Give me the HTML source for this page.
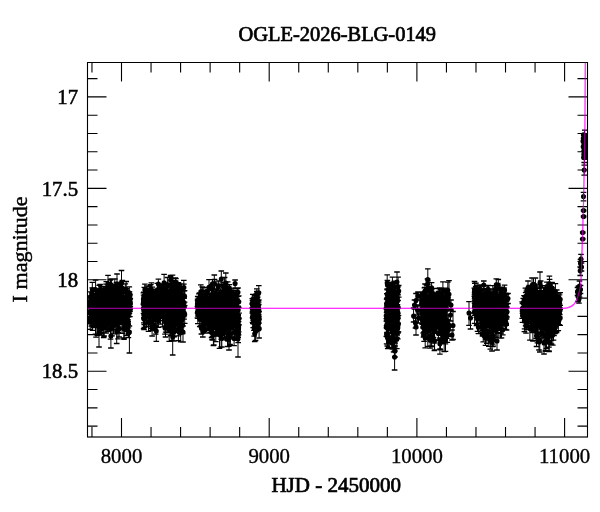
<!DOCTYPE html><html><head><meta charset="utf-8"><style>html,body{margin:0;padding:0;background:#fff;overflow:hidden}svg{display:block}</style></head><body><svg width="600" height="512" viewBox="0 0 600 512"><rect width="600" height="512" fill="#fff"/><defs><clipPath id="c"><rect x="87.5" y="62.5" width="500" height="374.5"/></clipPath></defs><g clip-path="url(#c)"><path id="m0" d="M87.5 308.4H562.6C567 308.4 571 307 574 304.2C577 301 579 294 580.6 285.6C581.2 280 581.6 265 581.8 258L582.4 240L583.6 200L584.4 160L584.9 130L585.3 62" stroke="#ff70ff" stroke-width="1.2" fill="none"/><path d="M90 301L91.4 299.1L92.7 297.8L94.1 297.2L95.4 296.5L96.8 295.9L98.2 295.3L99.5 294.6L100.9 294.2L102.3 293.8L103.6 293.4L105 293L106.3 292.9L107.7 292.8L109.1 292.7L110.4 292.6L111.8 292.5L113.2 292.4L114.5 292.3L115.9 292.1L117.2 291.9L118.6 291.7L120 291.5L121.3 292.6L122.7 293.7L124.1 294.8L125.4 296L126.8 297.3L128.1 298.6L129.5 300.7L129.5 320.1L128.1 320.5L126.8 320.5L125.4 320.4L124.1 320.2L122.7 319.9L121.3 319.6L120 319.2L118.6 319.2L117.2 319.2L115.9 319.2L114.5 319.2L113.2 319.2L111.8 319.2L110.4 319.1L109.1 319.1L107.7 319.1L106.3 319L105 319L103.6 318.9L102.3 318.8L100.9 318.7L99.5 318.6L98.2 318.5L96.8 318.5L95.4 318.4L94.1 318.4L92.7 318.4L91.4 318.5L90 318.8ZM144 297.7L145.4 296.9L146.8 296.9L148.1 296.8L149.5 296.7L150.9 296.7L152.3 296.8L153.7 296.9L155 297L156.4 294.4L157.8 291.8L159.2 291.4L160.6 291.3L161.9 291.3L163.3 291.2L164.7 291.2L166.1 291.1L167.4 291.1L168.8 291L170.2 291L171.6 290.9L173 290.8L174.3 290.8L175.7 291.1L177.1 291.8L178.5 292.4L179.9 293.1L181.2 294L182.6 295L184 296L184 322L182.6 321.3L181.2 320.5L179.9 319.8L178.5 319.7L177.1 319.5L175.7 319.3L174.3 319.3L173 319.3L171.6 319.3L170.2 319.3L168.8 319.3L167.4 319.2L166.1 319.1L164.7 319.1L163.3 319L161.9 319L160.6 318.9L159.2 318.9L157.8 318.9L156.4 319.4L155 320L153.7 319.1L152.3 318.3L150.9 317.4L149.5 316.8L148.1 316.7L146.8 316.6L145.4 316.4L144 316.5ZM198 299.2L199.4 298.4L200.8 298.3L202.2 298.4L203.6 298.4L205 298.4L206.4 297.4L207.8 296.3L209.1 295.3L210.5 294.7L211.9 294.7L213.3 294.7L214.7 294.8L216.1 294.8L217.5 294.9L218.9 294.9L220.3 295L221.7 295L223.1 294.9L224.5 294.9L225.9 294.9L227.3 294.8L228.6 294.8L230 294.8L231.4 294.8L232.8 294.7L234.2 294.7L235.6 295.3L237 296.7L238.4 298.7L238.4 325.8L237 326.3L235.6 326.3L234.2 326.3L232.8 326.2L231.4 326.1L230 326.1L228.6 326L227.3 326L225.9 325.9L224.5 325.8L223.1 325.8L221.7 325.7L220.3 325.6L218.9 325.3L217.5 324.8L216.1 324.4L214.7 324L213.3 323.6L211.9 323.3L210.5 323L209.1 322.8L207.8 322.7L206.4 322.7L205 322.6L203.6 321.7L202.2 320.9L200.8 320L199.4 319.4L198 319.3ZM253 300.4L253.2 300.4L253.4 300.4L253.5 300.4L253.7 300.4L253.9 300.4L254.1 300.4L254.3 300.4L254.5 300.4L254.6 300.4L254.8 300.4L255 300.4L255.2 300.4L255.4 300.4L255.6 300.4L255.7 300.4L255.9 300.4L256.1 300.4L256.3 300.4L256.5 300.4L256.7 300.4L256.8 300.4L257 300.4L257.2 300.4L257.4 300.4L257.6 300.4L257.8 300.4L257.9 300.4L258.1 300.5L258.3 300.6L258.3 324.2L258.1 324.5L257.9 324.6L257.8 324.6L257.6 324.6L257.4 324.6L257.2 324.6L257 324.6L256.8 324.6L256.7 324.6L256.5 324.6L256.3 324.6L256.1 324.6L255.9 324.6L255.7 324.6L255.6 324.6L255.4 324.6L255.2 324.6L255 324.6L254.8 324.6L254.6 324.6L254.5 324.6L254.3 324.6L254.1 324.6L253.9 324.6L253.7 324.6L253.5 324.6L253.4 324.6L253.2 324.6L253 324.6ZM386.8 294.1L387.2 293.8L387.6 293.7L387.9 293.6L388.3 293.5L388.7 293.4L389.1 293.3L389.5 293.2L389.9 293.1L390.2 293L390.6 292.9L391 292.8L391.4 292.7L391.8 292.6L392.2 292.5L392.5 292.4L392.9 292.3L393.3 292.1L393.7 292L394.1 291.8L394.5 291.7L394.8 291.5L395.2 291.4L395.6 291.2L396 291L396.4 290.8L396.8 290.6L397.1 290.4L397.5 290.1L397.9 289.8L397.9 323.2L397.5 323.8L397.1 324.3L396.8 324.7L396.4 324.9L396 325.1L395.6 325.4L395.2 325.6L394.8 325.8L394.5 326L394.1 326.2L393.7 326.4L393.3 326.6L392.9 326.8L392.5 327.1L392.2 327.3L391.8 327.4L391.4 327.4L391 327.4L390.6 327.4L390.2 327.5L389.9 327.5L389.5 327.5L389.1 327.5L388.7 327.5L388.3 327.6L387.9 327.6L387.6 327.6L387.2 327.6L386.8 327.5ZM422.5 299.1L423.4 298.8L424.2 298.4L425.1 298.1L426 298.1L426.9 298.2L427.7 298.2L428.6 298.2L429.5 298.3L430.4 298.3L431.2 298.3L432.1 298.2L433 298.2L433.8 298.2L434.7 298.2L435.6 298.1L436.5 298.1L437.3 298.1L438.2 298.1L439.1 298L439.9 298L440.8 298L441.7 298L442.6 297.9L443.4 297.9L444.3 297.9L445.2 298L446.1 298.3L446.9 298.7L447.8 299.1L447.8 329.5L446.9 329.7L446.1 329.9L445.2 330.1L444.3 330.1L443.4 330.1L442.6 330L441.7 330L440.8 329.9L439.9 329.9L439.1 329.9L438.2 329.8L437.3 329.8L436.5 329.7L435.6 329.7L434.7 329.7L433.8 329.6L433 329.6L432.1 329.5L431.2 329.5L430.4 329.5L429.5 329.3L428.6 329L427.7 328.7L426.9 328.4L426 328.1L425.1 327.8L424.2 327.6L423.4 327.4L422.5 326.7ZM475 294.9L476.1 294.9L477.1 295.1L478.2 295.2L479.3 295.3L480.3 295.4L481.4 295.5L482.5 295.6L483.6 295.6L484.6 295.7L485.7 295.6L486.8 295.5L487.8 295.4L488.9 295.4L490 295.5L491 295.6L492.1 295.7L493.2 295.7L494.2 295.8L495.3 295.8L496.4 295.7L497.4 295.5L498.5 295.6L499.6 295.8L500.7 296L501.7 296.1L502.8 296.5L503.9 297.1L504.9 297.6L506 298.5L506 317.5L504.9 319.4L503.9 320.6L502.8 321.8L501.7 323L500.7 324.3L499.6 325.3L498.5 325.9L497.4 326.5L496.4 327.2L495.3 327.9L494.2 327.9L493.2 327.5L492.1 327.2L491 326.8L490 326.5L488.9 326.1L487.8 325.8L486.8 325.5L485.7 325.2L484.6 324.6L483.6 323.4L482.5 322.3L481.4 321.1L480.3 320L479.3 318.7L478.2 317.5L477.1 316.2L476.1 315L475 314.1ZM523 299L524.3 297.3L525.5 296.6L526.8 295.8L528 295L529.3 294.9L530.6 294.7L531.8 294.5L533.1 294.4L534.3 294.4L535.6 294.4L536.8 294.5L538.1 294.5L539.4 294.9L540.6 295.1L541.9 295.2L543.1 295.3L544.4 295.4L545.7 295.5L546.9 295.6L548.2 295.7L549.4 295.7L550.7 295.7L551.9 295.7L553.2 295.8L554.5 295.6L555.7 296L557 296.7L558.2 297.5L559.5 298.7L559.5 318.5L558.2 320.4L557 321.7L555.7 322.9L554.5 324.2L553.2 325.6L551.9 326.3L550.7 326.8L549.4 327.4L548.2 328L546.9 328L545.7 327.8L544.4 327.7L543.1 327.5L541.9 327.4L540.6 327.2L539.4 326.6L538.1 325.6L536.8 324.6L535.6 323.6L534.3 322.7L533.1 321.7L531.8 320.8L530.6 319.8L529.3 318.9L528 318L526.8 317.2L525.5 316.4L524.3 315.7L523 315.3ZM583.3 133H588V160H583.3Z" fill="#000"/><path d="M114.9 303.5V312.1M129.8 295.9V303.9M110.4 280V288.6M124 304.5V312.1M122.8 297.6V315M105.7 308.8V319.2M116.4 298.4V310.4M99 304.8V319.5M90.2 295.8V308M106.8 302.9V311.4M110.5 299.1V310.5M121.8 301.7V308.7M103.2 299.2V315.3M127.1 290.8V306.9M122.3 299V308.4M91.3 313.2V326.2M108.9 288.2V298.1M91.7 301.7V309.2M90.1 305.1V320.7M122.1 311.6V333.4M93.8 304V310.8M118.9 293.4V301.2M99.6 291.2V299.2M101.5 309.3V321.4M118.4 308.5V332.5M111.2 308.6V323.2M118.8 309.1V328.6M115.6 298.5V308.4M106.5 294.6V306.9M104.9 306.8V320.3M95.3 298V306.1M126.8 316.2V330.7M102.1 292.9V301.7M126.9 316.5V330.2M109.9 309.2V327M111.2 297.6V312.6M129.5 291.8V305.3M125.4 301.1V312.3M120.3 298V305.3M110.3 309.2V320.6M118.1 302.9V312M119.1 299.5V308M119.2 286.1V300.5M107.9 302.2V309.9M123.2 300.1V312.1M130.3 298.5V306.5M125.5 315.6V329.7M109.5 287.4V300.9M120.8 311.7V324.5M91.5 295.5V308.6M115.1 307V326.8M92 300.1V307.1M120.8 294.4V304.4M96.3 300.5V309.1M105.9 301.3V314.4M120.9 309.3V322.3M123.4 305.8V314.6M128.3 312.2V334M117.7 304.2V314.5M127.3 303.2V310.2M121.5 286.8V295.6M118.1 298.8V310.6M124.6 301.4V312.2M108.3 300.9V314.3M92.3 307.8V320.7M120.1 294.1V303.5M96 314.3V337.2M93.6 311.4V327.4M109.2 295.7V311.8M120.1 285.1V292.6M103.9 309V326.1M99.7 299.4V308.4M107.2 306.2V317.1M126.4 313.5V324.9M126.9 313.7V325.1M119.5 292.9V302M125.9 312.5V328.9M94.9 302.5V320M120.5 285.9V301.1M118.2 307.4V318.8M101 286.7V293.3M102.9 310.5V325M115.2 310V324.4M111.7 314.3V328.9M94.5 308.3V318.9M93.2 297.7V311.3M107.1 297.2V307.1M112.9 291.9V301.1M116.2 307V324.9M118.8 311.5V329.2M114.8 279V293M122.4 304.8V314.4M126.4 311.2V331.7M93.1 300.1V311.3M95.8 293.7V300.4M93.7 297.1V304.4M106.8 313.6V329.1M130 294.5V303.5M115.5 288.6V298.8M117.8 291.7V306.4M92.2 287.8V299.8M101.7 289.5V303.5M104.5 310.8V324.8M113.5 319.4V333.8M113.1 302.8V311.9M97.2 303.1V316.3M106 284.2V294.4M109.1 311.9V328.9M124 310.2V324.4M94.3 293.5V302M127.3 291.9V299.3M126.2 301V311.3M120.6 292.4V304.1M130.1 298.3V309.5M126.7 291.4V299.3M91.1 309.5V323.5M111.7 303.8V320.6M129.2 304.8V313.9M101.3 292.5V301.5M128.6 306.4V316M102.6 310V323.9M91.7 305.6V314.8M107.6 289.4V296.9M104.8 313.2V325.7M93.5 313.1V327.7M100.5 295.4V302.4M107 305.2V313.9M130 304.3V311.3M104.4 289.6V297.1M117.8 298.8V306.1M97 306.1V315.6M122.1 306.4V314.4M119.1 321.3V337M95.6 280.2V298.6M117.2 309.9V330.3M128.3 292.5V303.3M107.3 310.4V323.5M129.8 299.3V308.6M103.5 302.9V316.5M97 290.8V299.2M109.5 285.1V302.6M101.3 301.8V318.9M115.7 285.5V292.4M90.6 300.6V312.5M107.8 302.8V316.7M98.3 312.8V334.2M101.5 302.6V317.6M103 302.8V312.5M128.5 299.9V306.8M112.2 308.2V320.2M104.8 315.1V328M114.6 287.5V300.7M118.5 298.9V311.3M116.2 286.2V295.8M90.7 297.7V306.5M117.4 310.1V321.5M100.1 312.5V327.7M97.5 304.9V312.9M106.4 315.8V332.8M110.4 309.7V324.9M100.2 298V311.6M118.1 302.7V312.6M109.6 287.8V294.5M100.1 284.5V295.7M102 291.3V299.6M106.3 281.7V296.9M113.4 303.7V315.2M93.4 304.5V312.9M104.4 303.2V319.8M103.7 296.1V304.3M91 297.1V304.7M89.5 297.4V314.3M101.2 294.9V305.5M100.7 303.8V321.6M122.4 280.5V296.5M110.6 279.3V293.1M89.9 291.8V310.7M123.5 309.5V322.6M93.8 309.4V320.9M122.9 307.1V317.5M121.5 290.8V297.4M100.9 306.1V324.9M117.4 296.1V306.5M92.9 301.8V310M112.7 290.1V302.6M120.8 291.8V300.8M101.2 286.5V303.6M109.6 301.2V319.8M126.7 312.3V325.9M109.6 315V328.7M117.8 296.7V307.6M129.5 293.7V303.5M101.5 288.1V299.5M98.7 311.1V323.9M93 308.7V321.2M108.9 297.8V316.4M110.2 290.9V298.5M104 290.3V298.1M92.1 306.4V325.4M106.7 313V329.3M109.8 301.5V316.2M93.6 301V317.8M101.1 310.7V324.2M109.9 286.6V295.6M124.2 316.1V329.5M90.2 313.5V329.4M107.5 316.3V331.4M109.1 312.4V327M108.9 294.2V301.5M123.4 305.2V314.3M120.5 295.2V308.3M104.1 317.8V336M104.2 310.1V322M124.6 308.3V318.6M99.2 285.4V299.9M126.5 288.6V305.8M96.2 294.9V304.8M103.7 286.3V299.5M89.5 311.6V323.9M116.7 286.7V303.6M128 303.9V311.7M93.7 297.8V311.4M92.6 306.4V330.4M90.2 297.9V312.2M121 284.4V293.3M120 291.1V298.9M112.2 297.8V305.9M127.9 310.1V319.7M106.2 302.1V312M127.3 292.2V300.7M118.6 307.2V326.8M124 301.6V310M99.6 297.6V306.2M99.8 309.5V322.5M121.7 293.7V302.7M90 306V318.1M103.8 295.5V312.1M108.3 288.4V300.6M97.5 298V307.2M99.1 295.1V302.1M95.8 291.4V299.2M124.2 304.8V315.5M96.3 303.3V312.7M126.9 318.2V335.5M125.4 292.6V302.3M116.5 282.3V293.6M96.6 298.4V316.8M116.8 293.1V303.1M129.9 304.3V316.7M125.3 283.8V298.8M128.5 315.9V333.4M124.4 307.5V315.3M112.4 296V305.3M127.6 304.9V314.4M128.2 309.8V321.6M95.5 314.9V334.1M128.7 308.9V316.9M92.7 299.2V313.2M100.2 303.1V311.7M110.8 288.2V298.3M113.3 288V297.5M101.6 307.8V317.8M118.4 312.6V328.9M97.9 310.3V326M129.5 299.7V313.1M121.6 297.5V309.7M95.8 297.2V304.3M97.3 311.4V335.4M125.1 305.9V313.5M116.6 302.6V319.5M114.3 287.8V299.8M107.4 296.3V310.4M118.5 299.4V307M115.1 315.6V329.5M128.4 327.9V337.7M110.5 324.6V339.1M118 324.9V338.8M116.7 325.8V343.5M124 323.2V338M101.6 325.5V335.1M105.8 322.2V333M124 324.6V339.3M112.1 323V335.9M97.9 321.1V334.4M100.6 323.3V333.5M100.8 321.2V332.2M103.7 321.7V337.5M92.3 282.3V293.5M126.2 281.5V292.7M108 275.4V289.4M111.6 279V289.3M129.3 286.8V296.9M99 327V347M110.9 330V348M129.4 326V353M121.5 270.5V288.5M117 274V290M175.1 306V317.5M146.8 295.2V307.4M167.4 277.5V291.3M150 309.5V326.9M173.9 316.7V341M172.9 286.9V300.8M173.3 314.9V335.9M169.3 308.4V328.4M159.4 300.9V309.8M179.7 315.1V333.3M161.3 290V297.3M178 285.9V297.2M171.2 280.9V290.3M182.6 316.4V333.5M183.6 301.8V314.3M156.3 292.3V299.2M183.8 280.3V294.9M177.7 314.6V328.3M144 305.7V317.9M159.1 290V299.5M154.3 295.2V312.7M145.6 288.3V307.3M150.3 308.1V323.2M179.7 315.9V332.3M171.2 297.4V309.2M184.7 305.6V323.4M152.5 308.7V325.5M182.1 295.5V307.9M155.8 309.2V325.8M152.7 302.9V313.3M145 304.5V318.7M153.1 299.5V309.2M170.5 299.2V311.6M174.6 292.3V301.5M162.9 299.8V308.3M175.4 309.4V332.4M163.1 306.6V320.5M151.5 299.4V309.9M177.4 310.7V322.5M160.4 306V320.6M177.6 284.3V295.3M152.3 293.4V301.9M174 290.6V302.6M150.5 309.3V323.8M169.2 312.5V325.6M167.1 291.5V299M171.4 296.4V311.4M172.9 292V303.7M180.8 294.2V307M144.8 306.6V319.4M172.6 301.6V313.3M151.6 315.9V328.6M170 303.6V313.7M181 310.8V332.6M144 300.6V313.7M157.7 305.3V317.9M166.4 283.8V299.5M148.9 299.3V307.9M165.7 314.4V332.2M160 297.7V305M181.3 305.8V315M170.6 275.4V292.3M152 289.1V297.2M143.8 307.6V322.9M178.1 283.6V294.9M145.9 307.1V318.1M168.3 296.8V307.9M162.4 307.5V326.9M154.9 306.6V314M184 298.3V307.6M172.2 291.2V300.8M164.5 294.9V306.7M159.7 287.2V295.7M155.1 308.9V320.4M182.8 293.1V300.9M146.9 292.6V304.6M144.9 284.1V295.5M174.6 287.9V304.8M151.1 302.5V324.5M153.1 309.6V326.8M181 305.3V314.7M146.6 304V326.2M162.9 286.7V294.9M149.7 285.9V297.2M152.4 289.4V301.3M149.2 289.2V307.5M170.6 276.5V283.8M165.8 293V305.8M149.4 289.4V306.3M167.9 312.6V327M146.2 289.3V303.9M143.8 292.2V301.6M157.1 293.9V301.1M147.6 298.2V308.8M151.7 302.4V310.5M167.9 309.5V322.7M181.4 314.7V327.9M165.3 290.7V307.6M155 291.1V301.9M172 309.5V329.9M153.2 294.9V302.8M154.2 293.9V312M167.6 310.1V329.2M161.8 299.9V307M173.8 311.2V322.8M164 286.5V296.5M148.9 292.9V299.2M176.4 309.7V326.2M173.2 304V311.4M171.9 318.2V340.3M146.1 296.4V314.1M165.8 303.1V317.9M158.3 314.2V327.3M151.8 305.8V313.2M177.6 297.7V312.7M163.9 289.4V297.9M143.4 292.8V304.5M152 291.3V298.7M145.8 289.4V307.3M173.8 299.7V315.7M158.7 302.1V320.5M150.3 300.2V308.7M178.9 285V292.4M180 283.8V292.1M176.3 297V305.3M148.3 289V302M179.4 292.6V299.5M175.7 299.6V310.2M145.7 303.2V315M161.1 283.9V293.7M170.1 290.1V301.5M153.8 291.8V300.3M165.3 288.5V298M160.2 298.6V306.8M146.5 300.2V311.1M166.5 286.9V294.5M151.4 297.8V305.4M166.9 309.9V323.2M178.9 291.2V301.9M166.7 299.2V313M146 306.7V323M169.3 305.8V313.3M156.3 290.9V302.1M146.5 291.1V303M179.7 308.9V329.8M171.3 310.7V331M158.9 289.1V303M161.8 286.4V304M180 289.7V302.4M160 284.6V297.1M181.2 303.2V314.3M179.5 304.4V313.6M158.4 279.2V289.4M179.8 290V297.6M181.6 311.1V332.1M172.7 278V291.4M144.3 287.4V304.8M171 307.4V320.4M167.4 297.8V306.9M178.5 282.7V294.7M160.1 306.8V317.3M182.5 298V304.7M161.3 285.9V294.2M157 297.4V304.7M168.4 308.2V323.4M153.2 301.7V309.6M151.8 299.1V309.2M151.5 293.7V302.6M156.1 292.9V301.5M168.8 299.7V317.7M182.3 304.5V317.7M173.5 314.3V328.3M183.7 306.8V316.9M169.7 288.1V296.5M181 293.4V300.4M177.5 299.7V307.1M175.7 281.2V288.7M182.1 308.6V319.7M143.6 295.2V303.2M157.4 283.3V296.3M171.2 302.1V308.4M152.3 302V314.3M170.7 311.2V335.2M157.5 295.3V306.8M175.4 277.8V287.6M145.7 309.2V323.3M183.9 284.1V291.1M169.8 296.4V305M165.8 304.6V315.5M175.1 287.7V297.8M147.3 295V312.8M152.6 305.1V323.5M161.3 293.6V306.4M173.9 295.6V311.3M181.6 283.8V296.3M166.1 297.2V308.6M170.3 297.3V305.2M148.5 300.2V315.1M179 304.1V314.8M163.4 295.4V305.2M168 300.3V309.6M164.6 312.4V326.4M169.2 290.9V298.1M155.7 303.7V320.7M169.9 304.4V313.3M164.5 286.1V296M162 303.4V313.8M145 292.3V300.2M150.1 291.2V301.6M176.1 301.1V311.7M173.9 289.7V303.2M153.1 311.5V325.2M157.2 311.5V323.9M152.4 287.1V295.9M144.2 308.5V324.7M143.9 302.6V318M174.6 302.8V313.1M151.5 313.2V330.7M156.5 307.6V316.7M158.1 301.7V310M170.7 311.3V335.8M174.7 309.2V324.6M147.4 294V312.2M148.1 306.9V324.2M160.6 303.8V324.1M158.2 301.6V314.2M172.1 295.6V310.2M159.9 297.6V311.4M174.4 294.8V311.3M176.6 297.9V308.8M158.5 302.1V314.2M165 284.8V292.5M143.5 304V313.4M146.1 303.3V313.6M148.8 300.9V307.7M172.4 301.2V308.5M176.7 311V322.5M176.2 309.7V330.3M175.9 278.6V285.2M184.1 307.2V319.2M144.3 299.7V310.8M156.3 291.7V298.2M167 316.2V332.4M179.7 311.5V326.5M173.4 298.2V317M144.3 307.5V327.5M150.9 295.4V302.7M166 310.7V321.5M149.1 286.6V299.1M167.8 302.7V313.6M160.3 286.1V293.6M158.5 305.4V317.2M157.7 311.9V324.1M146.7 299.7V309.1M177.3 314.1V326M143.6 308.4V328.7M155.2 301.8V311.1M144 309V329.7M184.6 290.6V302.2M178.6 291.9V307M175.5 304.4V319.5M171 284V301.1M152.4 308.4V321.8M183.7 296.6V312.4M171.8 295.9V308.7M154.9 299.9V309.7M170.4 324V332.5M148.5 317.8V331.3M178.4 325.8V340.6M180.7 329.6V341.9M169.2 326.3V341.3M165.5 322.9V337M152.1 324.3V336M155.7 321.1V334.1M174.1 328.1V336.9M165 322.3V334.1M172.9 323.3V333.5M178.1 325.3V335.9M156.3 326.2V341.3M164.1 274.4V286.7M150.8 284.7V294.4M172.5 275.2V286.3M147 285.8V294.5M151.4 282.9V294.6M172.7 331V355M183 326V342M204.5 304.8V316.6M229.4 284.6V292.5M221.2 323.6V339.4M210.5 316.4V332.4M216.5 318.1V336.1M230.3 297.8V310.7M201 312.2V325.7M223.7 309.6V318.6M232.9 320.8V332.2M227 319.9V340.1M227.4 325.2V340.4M217.5 313.4V327.8M227.5 324.3V337.1M208.7 301.5V309.9M224.7 324.3V338.8M229.6 316.4V328.9M214.6 297.7V306.1M232.6 302.3V312.2M237.1 314.6V330.9M204.1 290.4V303.4M215.8 326.9V341.6M228.6 314V327.1M229.1 301.3V310.1M232.4 307.7V322M217.6 316.3V328.8M197.9 302.5V318.3M229.6 290.6V308.5M211.9 284.7V293.5M209.9 302.4V311.1M220.8 296.2V306.7M209.2 306.8V315.4M227.3 302.6V317.1M228 289.9V302M214.1 314.1V326M224 316.4V331.8M235.7 325.9V340.2M201.2 310.8V327.2M201.1 299.3V316.2M202.2 286.8V297M197.6 300.7V308.2M233.2 292V311M217.6 293.4V300.5M224.2 313V331.7M237.2 288.5V299.2M210 311.1V321.5M206.1 301.4V316.8M215.6 304.3V316.3M207.5 302.2V313.1M232.4 298.6V308.1M228.9 293.2V300.2M231.5 288.8V300.9M202.9 299.2V316.6M218.9 296.2V304.7M221.1 309.4V323.3M207.2 287.4V295.2M235.6 294.7V311.7M227.6 321V332.9M221.1 290.5V297.8M224.5 324.6V338.7M222.3 284.6V303.4M206.4 306.1V323.6M207 291.6V306.1M227.7 281.9V294.6M238.6 321.7V334.8M235.5 290.4V304.9M228.1 325.5V341.1M238.7 318.3V331.9M226.2 311.6V322.1M238.2 315.9V329.1M215.8 315.6V332.5M208.4 299V308.3M206.4 293.8V303.8M220.6 302.4V309.4M227.9 297.6V315.1M232.2 306.5V321.9M213 298.8V311.3M220.6 288.8V298.5M220.6 292.7V302.5M224 304V314.1M209.2 313.7V324.9M209.6 310.3V320.8M231.3 306.2V319.4M227.2 312.6V328.1M206 300.1V307.7M232.5 305.5V312.5M214.3 302.8V316.3M235.8 308.2V322.1M219.3 307V319.4M235.2 309.7V321.4M202.7 290.2V299.6M200 297.3V313.6M227.2 293.3V302.4M214.9 304.1V314.1M223.8 287.4V304M216.6 306.6V314.3M225.7 282.1V293M236.4 299.2V310.1M221.3 306V317.4M228.6 293.6V302.1M204.2 316V328.9M238 288V296.4M226.3 317.7V337.5M228.9 308.4V316.1M228.8 330.5V346.3M224.6 277.5V293.3M224 308.6V316.1M218.7 312.5V332.1M220.8 318.1V328.3M210.6 314.4V326M214.5 291.6V301.3M211.8 288.7V304.1M218.4 314.5V331M230.1 296.7V315.3M218.3 299.6V312M200.7 302.3V315.4M217 288.9V303.9M210.3 311V319.4M222.2 295.6V312M221 317.9V334.3M211.3 302V311.9M219.5 302.6V310.6M228.6 311.4V324.4M198.1 301.6V312.7M219.5 323.1V348.4M216.9 296.6V308.3M220 294.6V303.8M215.2 290V298.3M210.7 308.8V317.5M208.3 316.6V329.8M223.4 314.3V327.1M228.8 316.9V332.7M210.4 293.4V309.8M231.1 307.1V317M205.1 293.2V304.6M226.4 303.6V311.3M200.2 307.7V319.3M223.6 285.9V297.3M238.2 324.3V337.3M236 297.1V305.9M232.4 316.9V329.9M229.6 297.4V306.2M224.9 286.7V296.8M224.8 314.5V334M224.2 300.7V313.1M210.2 300.4V313.2M226.8 317.8V329.5M231.2 308.6V327.3M229.6 310.8V329.2M236 318.2V331.2M206.2 304.2V312.2M209.2 319.2V333.1M199.5 292.8V306.9M216.6 315.1V328.4M207.1 293.3V305.6M215.3 299.5V306.1M220.3 298.3V308.4M226.9 310V320.9M197.4 306.3V317.8M238.8 295.8V307.4M231.8 291V301M217.8 309.3V321.5M235.1 280V287.8M215.6 315V332.1M228.5 306.3V316.1M219.7 307.4V317.9M226.6 290.6V299.7M227 291.1V304.9M223.6 319V332.1M226.5 296.6V303.4M230.6 321.5V335M224.1 287.2V300.4M224.7 304V313.5M219.4 314.4V329.9M227.1 301.5V311.6M226.8 304.6V315.2M219.6 313.8V335.6M199.7 307.2V326.5M202.1 306.1V318.9M225.1 317.3V329.2M218.7 311.1V322.2M233 303.4V310.6M222.2 311.8V328.4M208.2 302.1V310.1M197.9 305.3V316.1M234.9 295.3V314M224.5 294.9V304.4M204.1 306.6V314M197.8 305.8V323.7M209 313.8V330.3M202.8 301V308.4M213 285.1V301.8M216.9 313.6V335.9M217.6 312.7V322.8M204.7 299.6V312.8M221.6 307.1V315.8M215 297.5V316.7M202 300.5V311.9M213.1 314V327.5M204.9 311.3V329.9M228.4 299.6V308.4M202.3 313.1V326.7M205.8 309.3V318.8M234.4 323.5V339.3M233.2 311.7V323.1M213.2 304.5V312.4M232.4 299.1V312M207.1 306.5V317.9M206.4 306.2V327.9M224.1 294.2V303.1M230.3 303.8V318M205.8 295.5V311.2M222.6 314.9V328.7M238.2 318.9V334.1M222.9 282.8V301M205.2 313.3V330.7M209 279.7V294.1M238.2 306.1V314.7M204.4 317.2V331.4M211.8 284.8V293.2M222 291.5V297.8M215.5 310.3V327.1M203.1 287.9V301.1M205.3 296.6V311.3M233.5 312.6V332.2M230.5 316.5V327.2M231.4 290.3V303M206.7 311.3V322.8M237.1 317.1V331.5M218.4 313.3V323.2M204 307.9V316.1M223.1 321.2V333.9M207.4 313.4V328.9M219.1 317V330.9M236.1 309.5V319.7M200.6 307.6V321.1M223.4 317V331.9M217.1 317.5V332.7M224.8 282.1V294.6M223.2 304.5V322.3M235.8 306.3V315.4M224.9 304.4V313.2M224.3 312.8V325.3M226.8 299.8V313.3M215.9 301.5V309.5M197.6 299.2V313.2M236 300V309.6M228.1 304.7V315M201.8 294.8V304.2M210.2 314.6V327M217.5 300.5V307.2M226.5 314.8V324.8M239.1 313.2V324.8M230.1 313.5V322.3M233.5 309.9V324.3M205.4 294.2V303.2M203 309.4V318.6M200.5 306V320M215.9 300.6V309.7M205.4 310.1V333M211.6 293.4V300.3M198.9 299.8V308.9M215 289.8V299M203.2 290.2V304.4M237.3 309.2V318.1M206.4 303.8V316.9M201.6 293.3V304.4M223.8 308.2V317.5M215.7 309.6V317.8M212.5 314.1V336.4M230.4 301.4V315.4M237.4 322.1V334.5M213.8 321.3V345M197.7 296.5V303.9M224.1 305.6V312M237.9 317.3V334.6M198.9 293.9V301.7M212.3 315.5V333.4M216.9 295.6V307.1M234.9 293.4V302M227.1 307.2V316M218.3 304.9V320.1M218.1 281.2V292.5M203.5 304V314.7M234.1 332.8V345.6M212.3 329.2V340.1M230 332V344.5M238.2 330.2V342.6M230.3 333.8V345.5M211.6 328.6V337.5M227.5 332.6V346.5M213.4 329.6V345.5M212.1 328.7V339.3M221.1 332.1V346.9M201.4 324.1V334M221.8 335.3V347.1M202.8 326.9V337M218.8 280.8V290.8M214.3 275V289.1M214.6 279.3V289M212.5 279.7V288.6M200.8 284.8V295.1M221.3 271V285M225.8 273V289M238 333V357M229 333V350M255.9 295.1V308.5M256.4 309.8V322.2M254.1 321V336.1M258.7 314.7V329.1M258.5 300.7V309.7M256.6 310.9V322.9M258.8 304.5V320M252.5 300.7V317.9M256.1 306.6V327.2M258.6 302.1V312.5M256.2 293.9V306.3M257.1 308.7V326.3M257.8 309.4V324.4M252.8 312V323.5M255.3 294.8V309.9M258.2 312.9V323.2M253.9 300.8V313M253 309.5V318.1M257 306.7V314.2M259.1 319V338M252.3 298.6V307.8M257.5 309.2V315.5M252.3 303.5V313.1M259.1 311.3V323.2M258.3 312.9V327.9M256.7 314.5V326.7M256.3 316.2V331.7M256.8 309.5V316.7M253.9 316V330.3M257.5 317V327.9M258.5 316.5V329.9M256.5 294.4V303.7M253.2 311.1V320.1M253.2 308.5V323.7M257.1 297.4V305.8M257.6 314V329.6M256.3 305.6V312.8M253.4 307.2V314.4M252.8 294.3V305.6M258.2 312.4V324.9M253.5 297.9V307.4M258.8 285.7V299.8M257.5 297.7V305.4M252.3 304.4V313.1M253.2 308.1V318.3M255.8 311.9V319.4M257.5 295.8V304.9M254.7 302.4V310.8M256.4 308.9V316.6M257.6 297.4V312M256.8 291.3V300.5M254.3 297.5V305.8M258.3 305.5V314.8M253.2 305.5V315.8M255.9 312.2V322.3M254.1 302.7V310.3M254.4 295.8V305.4M253.2 312.9V327.7M257.5 302V312.9M254.3 310.1V317.7M256.4 308.3V322M258 312.4V330.7M252.5 311.5V322.3M254.7 329.7V341.5M255.6 326.6V340.5M256.8 288.9V298.3M398.7 285.5V297.2M398 318.3V333.2M388.4 320.4V337.7M395.1 317.9V331.5M396.1 308.5V320.4M393.6 314.6V329.5M394.8 285.7V299M389 288.8V296.7M396.1 293.4V308.5M388.3 305V315M391.2 313.3V326.4M395.2 318.5V331.2M392.3 330.1V348.9M387.8 318.5V337.1M395.9 293.6V301M388.3 283.8V295M394.5 312.5V322.1M387.1 318.3V336.8M397 312V322.6M396.7 294.3V306M389.2 309.7V319.3M398.1 300.5V313.2M392.4 286.7V293.7M395.1 301.3V308.8M388.1 320.1V338.4M393.4 300V308.5M389 304.2V320.4M387.8 299.6V309.3M389 321.1V335.9M392.6 330.4V344.7M389.6 307.3V318.7M391.8 300.9V318M393.4 313.7V325.1M394.5 305.2V320.7M396.9 319.5V337.4M392.5 320.2V336M395.9 320.7V338.5M388.6 284.2V298M393.1 324V339.2M395.1 323.8V343.2M397.7 307.5V316.2M393.1 322.7V338M397.8 317.4V338.8M397.5 304.6V319.7M388.8 313.3V323.7M391.3 320V336.1M386.8 293.6V303.4M388.6 294.2V312.6M389.1 311.3V319.6M392.8 315.8V331.3M386.3 318.6V336.3M397.5 294V308.6M386.6 325.6V343.9M394.3 302.7V312.1M394.8 297.8V304.2M395 291.9V299.5M398.5 315.4V331.8M397.1 316.6V329.4M391 282.4V289.6M388.1 308.4V319.4M397 290.9V299M387.4 327.4V344.1M398.1 277.1V294.8M393 307.8V323.2M391.4 294.6V307.3M397.4 292.5V304.6M391.9 333.3V348M393.7 300V307.5M391.5 310.3V320.5M396.9 317.9V333.8M392.5 325.4V339.9M395.4 300V311.1M392.4 277.2V289.8M397.8 315.4V331.7M396.2 303.5V315.9M396.9 318.3V331.1M387.4 280.5V289.8M394.4 294.8V301.4M387.2 298.4V306.2M386.9 317.5V332.5M386.3 308.9V321.1M394 303.7V317.7M397.3 314.1V327.8M387.6 293.7V302.3M394.5 281.1V293.3M390.4 298.3V309.9M393.2 285V301.9M386.6 299.2V309.5M394.7 313.6V330.5M391.6 315.2V333.4M396.9 323.8V338.4M397.2 314.9V335.2M395.5 291.6V303.8M395.4 290V296.9M386.6 307.5V316M393.5 286.3V303M387.4 302.5V319.7M386.6 312.5V328M387.1 289.7V298.5M387.3 324.4V346M391.1 317.7V332.9M396.8 308.9V319.7M396.8 333.5V348.7M393.6 337.3V351.9M387.7 333.8V348.5M388.8 336.8V347.5M387.2 274.9V289M394.6 351V370M397 272V287M394 342V352M395 346V357M392.5 338V349M442.1 299.4V310.8M430.5 303.6V310.5M424 318.5V332M439.5 288.3V300.2M438.5 291.3V301.8M421.8 297.5V306.1M430.9 313.5V323.6M443.2 324.4V340.5M444.2 327.7V341.7M439.5 293.2V306.5M433.7 288.4V299.2M422.3 294.4V312M429.3 288.9V306.4M444.4 296.8V314.2M424.8 307.3V319.4M424.1 296.2V303.1M425.6 315.7V324.3M433.9 309.3V320.4M430.5 319.8V335.4M448.6 320.4V336M425.3 305.7V314.2M444.2 323.4V336.1M427.6 291.5V303M422.9 310.9V321.4M424.9 299V307.4M422.4 291.9V301.3M424.9 307.8V320.8M436 314.4V331.1M423.3 307.7V326.6M425.9 299.8V313.2M439.5 308.9V316.7M441.4 321V338.3M423.9 321.9V334.6M429.7 290.6V307.6M434 322.3V343M438.4 325.7V340.5M443.4 319.8V335.6M433.7 303.8V315.3M425.6 319.5V331M434 303.2V312.9M431.3 314.1V323.6M439.5 287.8V300M444.4 318.6V331.7M434.8 295V307M428 319V338.3M427.3 318.1V332.1M434.6 330.7V349.9M426.3 299.2V309.1M427 298.8V314.6M432 315.7V336.4M444.8 310.4V322.6M443.1 312.2V321.7M427.1 306V318.6M429.6 304V318.5M441 304V314.5M430.6 323.2V336M423.2 319.1V333M428.2 310.2V319.4M432.9 311.7V325M433.4 311.3V322.7M445.1 318.5V335.2M421.9 294.5V303.4M439 300.2V317.2M430.4 314.5V326.6M441.2 322.9V340M429.5 296.1V306.4M424.5 317V327.3M424 294.9V313.3M442.7 328.4V343.4M428.6 292.4V301.6M445.7 288.1V295.7M448.1 297.2V304.2M441.4 321.5V335M437.9 315V324.5M428 309.1V328.4M427.6 310V329.5M446 295.1V307.7M437.2 293.5V309.5M432.1 316V327.3M431 310.2V318.5M428.3 312.7V320.4M424.1 312V325.3M436.1 298.5V308.4M446.9 321.5V338.4M442.8 320.9V335.2M428.3 322.5V336.7M441.3 308.2V319.3M437.7 314.4V325M424.4 287.8V296.9M439.1 306V315.8M441.7 312.4V322.7M446.1 320.3V337.3M422.5 308V319.4M443.2 298.9V315.8M433.5 319.2V337.4M428.6 311.7V325.6M428 304.1V320.7M446.3 292.7V301.2M424.1 324.6V341.3M437.8 310V318M444.8 319V337.9M441.9 319.4V332.7M448.2 294.8V302.4M443.4 291.4V300.6M423.2 308.1V324.1M432.6 304.1V314.3M445.3 324.1V337.5M422.2 313.3V324.3M428.5 319.4V332.6M424.8 297.7V311.6M422.2 301.2V314.4M425 284V298.9M437 313.7V325M426.2 324V338.4M423.5 317.6V337.2M433.6 301.8V310.1M435.9 295V304.1M426.8 319.5V332.5M423.1 315V328M443 296.7V308M438.6 302.8V316.3M447.1 319.4V335.9M434.4 329.4V350.7M429.5 298.5V308.5M443 321V332.6M447.3 324V342.3M447.4 322.7V336M434.7 308.7V316.8M428.5 300.7V310.4M422.3 292.6V302M444.5 305V313.4M443.7 312.5V319.5M424.3 292.6V299.7M442.1 309V317.6M442.7 305.3V317.1M427.8 328.7V346.3M429.3 320.3V336.3M422.9 304.1V313.3M436.7 294.4V302.8M433.1 315.9V333.4M433.4 296.7V305.8M423 294.6V303.7M429.8 301.5V318.2M422.3 305.2V320.2M431.6 303.9V314.5M423.9 322.4V335.9M439.1 303.3V321.6M441.4 294.8V305.7M422.1 303.7V317.4M424.8 287.3V295M438.2 288.7V297.3M426.5 285V296.1M436.8 312.4V321.3M432 288.9V300.9M426.6 298.5V313.5M426 296V306M444.3 321.2V334.3M444.1 320.6V333.1M444.5 311.1V320.4M442.7 321.5V334.3M428.8 309.1V323.3M448.3 324V336.3M438.3 301.2V309.2M434.8 297.6V304.9M424.2 294V304.9M440.8 289.4V296M443.3 295.7V304.4M448.3 315.4V335.7M422.5 293V301.7M432.6 303.7V320.2M440.1 310.5V327.5M431 327.7V345.8M441.8 304.9V324.3M436.5 304.9V319.6M437.5 314.4V322.9M433.8 297.4V305.4M442.9 281.8V299M447 298.5V311M442.9 320.5V335.4M431.5 305.3V315M431.1 288.8V295.3M445.5 335.7V351.4M439.9 339.5V354.1M440.5 338.4V349.8M431.7 335.7V346.6M444.2 336.1V351.5M425.2 333.9V347.9M445.4 334.3V343.9M430.1 336.4V348.1M431.6 282.7V292.1M428 280.8V291.5M447.8 282.2V294.1M416 293.5V306.5M413.6 308V322M415.5 318V328M417.5 305V315M414.5 300V309M416 321V335M418.5 313V323M418 292V300M427.8 268.8V284.5M427.5 279V289M449 280.6V300.2M453 311.5V339.5M451 300V310M450.5 309V321M452 330V340M440 338V349M482.8 306.3V313.1M478.1 293.5V301M481.6 294.6V301.6M491.8 311.4V320.2M474.6 300.2V315.3M483.8 281V289.1M500.3 295.6V304.5M482.6 314.2V335M486.4 310V318.3M483.7 313.7V326M505.5 309.9V329.3M501 316V330.2M503.8 296.3V310.9M487.6 295.8V303.1M492.1 302.4V312.6M475.1 294.6V303M488 316.2V333.7M483.5 315.2V326.5M485.5 302.5V310.5M499.5 303.1V319.7M480.9 311.8V326M476.7 304.1V314.2M490 304.2V311.5M498.7 303.1V310.3M497.2 318.1V332.7M500.5 319.8V338.1M496.9 297.3V305.2M476.9 305.8V324.6M494.6 313.9V326.9M478.6 288V301M496.4 287.3V297M483.3 301.5V317.4M505.1 305.7V314.6M500.5 289V304.2M487.5 305.7V318.3M505.1 310.9V329.5M495.6 314.3V330.2M475.1 291.1V306M488.3 308.9V326.1M498.7 309.9V318.1M483.2 316V329M477.5 306.8V331.4M485.3 289.3V306.9M475.9 299.3V306.8M503.5 296.3V308M498.9 309.3V320.9M490.7 310.3V327.2M505.2 311.5V323.8M487.1 285.8V300.3M485 322.3V337.4M491.2 318.4V333.7M479.9 306.5V320.4M487.9 316.2V327.5M504.4 294.2V304.6M476.3 299.6V317.4M506.1 304.9V315.9M485 288.7V297.9M500.5 312.2V325.2M480.9 309.3V323M499.8 308.5V321.5M499.8 303.9V315.1M484.3 291.9V300.3M479.9 298.4V311.3M491.7 324V340.4M492.7 314.9V338.4M487.1 314.9V324.1M486.5 293V303M486.2 304.9V321.4M482.7 315.5V334.9M479.9 295.4V310.7M474.8 283.4V296.2M501 314.6V333.2M482.2 306.4V321.7M499.6 297.7V307.8M506.1 311.4V324.8M475.4 290.3V303.5M498.4 306.6V314.2M479.7 292.2V300M476.7 302V323.4M487.6 310.8V320.7M497.6 283.5V290.1M475 291.6V298.5M483.8 309.9V321.8M495.8 288.3V295.8M496 294.3V303.8M477.1 294.6V304.3M492.8 320.4V334.2M495.5 293.9V304.6M500.4 303.6V318.5M475.8 288.9V305.8M486.5 318.8V331.9M487.4 304.9V315.6M505.1 307.4V318.7M478.8 292.2V301.3M494.2 313.3V322.7M494.9 310.8V319M485.8 289.1V303.4M499.5 306.6V317.4M501.9 300.2V309.9M493.7 317.2V330.9M490.7 293.2V301.2M498.6 310.5V321.9M503.6 293.9V306.2M479.5 297.3V308.3M474.3 288.1V296.3M490.6 293V299.5M494.7 310V321.5M498.3 311.2V321.2M496.8 311V323.1M504 288V297.6M485.8 323.8V337.2M484.3 317.3V331M490.6 296.4V310.3M491 300.5V310.6M498.7 304V313.1M499.5 306.7V315.5M499.5 287.8V305.7M504.9 306V324.6M484 294V300.7M493.1 307.1V316.8M477.9 311.4V325.6M480.6 292.8V302.2M487.2 309.6V318.8M496 322.8V337.7M478.6 299.1V309M494.7 308.8V325.3M478.5 291.5V302M480.2 286.1V294.6M474.6 303.3V323.3M501.5 319.7V337.9M496 318.1V334.1M492.7 329.2V344.1M500.4 316.9V328.3M481.2 299.2V315.9M488 308.7V317.6M488.5 308.3V317.1M487.3 301.3V314.9M503.8 307.1V316.7M489.8 305.2V319.6M488.1 285.7V292.8M498 301.3V308.2M487.6 304.4V315.8M477.2 298.9V312.4M492.1 315.7V327.1M498.2 313.3V327.3M482.1 310.8V332.7M483.1 299.6V308.2M479.1 295.8V309.4M475.2 298.1V311.4M482.5 294.1V309.8M485.2 315.3V330M495 285.6V296.5M503.8 290.5V300.8M491.3 308.2V315M497.9 322.5V333.8M481.6 300.8V315.7M474.8 297.4V307.2M495.2 301.7V316.7M498.7 294.1V303.1M480 299.7V312M491.7 289V305M499.3 310.3V326.2M482.6 316.7V331.2M500 308.8V320.2M500 297.2V307.3M491.5 306.9V313.7M504.1 307V317.3M488.3 285.5V297.2M506.6 294.3V304.1M489.7 316.2V333.1M480.9 300.6V315.5M488.9 304.3V312.9M492.8 305.5V315.4M483.7 301.4V312.3M475.1 290.9V301.4M501.1 311.3V323.5M479.7 284.9V293.2M502 292.5V304.5M504 306.2V322.1M500.8 296.3V308.6M505.8 301.5V313.9M505.4 304V321.4M474.8 297.2V312.1M503 288.5V295.8M482.2 317.3V330.4M487.8 309.6V322.8M475.7 286.3V298.5M482.2 302.8V309.3M506 295.9V304.2M498.3 302.2V318.3M506.2 310.8V325.4M477.4 299.2V309.1M474.6 298.4V310.8M488.3 299.2V308.1M497.7 309.5V317.8M482.1 290.3V305.5M477.4 285.7V303.6M479.8 309.4V320.5M483.8 311.4V326.7M482.5 319.6V336.2M499.7 299.7V310.9M489.2 303.8V312.1M485.9 318.2V332M506.6 301V311.8M500.9 290.7V299.5M486.2 296.3V307M492.8 285.7V301.9M495.1 313.2V324.7M505.3 304.8V311.6M506 310.3V323.8M484.3 292.8V302.3M495.9 298.2V311.8M498.8 305.8V315.5M484.4 317.1V336.7M490.6 297.9V315.1M503.7 288.5V298.9M489.3 318V331.1M490.3 289V306.4M491.9 292.4V302.1M489.1 318.9V331.8M501.5 287.2V300.8M490.7 301.6V309.2M490 292.3V298.9M505.9 293.2V307.8M476.5 303.6V325.5M501.9 287.8V299.4M502.8 326.2V334.8M493.2 334.1V346.1M492.6 334.5V346.5M490.3 336.2V349.1M488.8 333.5V346.4M483.2 328.2V341.8M490.5 330.9V341.9M486.8 329.9V343.4M478.4 323.5V333.7M485.5 332.7V345.4M476 283.2V292.5M496.3 278.8V288.4M504.6 285.1V296.3M498.3 279.5V290.7M469 301.6V325.4M470.5 313V329M474.5 281.5V294.5M508 293.5V303.5M507 307V317M506.5 319V330M492 337V351M497 336V350M548.9 301.5V318.5M546.1 299.9V307M533.4 290.7V301.1M550.5 319.8V333M545.1 301.8V308.5M538.7 304.8V314.8M535.3 299V308.3M541.1 321V334.1M527 291.7V300.4M560.2 309.6V325.3M529.2 285.3V296.7M552.8 323.5V345.1M535.1 290V302.3M550.9 307.8V314.9M556.5 317.7V332.7M549.6 279.4V291.5M536.8 299.3V311.7M552.1 312.4V325.2M559.5 294.9V309.1M546.8 316.5V330.1M534.3 283.9V302.7M524.6 311.9V328.8M539.5 309.8V319.7M548.9 290.7V298.7M553.5 302.8V314M545.3 285.7V293.2M536.9 314.7V332.2M526.7 311.4V325.1M537.8 317.2V333.2M533.7 306.1V316.1M555.3 300.1V308.2M547.3 321.1V335.2M533.1 283.5V293.9M551.4 301V312.5M545 296.6V306.9M548.2 299.8V312.8M539.8 311.4V324.2M554.7 296.4V307.5M525.6 311.2V325.8M542.3 305.1V313.3M549.8 290.3V297.6M556.9 304.6V322.7M550.6 303.8V312.2M551.4 286.6V295.9M527 305.4V316.8M556.1 302.8V316.9M527.5 295.3V308.4M532.3 301.1V312.6M530.9 287.5V301.4M551.9 305.5V313.9M531.5 308.3V319.6M543.9 306.8V321.4M533.3 306.2V320.4M553 310.6V319.7M553.9 298.8V310M537.4 325V342.9M557.6 299.2V306M551.4 323.9V340.4M541.9 297.7V310.1M556.9 306.8V318M547.4 288.5V297.3M542.2 307.5V320.7M555.1 312V321.2M549 324.4V347.2M532.5 313.5V325.9M550.6 311V324.9M551.3 297.3V312.7M537.3 293.4V306.3M528.2 307.3V321.4M525 296.2V305.4M556.6 316.1V331.7M526.9 302.4V312.9M556.7 290V302.1M559.2 310.4V324.7M549.3 300.4V315.2M553.5 319.8V340.2M555.6 303.5V321.3M551.2 308.5V328.2M526.3 304V313M539.8 301.8V309.3M549.1 286.1V301.2M545.5 313.4V336M543.3 322.5V334.9M548.2 322.4V337.2M536.6 291.3V302.9M551.4 315.1V337.1M552.5 293.9V301.5M536.6 293.3V302.7M551.9 282.3V294.3M526.5 290.1V301.3M545.2 305.4V315.7M522.5 308.6V322.3M554 321.7V335.5M526.9 303.2V316.1M554.1 305.6V317.9M542.5 311.2V320.6M537.6 291.9V299.2M534.6 292V302.6M534.9 297.9V313.1M548.9 320.7V333.4M547 307.8V324.7M548 300.7V311.9M534 292.3V300.1M534.4 300.1V309.1M542.3 296.3V305.1M533.6 316.6V331.2M546.6 318.9V335.4M549.6 292.5V303.4M546.1 320V334.4M528.7 297.2V314.2M547.3 287.7V293.9M524.4 301.9V311.7M550.1 298.9V309.3M533.3 313V327.6M552.6 288V299.4M537.3 313.6V329.9M528.3 308.2V326.2M559.5 303.8V310.8M542.2 292.5V304M532.3 317.6V332M528.4 307.3V326.6M560.2 292.7V305.4M537.2 288.4V301.1M559 293.2V302.5M546 314.9V326.6M540.4 318.3V332.7M555.5 293.3V302.1M530.6 291V301.7M553.7 309.5V322.1M533.1 286.6V303.3M530.3 304.3V323.3M530 291.6V304.8M545.4 287.9V298.5M527.7 291.1V302.2M540.7 281V290.7M540.6 307.3V317.4M529.8 298.2V305.9M546 290.8V300.1M536 323.1V340.5M525.7 292.5V300.5M525.9 309.7V321.2M544.5 304.1V320.6M540.2 307.2V315M552.7 297.1V304.8M535.6 303.8V311.5M535.4 290.4V298M523.2 298.4V307.9M527.7 288.7V300.1M538.3 314.2V327.6M553.8 299.3V315.5M533.1 304.2V315.5M554.8 295.8V308.6M545.3 318.5V335M559.1 299.5V308.8M537.6 290.4V300.5M531.5 299.8V309.1M537.8 300V309.1M556.1 301.6V310.3M525.7 303V311.7M535.2 308.3V318.2M537.5 287.8V299.6M528.6 294.5V302.9M547.7 313.9V325.5M533 316.8V332.5M549 295V307M522.5 303.5V313.4M524 295.6V304.7M524.4 311.2V331.6M542.8 312.2V326.5M550.4 297.5V310.2M543 318.3V331.9M538.8 305.9V314.9M530.4 298.3V307.7M555 319.2V333.5M555.6 315.8V328.2M550.4 316.3V330M553.9 289.6V304.1M553.6 312.8V323.7M542 290.7V301.1M536.2 296.6V310.2M541.3 296V314.2M531.3 297.5V306.1M535 284.7V294.5M526.4 307.5V324.8M552.2 315.1V334.6M542.1 291.5V301.9M551.8 299.1V305.4M546.2 311.5V323.4M553.7 315.7V329.7M555.4 283.7V300.8M533.9 287.5V297.2M544.7 313.9V337.4M558.3 313.8V330.7M555.7 310.6V332.8M540.9 310.7V331.9M528.7 286.6V301M539 305.4V313.6M554.4 290.3V299.8M535.3 300.5V313.4M550.8 292.3V301.7M536.1 319.6V338.3M557.5 308V319.9M543.8 306.3V319.8M533.4 300.3V308.7M532.2 300.1V316.4M536.3 306.1V318.2M543.2 298.1V308.3M539.7 288.2V306.1M548.5 291.1V305.9M528.8 296.3V303.1M524.9 296.7V304.3M525.6 309.5V320.3M525.4 310.4V322.8M556.9 308.4V319.7M541.3 287.5V298.4M535.7 313.8V325.8M536.4 294.8V312M541.2 303.7V310.9M522.2 301.8V318.4M527 299.3V307.8M558.9 313.5V325.4M527.5 310.6V326.8M551.1 322V336.2M531.2 291.4V298.7M538.8 309.8V317.6M532.7 312.6V324.3M531.2 286.7V298.3M529.9 311V322.4M547 287.9V304.3M548 304.1V316.4M540.7 300.6V310.2M551.9 318.3V329.4M551.8 292V302.5M541.9 318.1V333.7M559.8 307.7V314.5M525.4 288.1V304.7M551.5 306.5V314.4M552.7 319V331.8M552.2 282.9V301.9M555.2 296.2V312.2M556.1 315.5V331.3M533.4 319.6V332.7M551 321.3V333.2M542.3 320.6V334.9M534.4 305.1V318.2M532.6 306V313.7M559.2 313.5V324.8M542 325.6V342.2M551.5 332.4V344M526 320.2V333.1M547.6 333.6V343.8M526.8 320.2V329.5M546.4 336.5V348.4M532.9 323.6V341M539.8 335.8V352M545.4 336.7V350.3M545.9 338V351.4M549.1 337.8V351.7M536.5 332.7V346.5M529.9 325.1V340.2M549.4 276.1V289.6M546.9 282.1V291.7M533.5 278.2V290M535.4 278V290.1M528 281V293M532 278V291M540 272V288M544 338V354M539 337V350M549 337V351M584.5 130.1V165.2M579.5 281V290M578.5 286V294M580.5 285.5V293.5M579.5 289V297M578 292.5V301.5M579 295V303.2M577.5 287.5V295.5M581 254.3V263M580.5 259.5V267.5M581.5 263V271M580.2 266.8V275.5M582.7 238.4V239.6M582.7 231.9V233.1M583.6 215.9V217.1M583.6 209.9V211.1M583.5 192.4V200.9M584.2 162.3V175.2" stroke="#000" stroke-width="1" fill="none"/><path d="M112.1 303.5h5.6M112.1 312.1h5.6M127 295.9h5.6M127 303.9h5.6M107.6 280h5.6M107.6 288.6h5.6M121.2 304.5h5.6M121.2 312.1h5.6M120 297.6h5.6M120 315h5.6M102.9 308.8h5.6M102.9 319.2h5.6M113.6 298.4h5.6M113.6 310.4h5.6M96.2 304.8h5.6M96.2 319.5h5.6M87.4 295.8h5.6M87.4 308h5.6M104 302.9h5.6M104 311.4h5.6M107.7 299.1h5.6M107.7 310.5h5.6M119 301.7h5.6M119 308.7h5.6M100.4 299.2h5.6M100.4 315.3h5.6M124.3 290.8h5.6M124.3 306.9h5.6M119.5 299h5.6M119.5 308.4h5.6M88.5 313.2h5.6M88.5 326.2h5.6M106.1 288.2h5.6M106.1 298.1h5.6M88.9 301.7h5.6M88.9 309.2h5.6M87.3 305.1h5.6M87.3 320.7h5.6M119.3 311.6h5.6M119.3 333.4h5.6M91 304h5.6M91 310.8h5.6M116.1 293.4h5.6M116.1 301.2h5.6M96.8 291.2h5.6M96.8 299.2h5.6M98.7 309.3h5.6M98.7 321.4h5.6M115.6 308.5h5.6M115.6 332.5h5.6M108.4 308.6h5.6M108.4 323.2h5.6M116 309.1h5.6M116 328.6h5.6M112.8 298.5h5.6M112.8 308.4h5.6M103.7 294.6h5.6M103.7 306.9h5.6M102.1 306.8h5.6M102.1 320.3h5.6M92.5 298h5.6M92.5 306.1h5.6M124 316.2h5.6M124 330.7h5.6M99.3 292.9h5.6M99.3 301.7h5.6M124.1 316.5h5.6M124.1 330.2h5.6M107.1 309.2h5.6M107.1 327h5.6M108.4 297.6h5.6M108.4 312.6h5.6M126.7 291.8h5.6M126.7 305.3h5.6M122.6 301.1h5.6M122.6 312.3h5.6M117.5 298h5.6M117.5 305.3h5.6M107.5 309.2h5.6M107.5 320.6h5.6M115.3 302.9h5.6M115.3 312h5.6M116.3 299.5h5.6M116.3 308h5.6M116.4 286.1h5.6M116.4 300.5h5.6M105.1 302.2h5.6M105.1 309.9h5.6M120.4 300.1h5.6M120.4 312.1h5.6M127.5 298.5h5.6M127.5 306.5h5.6M122.7 315.6h5.6M122.7 329.7h5.6M106.7 287.4h5.6M106.7 300.9h5.6M118 311.7h5.6M118 324.5h5.6M88.7 295.5h5.6M88.7 308.6h5.6M112.3 307h5.6M112.3 326.8h5.6M89.2 300.1h5.6M89.2 307.1h5.6M118 294.4h5.6M118 304.4h5.6M93.5 300.5h5.6M93.5 309.1h5.6M103.1 301.3h5.6M103.1 314.4h5.6M118.1 309.3h5.6M118.1 322.3h5.6M120.6 305.8h5.6M120.6 314.6h5.6M125.5 312.2h5.6M125.5 334h5.6M114.9 304.2h5.6M114.9 314.5h5.6M124.5 303.2h5.6M124.5 310.2h5.6M118.7 286.8h5.6M118.7 295.6h5.6M115.3 298.8h5.6M115.3 310.6h5.6M121.8 301.4h5.6M121.8 312.2h5.6M105.5 300.9h5.6M105.5 314.3h5.6M89.5 307.8h5.6M89.5 320.7h5.6M117.3 294.1h5.6M117.3 303.5h5.6M93.2 314.3h5.6M93.2 337.2h5.6M90.8 311.4h5.6M90.8 327.4h5.6M106.4 295.7h5.6M106.4 311.8h5.6M117.3 285.1h5.6M117.3 292.6h5.6M101.1 309h5.6M101.1 326.1h5.6M96.9 299.4h5.6M96.9 308.4h5.6M104.4 306.2h5.6M104.4 317.1h5.6M123.6 313.5h5.6M123.6 324.9h5.6M124.1 313.7h5.6M124.1 325.1h5.6M116.7 292.9h5.6M116.7 302h5.6M123.1 312.5h5.6M123.1 328.9h5.6M92.1 302.5h5.6M92.1 320h5.6M117.7 285.9h5.6M117.7 301.1h5.6M115.4 307.4h5.6M115.4 318.8h5.6M98.2 286.7h5.6M98.2 293.3h5.6M100.1 310.5h5.6M100.1 325h5.6M112.4 310h5.6M112.4 324.4h5.6M108.9 314.3h5.6M108.9 328.9h5.6M91.7 308.3h5.6M91.7 318.9h5.6M90.4 297.7h5.6M90.4 311.3h5.6M104.3 297.2h5.6M104.3 307.1h5.6M110.1 291.9h5.6M110.1 301.1h5.6M113.4 307h5.6M113.4 324.9h5.6M116 311.5h5.6M116 329.2h5.6M112 279h5.6M112 293h5.6M119.6 304.8h5.6M119.6 314.4h5.6M123.6 311.2h5.6M123.6 331.7h5.6M90.3 300.1h5.6M90.3 311.3h5.6M93 293.7h5.6M93 300.4h5.6M90.9 297.1h5.6M90.9 304.4h5.6M104 313.6h5.6M104 329.1h5.6M127.2 294.5h5.6M127.2 303.5h5.6M112.7 288.6h5.6M112.7 298.8h5.6M115 291.7h5.6M115 306.4h5.6M89.4 287.8h5.6M89.4 299.8h5.6M98.9 289.5h5.6M98.9 303.5h5.6M101.7 310.8h5.6M101.7 324.8h5.6M110.7 319.4h5.6M110.7 333.8h5.6M110.3 302.8h5.6M110.3 311.9h5.6M94.4 303.1h5.6M94.4 316.3h5.6M103.2 284.2h5.6M103.2 294.4h5.6M106.3 311.9h5.6M106.3 328.9h5.6M121.2 310.2h5.6M121.2 324.4h5.6M91.5 293.5h5.6M91.5 302h5.6M124.5 291.9h5.6M124.5 299.3h5.6M123.4 301h5.6M123.4 311.3h5.6M117.8 292.4h5.6M117.8 304.1h5.6M127.3 298.3h5.6M127.3 309.5h5.6M123.9 291.4h5.6M123.9 299.3h5.6M88.3 309.5h5.6M88.3 323.5h5.6M108.9 303.8h5.6M108.9 320.6h5.6M126.4 304.8h5.6M126.4 313.9h5.6M98.5 292.5h5.6M98.5 301.5h5.6M125.8 306.4h5.6M125.8 316h5.6M99.8 310h5.6M99.8 323.9h5.6M88.9 305.6h5.6M88.9 314.8h5.6M104.8 289.4h5.6M104.8 296.9h5.6M102 313.2h5.6M102 325.7h5.6M90.7 313.1h5.6M90.7 327.7h5.6M97.7 295.4h5.6M97.7 302.4h5.6M104.2 305.2h5.6M104.2 313.9h5.6M127.2 304.3h5.6M127.2 311.3h5.6M101.6 289.6h5.6M101.6 297.1h5.6M115 298.8h5.6M115 306.1h5.6M94.2 306.1h5.6M94.2 315.6h5.6M119.3 306.4h5.6M119.3 314.4h5.6M116.3 321.3h5.6M116.3 337h5.6M92.8 280.2h5.6M92.8 298.6h5.6M114.4 309.9h5.6M114.4 330.3h5.6M125.5 292.5h5.6M125.5 303.3h5.6M104.5 310.4h5.6M104.5 323.5h5.6M127 299.3h5.6M127 308.6h5.6M100.7 302.9h5.6M100.7 316.5h5.6M94.2 290.8h5.6M94.2 299.2h5.6M106.7 285.1h5.6M106.7 302.6h5.6M98.5 301.8h5.6M98.5 318.9h5.6M112.9 285.5h5.6M112.9 292.4h5.6M87.8 300.6h5.6M87.8 312.5h5.6M105 302.8h5.6M105 316.7h5.6M95.5 312.8h5.6M95.5 334.2h5.6M98.7 302.6h5.6M98.7 317.6h5.6M100.2 302.8h5.6M100.2 312.5h5.6M125.7 299.9h5.6M125.7 306.8h5.6M109.4 308.2h5.6M109.4 320.2h5.6M102 315.1h5.6M102 328h5.6M111.8 287.5h5.6M111.8 300.7h5.6M115.7 298.9h5.6M115.7 311.3h5.6M113.4 286.2h5.6M113.4 295.8h5.6M87.9 297.7h5.6M87.9 306.5h5.6M114.6 310.1h5.6M114.6 321.5h5.6M97.3 312.5h5.6M97.3 327.7h5.6M94.7 304.9h5.6M94.7 312.9h5.6M103.6 315.8h5.6M103.6 332.8h5.6M107.6 309.7h5.6M107.6 324.9h5.6M97.4 298h5.6M97.4 311.6h5.6M115.3 302.7h5.6M115.3 312.6h5.6M106.8 287.8h5.6M106.8 294.5h5.6M97.3 284.5h5.6M97.3 295.7h5.6M99.2 291.3h5.6M99.2 299.6h5.6M103.5 281.7h5.6M103.5 296.9h5.6M110.6 303.7h5.6M110.6 315.2h5.6M90.6 304.5h5.6M90.6 312.9h5.6M101.6 303.2h5.6M101.6 319.8h5.6M100.9 296.1h5.6M100.9 304.3h5.6M88.2 297.1h5.6M88.2 304.7h5.6M86.7 297.4h5.6M86.7 314.3h5.6M98.4 294.9h5.6M98.4 305.5h5.6M97.9 303.8h5.6M97.9 321.6h5.6M119.6 280.5h5.6M119.6 296.5h5.6M107.8 279.3h5.6M107.8 293.1h5.6M87.1 291.8h5.6M87.1 310.7h5.6M120.7 309.5h5.6M120.7 322.6h5.6M91 309.4h5.6M91 320.9h5.6M120.1 307.1h5.6M120.1 317.5h5.6M118.7 290.8h5.6M118.7 297.4h5.6M98.1 306.1h5.6M98.1 324.9h5.6M114.6 296.1h5.6M114.6 306.5h5.6M90.1 301.8h5.6M90.1 310h5.6M109.9 290.1h5.6M109.9 302.6h5.6M118 291.8h5.6M118 300.8h5.6M98.4 286.5h5.6M98.4 303.6h5.6M106.8 301.2h5.6M106.8 319.8h5.6M123.9 312.3h5.6M123.9 325.9h5.6M106.8 315h5.6M106.8 328.7h5.6M115 296.7h5.6M115 307.6h5.6M126.7 293.7h5.6M126.7 303.5h5.6M98.7 288.1h5.6M98.7 299.5h5.6M95.9 311.1h5.6M95.9 323.9h5.6M90.2 308.7h5.6M90.2 321.2h5.6M106.1 297.8h5.6M106.1 316.4h5.6M107.4 290.9h5.6M107.4 298.5h5.6M101.2 290.3h5.6M101.2 298.1h5.6M89.3 306.4h5.6M89.3 325.4h5.6M103.9 313h5.6M103.9 329.3h5.6M107 301.5h5.6M107 316.2h5.6M90.8 301h5.6M90.8 317.8h5.6M98.3 310.7h5.6M98.3 324.2h5.6M107.1 286.6h5.6M107.1 295.6h5.6M121.4 316.1h5.6M121.4 329.5h5.6M87.4 313.5h5.6M87.4 329.4h5.6M104.7 316.3h5.6M104.7 331.4h5.6M106.3 312.4h5.6M106.3 327h5.6M106.1 294.2h5.6M106.1 301.5h5.6M120.6 305.2h5.6M120.6 314.3h5.6M117.7 295.2h5.6M117.7 308.3h5.6M101.3 317.8h5.6M101.3 336h5.6M101.4 310.1h5.6M101.4 322h5.6M121.8 308.3h5.6M121.8 318.6h5.6M96.4 285.4h5.6M96.4 299.9h5.6M123.7 288.6h5.6M123.7 305.8h5.6M93.4 294.9h5.6M93.4 304.8h5.6M100.9 286.3h5.6M100.9 299.5h5.6M86.7 311.6h5.6M86.7 323.9h5.6M113.9 286.7h5.6M113.9 303.6h5.6M125.2 303.9h5.6M125.2 311.7h5.6M90.9 297.8h5.6M90.9 311.4h5.6M89.8 306.4h5.6M89.8 330.4h5.6M87.4 297.9h5.6M87.4 312.2h5.6M118.2 284.4h5.6M118.2 293.3h5.6M117.2 291.1h5.6M117.2 298.9h5.6M109.4 297.8h5.6M109.4 305.9h5.6M125.1 310.1h5.6M125.1 319.7h5.6M103.4 302.1h5.6M103.4 312h5.6M124.5 292.2h5.6M124.5 300.7h5.6M115.8 307.2h5.6M115.8 326.8h5.6M121.2 301.6h5.6M121.2 310h5.6M96.8 297.6h5.6M96.8 306.2h5.6M97 309.5h5.6M97 322.5h5.6M118.9 293.7h5.6M118.9 302.7h5.6M87.2 306h5.6M87.2 318.1h5.6M101 295.5h5.6M101 312.1h5.6M105.5 288.4h5.6M105.5 300.6h5.6M94.7 298h5.6M94.7 307.2h5.6M96.3 295.1h5.6M96.3 302.1h5.6M93 291.4h5.6M93 299.2h5.6M121.4 304.8h5.6M121.4 315.5h5.6M93.5 303.3h5.6M93.5 312.7h5.6M124.1 318.2h5.6M124.1 335.5h5.6M122.6 292.6h5.6M122.6 302.3h5.6M113.7 282.3h5.6M113.7 293.6h5.6M93.8 298.4h5.6M93.8 316.8h5.6M114 293.1h5.6M114 303.1h5.6M127.1 304.3h5.6M127.1 316.7h5.6M122.5 283.8h5.6M122.5 298.8h5.6M125.7 315.9h5.6M125.7 333.4h5.6M121.6 307.5h5.6M121.6 315.3h5.6M109.6 296h5.6M109.6 305.3h5.6M124.8 304.9h5.6M124.8 314.4h5.6M125.4 309.8h5.6M125.4 321.6h5.6M92.7 314.9h5.6M92.7 334.1h5.6M125.9 308.9h5.6M125.9 316.9h5.6M89.9 299.2h5.6M89.9 313.2h5.6M97.4 303.1h5.6M97.4 311.7h5.6M108 288.2h5.6M108 298.3h5.6M110.5 288h5.6M110.5 297.5h5.6M98.8 307.8h5.6M98.8 317.8h5.6M115.6 312.6h5.6M115.6 328.9h5.6M95.1 310.3h5.6M95.1 326h5.6M126.7 299.7h5.6M126.7 313.1h5.6M118.8 297.5h5.6M118.8 309.7h5.6M93 297.2h5.6M93 304.3h5.6M94.5 311.4h5.6M94.5 335.4h5.6M122.3 305.9h5.6M122.3 313.5h5.6M113.8 302.6h5.6M113.8 319.5h5.6M111.5 287.8h5.6M111.5 299.8h5.6M104.6 296.3h5.6M104.6 310.4h5.6M115.7 299.4h5.6M115.7 307h5.6M112.3 315.6h5.6M112.3 329.5h5.6M125.6 327.9h5.6M125.6 337.7h5.6M107.7 324.6h5.6M107.7 339.1h5.6M115.2 324.9h5.6M115.2 338.8h5.6M113.9 325.8h5.6M113.9 343.5h5.6M121.2 323.2h5.6M121.2 338h5.6M98.8 325.5h5.6M98.8 335.1h5.6M103 322.2h5.6M103 333h5.6M121.2 324.6h5.6M121.2 339.3h5.6M109.3 323h5.6M109.3 335.9h5.6M95.1 321.1h5.6M95.1 334.4h5.6M97.8 323.3h5.6M97.8 333.5h5.6M98 321.2h5.6M98 332.2h5.6M100.9 321.7h5.6M100.9 337.5h5.6M89.5 282.3h5.6M89.5 293.5h5.6M123.4 281.5h5.6M123.4 292.7h5.6M105.2 275.4h5.6M105.2 289.4h5.6M108.8 279h5.6M108.8 289.3h5.6M126.5 286.8h5.6M126.5 296.9h5.6M96.2 327h5.6M96.2 347h5.6M108.1 330h5.6M108.1 348h5.6M126.6 326h5.6M126.6 353h5.6M118.7 270.5h5.6M118.7 288.5h5.6M114.2 274h5.6M114.2 290h5.6M172.3 306h5.6M172.3 317.5h5.6M144 295.2h5.6M144 307.4h5.6M164.6 277.5h5.6M164.6 291.3h5.6M147.2 309.5h5.6M147.2 326.9h5.6M171.1 316.7h5.6M171.1 341h5.6M170.1 286.9h5.6M170.1 300.8h5.6M170.5 314.9h5.6M170.5 335.9h5.6M166.5 308.4h5.6M166.5 328.4h5.6M156.6 300.9h5.6M156.6 309.8h5.6M176.9 315.1h5.6M176.9 333.3h5.6M158.5 290h5.6M158.5 297.3h5.6M175.2 285.9h5.6M175.2 297.2h5.6M168.4 280.9h5.6M168.4 290.3h5.6M179.8 316.4h5.6M179.8 333.5h5.6M180.8 301.8h5.6M180.8 314.3h5.6M153.5 292.3h5.6M153.5 299.2h5.6M181 280.3h5.6M181 294.9h5.6M174.9 314.6h5.6M174.9 328.3h5.6M141.2 305.7h5.6M141.2 317.9h5.6M156.3 290h5.6M156.3 299.5h5.6M151.5 295.2h5.6M151.5 312.7h5.6M142.8 288.3h5.6M142.8 307.3h5.6M147.5 308.1h5.6M147.5 323.2h5.6M176.9 315.9h5.6M176.9 332.3h5.6M168.4 297.4h5.6M168.4 309.2h5.6M181.9 305.6h5.6M181.9 323.4h5.6M149.7 308.7h5.6M149.7 325.5h5.6M179.3 295.5h5.6M179.3 307.9h5.6M153 309.2h5.6M153 325.8h5.6M149.9 302.9h5.6M149.9 313.3h5.6M142.2 304.5h5.6M142.2 318.7h5.6M150.3 299.5h5.6M150.3 309.2h5.6M167.7 299.2h5.6M167.7 311.6h5.6M171.8 292.3h5.6M171.8 301.5h5.6M160.1 299.8h5.6M160.1 308.3h5.6M172.6 309.4h5.6M172.6 332.4h5.6M160.3 306.6h5.6M160.3 320.5h5.6M148.7 299.4h5.6M148.7 309.9h5.6M174.6 310.7h5.6M174.6 322.5h5.6M157.6 306h5.6M157.6 320.6h5.6M174.8 284.3h5.6M174.8 295.3h5.6M149.5 293.4h5.6M149.5 301.9h5.6M171.2 290.6h5.6M171.2 302.6h5.6M147.7 309.3h5.6M147.7 323.8h5.6M166.4 312.5h5.6M166.4 325.6h5.6M164.3 291.5h5.6M164.3 299h5.6M168.6 296.4h5.6M168.6 311.4h5.6M170.1 292h5.6M170.1 303.7h5.6M178 294.2h5.6M178 307h5.6M142 306.6h5.6M142 319.4h5.6M169.8 301.6h5.6M169.8 313.3h5.6M148.8 315.9h5.6M148.8 328.6h5.6M167.2 303.6h5.6M167.2 313.7h5.6M178.2 310.8h5.6M178.2 332.6h5.6M141.2 300.6h5.6M141.2 313.7h5.6M154.9 305.3h5.6M154.9 317.9h5.6M163.6 283.8h5.6M163.6 299.5h5.6M146.1 299.3h5.6M146.1 307.9h5.6M162.9 314.4h5.6M162.9 332.2h5.6M157.2 297.7h5.6M157.2 305h5.6M178.5 305.8h5.6M178.5 315h5.6M167.8 275.4h5.6M167.8 292.3h5.6M149.2 289.1h5.6M149.2 297.2h5.6M141 307.6h5.6M141 322.9h5.6M175.3 283.6h5.6M175.3 294.9h5.6M143.1 307.1h5.6M143.1 318.1h5.6M165.5 296.8h5.6M165.5 307.9h5.6M159.6 307.5h5.6M159.6 326.9h5.6M152.1 306.6h5.6M152.1 314h5.6M181.2 298.3h5.6M181.2 307.6h5.6M169.4 291.2h5.6M169.4 300.8h5.6M161.7 294.9h5.6M161.7 306.7h5.6M156.9 287.2h5.6M156.9 295.7h5.6M152.3 308.9h5.6M152.3 320.4h5.6M180 293.1h5.6M180 300.9h5.6M144.1 292.6h5.6M144.1 304.6h5.6M142.1 284.1h5.6M142.1 295.5h5.6M171.8 287.9h5.6M171.8 304.8h5.6M148.3 302.5h5.6M148.3 324.5h5.6M150.3 309.6h5.6M150.3 326.8h5.6M178.2 305.3h5.6M178.2 314.7h5.6M143.8 304h5.6M143.8 326.2h5.6M160.1 286.7h5.6M160.1 294.9h5.6M146.9 285.9h5.6M146.9 297.2h5.6M149.6 289.4h5.6M149.6 301.3h5.6M146.4 289.2h5.6M146.4 307.5h5.6M167.8 276.5h5.6M167.8 283.8h5.6M163 293h5.6M163 305.8h5.6M146.6 289.4h5.6M146.6 306.3h5.6M165.1 312.6h5.6M165.1 327h5.6M143.4 289.3h5.6M143.4 303.9h5.6M141 292.2h5.6M141 301.6h5.6M154.3 293.9h5.6M154.3 301.1h5.6M144.8 298.2h5.6M144.8 308.8h5.6M148.9 302.4h5.6M148.9 310.5h5.6M165.1 309.5h5.6M165.1 322.7h5.6M178.6 314.7h5.6M178.6 327.9h5.6M162.5 290.7h5.6M162.5 307.6h5.6M152.2 291.1h5.6M152.2 301.9h5.6M169.2 309.5h5.6M169.2 329.9h5.6M150.4 294.9h5.6M150.4 302.8h5.6M151.4 293.9h5.6M151.4 312h5.6M164.8 310.1h5.6M164.8 329.2h5.6M159 299.9h5.6M159 307h5.6M171 311.2h5.6M171 322.8h5.6M161.2 286.5h5.6M161.2 296.5h5.6M146.1 292.9h5.6M146.1 299.2h5.6M173.6 309.7h5.6M173.6 326.2h5.6M170.4 304h5.6M170.4 311.4h5.6M169.1 318.2h5.6M169.1 340.3h5.6M143.3 296.4h5.6M143.3 314.1h5.6M163 303.1h5.6M163 317.9h5.6M155.5 314.2h5.6M155.5 327.3h5.6M149 305.8h5.6M149 313.2h5.6M174.8 297.7h5.6M174.8 312.7h5.6M161.1 289.4h5.6M161.1 297.9h5.6M140.6 292.8h5.6M140.6 304.5h5.6M149.2 291.3h5.6M149.2 298.7h5.6M143 289.4h5.6M143 307.3h5.6M171 299.7h5.6M171 315.7h5.6M155.9 302.1h5.6M155.9 320.5h5.6M147.5 300.2h5.6M147.5 308.7h5.6M176.1 285h5.6M176.1 292.4h5.6M177.2 283.8h5.6M177.2 292.1h5.6M173.5 297h5.6M173.5 305.3h5.6M145.5 289h5.6M145.5 302h5.6M176.6 292.6h5.6M176.6 299.5h5.6M172.9 299.6h5.6M172.9 310.2h5.6M142.9 303.2h5.6M142.9 315h5.6M158.3 283.9h5.6M158.3 293.7h5.6M167.3 290.1h5.6M167.3 301.5h5.6M151 291.8h5.6M151 300.3h5.6M162.5 288.5h5.6M162.5 298h5.6M157.4 298.6h5.6M157.4 306.8h5.6M143.7 300.2h5.6M143.7 311.1h5.6M163.7 286.9h5.6M163.7 294.5h5.6M148.6 297.8h5.6M148.6 305.4h5.6M164.1 309.9h5.6M164.1 323.2h5.6M176.1 291.2h5.6M176.1 301.9h5.6M163.9 299.2h5.6M163.9 313h5.6M143.2 306.7h5.6M143.2 323h5.6M166.5 305.8h5.6M166.5 313.3h5.6M153.5 290.9h5.6M153.5 302.1h5.6M143.7 291.1h5.6M143.7 303h5.6M176.9 308.9h5.6M176.9 329.8h5.6M168.5 310.7h5.6M168.5 331h5.6M156.1 289.1h5.6M156.1 303h5.6M159 286.4h5.6M159 304h5.6M177.2 289.7h5.6M177.2 302.4h5.6M157.2 284.6h5.6M157.2 297.1h5.6M178.4 303.2h5.6M178.4 314.3h5.6M176.7 304.4h5.6M176.7 313.6h5.6M155.6 279.2h5.6M155.6 289.4h5.6M177 290h5.6M177 297.6h5.6M178.8 311.1h5.6M178.8 332.1h5.6M169.9 278h5.6M169.9 291.4h5.6M141.5 287.4h5.6M141.5 304.8h5.6M168.2 307.4h5.6M168.2 320.4h5.6M164.6 297.8h5.6M164.6 306.9h5.6M175.7 282.7h5.6M175.7 294.7h5.6M157.3 306.8h5.6M157.3 317.3h5.6M179.7 298h5.6M179.7 304.7h5.6M158.5 285.9h5.6M158.5 294.2h5.6M154.2 297.4h5.6M154.2 304.7h5.6M165.6 308.2h5.6M165.6 323.4h5.6M150.4 301.7h5.6M150.4 309.6h5.6M149 299.1h5.6M149 309.2h5.6M148.7 293.7h5.6M148.7 302.6h5.6M153.3 292.9h5.6M153.3 301.5h5.6M166 299.7h5.6M166 317.7h5.6M179.5 304.5h5.6M179.5 317.7h5.6M170.7 314.3h5.6M170.7 328.3h5.6M180.9 306.8h5.6M180.9 316.9h5.6M166.9 288.1h5.6M166.9 296.5h5.6M178.2 293.4h5.6M178.2 300.4h5.6M174.7 299.7h5.6M174.7 307.1h5.6M172.9 281.2h5.6M172.9 288.7h5.6M179.3 308.6h5.6M179.3 319.7h5.6M140.8 295.2h5.6M140.8 303.2h5.6M154.6 283.3h5.6M154.6 296.3h5.6M168.4 302.1h5.6M168.4 308.4h5.6M149.5 302h5.6M149.5 314.3h5.6M167.9 311.2h5.6M167.9 335.2h5.6M154.7 295.3h5.6M154.7 306.8h5.6M172.6 277.8h5.6M172.6 287.6h5.6M142.9 309.2h5.6M142.9 323.3h5.6M181.1 284.1h5.6M181.1 291.1h5.6M167 296.4h5.6M167 305h5.6M163 304.6h5.6M163 315.5h5.6M172.3 287.7h5.6M172.3 297.8h5.6M144.5 295h5.6M144.5 312.8h5.6M149.8 305.1h5.6M149.8 323.5h5.6M158.5 293.6h5.6M158.5 306.4h5.6M171.1 295.6h5.6M171.1 311.3h5.6M178.8 283.8h5.6M178.8 296.3h5.6M163.3 297.2h5.6M163.3 308.6h5.6M167.5 297.3h5.6M167.5 305.2h5.6M145.7 300.2h5.6M145.7 315.1h5.6M176.2 304.1h5.6M176.2 314.8h5.6M160.6 295.4h5.6M160.6 305.2h5.6M165.2 300.3h5.6M165.2 309.6h5.6M161.8 312.4h5.6M161.8 326.4h5.6M166.4 290.9h5.6M166.4 298.1h5.6M152.9 303.7h5.6M152.9 320.7h5.6M167.1 304.4h5.6M167.1 313.3h5.6M161.7 286.1h5.6M161.7 296h5.6M159.2 303.4h5.6M159.2 313.8h5.6M142.2 292.3h5.6M142.2 300.2h5.6M147.3 291.2h5.6M147.3 301.6h5.6M173.3 301.1h5.6M173.3 311.7h5.6M171.1 289.7h5.6M171.1 303.2h5.6M150.3 311.5h5.6M150.3 325.2h5.6M154.4 311.5h5.6M154.4 323.9h5.6M149.6 287.1h5.6M149.6 295.9h5.6M141.4 308.5h5.6M141.4 324.7h5.6M141.1 302.6h5.6M141.1 318h5.6M171.8 302.8h5.6M171.8 313.1h5.6M148.7 313.2h5.6M148.7 330.7h5.6M153.7 307.6h5.6M153.7 316.7h5.6M155.3 301.7h5.6M155.3 310h5.6M167.9 311.3h5.6M167.9 335.8h5.6M171.9 309.2h5.6M171.9 324.6h5.6M144.6 294h5.6M144.6 312.2h5.6M145.3 306.9h5.6M145.3 324.2h5.6M157.8 303.8h5.6M157.8 324.1h5.6M155.4 301.6h5.6M155.4 314.2h5.6M169.3 295.6h5.6M169.3 310.2h5.6M157.1 297.6h5.6M157.1 311.4h5.6M171.6 294.8h5.6M171.6 311.3h5.6M173.8 297.9h5.6M173.8 308.8h5.6M155.7 302.1h5.6M155.7 314.2h5.6M162.2 284.8h5.6M162.2 292.5h5.6M140.7 304h5.6M140.7 313.4h5.6M143.3 303.3h5.6M143.3 313.6h5.6M146 300.9h5.6M146 307.7h5.6M169.6 301.2h5.6M169.6 308.5h5.6M173.9 311h5.6M173.9 322.5h5.6M173.4 309.7h5.6M173.4 330.3h5.6M173.1 278.6h5.6M173.1 285.2h5.6M181.3 307.2h5.6M181.3 319.2h5.6M141.5 299.7h5.6M141.5 310.8h5.6M153.5 291.7h5.6M153.5 298.2h5.6M164.2 316.2h5.6M164.2 332.4h5.6M176.9 311.5h5.6M176.9 326.5h5.6M170.6 298.2h5.6M170.6 317h5.6M141.5 307.5h5.6M141.5 327.5h5.6M148.1 295.4h5.6M148.1 302.7h5.6M163.2 310.7h5.6M163.2 321.5h5.6M146.3 286.6h5.6M146.3 299.1h5.6M165 302.7h5.6M165 313.6h5.6M157.5 286.1h5.6M157.5 293.6h5.6M155.7 305.4h5.6M155.7 317.2h5.6M154.9 311.9h5.6M154.9 324.1h5.6M143.9 299.7h5.6M143.9 309.1h5.6M174.5 314.1h5.6M174.5 326h5.6M140.8 308.4h5.6M140.8 328.7h5.6M152.4 301.8h5.6M152.4 311.1h5.6M141.2 309h5.6M141.2 329.7h5.6M181.8 290.6h5.6M181.8 302.2h5.6M175.8 291.9h5.6M175.8 307h5.6M172.7 304.4h5.6M172.7 319.5h5.6M168.2 284h5.6M168.2 301.1h5.6M149.6 308.4h5.6M149.6 321.8h5.6M180.9 296.6h5.6M180.9 312.4h5.6M169 295.9h5.6M169 308.7h5.6M152.1 299.9h5.6M152.1 309.7h5.6M167.6 324h5.6M167.6 332.5h5.6M145.7 317.8h5.6M145.7 331.3h5.6M175.6 325.8h5.6M175.6 340.6h5.6M177.9 329.6h5.6M177.9 341.9h5.6M166.4 326.3h5.6M166.4 341.3h5.6M162.7 322.9h5.6M162.7 337h5.6M149.3 324.3h5.6M149.3 336h5.6M152.9 321.1h5.6M152.9 334.1h5.6M171.3 328.1h5.6M171.3 336.9h5.6M162.2 322.3h5.6M162.2 334.1h5.6M170.1 323.3h5.6M170.1 333.5h5.6M175.3 325.3h5.6M175.3 335.9h5.6M153.5 326.2h5.6M153.5 341.3h5.6M161.3 274.4h5.6M161.3 286.7h5.6M148 284.7h5.6M148 294.4h5.6M169.7 275.2h5.6M169.7 286.3h5.6M144.2 285.8h5.6M144.2 294.5h5.6M148.6 282.9h5.6M148.6 294.6h5.6M169.9 331h5.6M169.9 355h5.6M180.2 326h5.6M180.2 342h5.6M201.7 304.8h5.6M201.7 316.6h5.6M226.6 284.6h5.6M226.6 292.5h5.6M218.4 323.6h5.6M218.4 339.4h5.6M207.7 316.4h5.6M207.7 332.4h5.6M213.7 318.1h5.6M213.7 336.1h5.6M227.5 297.8h5.6M227.5 310.7h5.6M198.2 312.2h5.6M198.2 325.7h5.6M220.9 309.6h5.6M220.9 318.6h5.6M230.1 320.8h5.6M230.1 332.2h5.6M224.2 319.9h5.6M224.2 340.1h5.6M224.6 325.2h5.6M224.6 340.4h5.6M214.7 313.4h5.6M214.7 327.8h5.6M224.7 324.3h5.6M224.7 337.1h5.6M205.9 301.5h5.6M205.9 309.9h5.6M221.9 324.3h5.6M221.9 338.8h5.6M226.8 316.4h5.6M226.8 328.9h5.6M211.8 297.7h5.6M211.8 306.1h5.6M229.8 302.3h5.6M229.8 312.2h5.6M234.3 314.6h5.6M234.3 330.9h5.6M201.3 290.4h5.6M201.3 303.4h5.6M213 326.9h5.6M213 341.6h5.6M225.8 314h5.6M225.8 327.1h5.6M226.3 301.3h5.6M226.3 310.1h5.6M229.6 307.7h5.6M229.6 322h5.6M214.8 316.3h5.6M214.8 328.8h5.6M195.1 302.5h5.6M195.1 318.3h5.6M226.8 290.6h5.6M226.8 308.5h5.6M209.1 284.7h5.6M209.1 293.5h5.6M207.1 302.4h5.6M207.1 311.1h5.6M218 296.2h5.6M218 306.7h5.6M206.4 306.8h5.6M206.4 315.4h5.6M224.5 302.6h5.6M224.5 317.1h5.6M225.2 289.9h5.6M225.2 302h5.6M211.3 314.1h5.6M211.3 326h5.6M221.2 316.4h5.6M221.2 331.8h5.6M232.9 325.9h5.6M232.9 340.2h5.6M198.4 310.8h5.6M198.4 327.2h5.6M198.3 299.3h5.6M198.3 316.2h5.6M199.4 286.8h5.6M199.4 297h5.6M194.8 300.7h5.6M194.8 308.2h5.6M230.4 292h5.6M230.4 311h5.6M214.8 293.4h5.6M214.8 300.5h5.6M221.4 313h5.6M221.4 331.7h5.6M234.4 288.5h5.6M234.4 299.2h5.6M207.2 311.1h5.6M207.2 321.5h5.6M203.3 301.4h5.6M203.3 316.8h5.6M212.8 304.3h5.6M212.8 316.3h5.6M204.7 302.2h5.6M204.7 313.1h5.6M229.6 298.6h5.6M229.6 308.1h5.6M226.1 293.2h5.6M226.1 300.2h5.6M228.7 288.8h5.6M228.7 300.9h5.6M200.1 299.2h5.6M200.1 316.6h5.6M216.1 296.2h5.6M216.1 304.7h5.6M218.3 309.4h5.6M218.3 323.3h5.6M204.4 287.4h5.6M204.4 295.2h5.6M232.8 294.7h5.6M232.8 311.7h5.6M224.8 321h5.6M224.8 332.9h5.6M218.3 290.5h5.6M218.3 297.8h5.6M221.7 324.6h5.6M221.7 338.7h5.6M219.5 284.6h5.6M219.5 303.4h5.6M203.6 306.1h5.6M203.6 323.6h5.6M204.2 291.6h5.6M204.2 306.1h5.6M224.9 281.9h5.6M224.9 294.6h5.6M235.8 321.7h5.6M235.8 334.8h5.6M232.7 290.4h5.6M232.7 304.9h5.6M225.3 325.5h5.6M225.3 341.1h5.6M235.9 318.3h5.6M235.9 331.9h5.6M223.4 311.6h5.6M223.4 322.1h5.6M235.4 315.9h5.6M235.4 329.1h5.6M213 315.6h5.6M213 332.5h5.6M205.6 299h5.6M205.6 308.3h5.6M203.6 293.8h5.6M203.6 303.8h5.6M217.8 302.4h5.6M217.8 309.4h5.6M225.1 297.6h5.6M225.1 315.1h5.6M229.4 306.5h5.6M229.4 321.9h5.6M210.2 298.8h5.6M210.2 311.3h5.6M217.8 288.8h5.6M217.8 298.5h5.6M217.8 292.7h5.6M217.8 302.5h5.6M221.2 304h5.6M221.2 314.1h5.6M206.4 313.7h5.6M206.4 324.9h5.6M206.8 310.3h5.6M206.8 320.8h5.6M228.5 306.2h5.6M228.5 319.4h5.6M224.4 312.6h5.6M224.4 328.1h5.6M203.2 300.1h5.6M203.2 307.7h5.6M229.7 305.5h5.6M229.7 312.5h5.6M211.5 302.8h5.6M211.5 316.3h5.6M233 308.2h5.6M233 322.1h5.6M216.5 307h5.6M216.5 319.4h5.6M232.4 309.7h5.6M232.4 321.4h5.6M199.9 290.2h5.6M199.9 299.6h5.6M197.2 297.3h5.6M197.2 313.6h5.6M224.4 293.3h5.6M224.4 302.4h5.6M212.1 304.1h5.6M212.1 314.1h5.6M221 287.4h5.6M221 304h5.6M213.8 306.6h5.6M213.8 314.3h5.6M222.9 282.1h5.6M222.9 293h5.6M233.6 299.2h5.6M233.6 310.1h5.6M218.5 306h5.6M218.5 317.4h5.6M225.8 293.6h5.6M225.8 302.1h5.6M201.4 316h5.6M201.4 328.9h5.6M235.2 288h5.6M235.2 296.4h5.6M223.5 317.7h5.6M223.5 337.5h5.6M226.1 308.4h5.6M226.1 316.1h5.6M226 330.5h5.6M226 346.3h5.6M221.8 277.5h5.6M221.8 293.3h5.6M221.2 308.6h5.6M221.2 316.1h5.6M215.9 312.5h5.6M215.9 332.1h5.6M218 318.1h5.6M218 328.3h5.6M207.8 314.4h5.6M207.8 326h5.6M211.7 291.6h5.6M211.7 301.3h5.6M209 288.7h5.6M209 304.1h5.6M215.6 314.5h5.6M215.6 331h5.6M227.3 296.7h5.6M227.3 315.3h5.6M215.5 299.6h5.6M215.5 312h5.6M197.9 302.3h5.6M197.9 315.4h5.6M214.2 288.9h5.6M214.2 303.9h5.6M207.5 311h5.6M207.5 319.4h5.6M219.4 295.6h5.6M219.4 312h5.6M218.2 317.9h5.6M218.2 334.3h5.6M208.5 302h5.6M208.5 311.9h5.6M216.7 302.6h5.6M216.7 310.6h5.6M225.8 311.4h5.6M225.8 324.4h5.6M195.3 301.6h5.6M195.3 312.7h5.6M216.7 323.1h5.6M216.7 348.4h5.6M214.1 296.6h5.6M214.1 308.3h5.6M217.2 294.6h5.6M217.2 303.8h5.6M212.4 290h5.6M212.4 298.3h5.6M207.9 308.8h5.6M207.9 317.5h5.6M205.5 316.6h5.6M205.5 329.8h5.6M220.6 314.3h5.6M220.6 327.1h5.6M226 316.9h5.6M226 332.7h5.6M207.6 293.4h5.6M207.6 309.8h5.6M228.3 307.1h5.6M228.3 317h5.6M202.3 293.2h5.6M202.3 304.6h5.6M223.6 303.6h5.6M223.6 311.3h5.6M197.4 307.7h5.6M197.4 319.3h5.6M220.8 285.9h5.6M220.8 297.3h5.6M235.4 324.3h5.6M235.4 337.3h5.6M233.2 297.1h5.6M233.2 305.9h5.6M229.6 316.9h5.6M229.6 329.9h5.6M226.8 297.4h5.6M226.8 306.2h5.6M222.1 286.7h5.6M222.1 296.8h5.6M222 314.5h5.6M222 334h5.6M221.4 300.7h5.6M221.4 313.1h5.6M207.4 300.4h5.6M207.4 313.2h5.6M224 317.8h5.6M224 329.5h5.6M228.4 308.6h5.6M228.4 327.3h5.6M226.8 310.8h5.6M226.8 329.2h5.6M233.2 318.2h5.6M233.2 331.2h5.6M203.4 304.2h5.6M203.4 312.2h5.6M206.4 319.2h5.6M206.4 333.1h5.6M196.7 292.8h5.6M196.7 306.9h5.6M213.8 315.1h5.6M213.8 328.4h5.6M204.3 293.3h5.6M204.3 305.6h5.6M212.5 299.5h5.6M212.5 306.1h5.6M217.5 298.3h5.6M217.5 308.4h5.6M224.1 310h5.6M224.1 320.9h5.6M194.6 306.3h5.6M194.6 317.8h5.6M236 295.8h5.6M236 307.4h5.6M229 291h5.6M229 301h5.6M215 309.3h5.6M215 321.5h5.6M232.3 280h5.6M232.3 287.8h5.6M212.8 315h5.6M212.8 332.1h5.6M225.7 306.3h5.6M225.7 316.1h5.6M216.9 307.4h5.6M216.9 317.9h5.6M223.8 290.6h5.6M223.8 299.7h5.6M224.2 291.1h5.6M224.2 304.9h5.6M220.8 319h5.6M220.8 332.1h5.6M223.7 296.6h5.6M223.7 303.4h5.6M227.8 321.5h5.6M227.8 335h5.6M221.3 287.2h5.6M221.3 300.4h5.6M221.9 304h5.6M221.9 313.5h5.6M216.6 314.4h5.6M216.6 329.9h5.6M224.3 301.5h5.6M224.3 311.6h5.6M224 304.6h5.6M224 315.2h5.6M216.8 313.8h5.6M216.8 335.6h5.6M196.9 307.2h5.6M196.9 326.5h5.6M199.3 306.1h5.6M199.3 318.9h5.6M222.3 317.3h5.6M222.3 329.2h5.6M215.9 311.1h5.6M215.9 322.2h5.6M230.2 303.4h5.6M230.2 310.6h5.6M219.4 311.8h5.6M219.4 328.4h5.6M205.4 302.1h5.6M205.4 310.1h5.6M195.1 305.3h5.6M195.1 316.1h5.6M232.1 295.3h5.6M232.1 314h5.6M221.7 294.9h5.6M221.7 304.4h5.6M201.3 306.6h5.6M201.3 314h5.6M195 305.8h5.6M195 323.7h5.6M206.2 313.8h5.6M206.2 330.3h5.6M200 301h5.6M200 308.4h5.6M210.2 285.1h5.6M210.2 301.8h5.6M214.1 313.6h5.6M214.1 335.9h5.6M214.8 312.7h5.6M214.8 322.8h5.6M201.9 299.6h5.6M201.9 312.8h5.6M218.8 307.1h5.6M218.8 315.8h5.6M212.2 297.5h5.6M212.2 316.7h5.6M199.2 300.5h5.6M199.2 311.9h5.6M210.3 314h5.6M210.3 327.5h5.6M202.1 311.3h5.6M202.1 329.9h5.6M225.6 299.6h5.6M225.6 308.4h5.6M199.5 313.1h5.6M199.5 326.7h5.6M203 309.3h5.6M203 318.8h5.6M231.6 323.5h5.6M231.6 339.3h5.6M230.4 311.7h5.6M230.4 323.1h5.6M210.4 304.5h5.6M210.4 312.4h5.6M229.6 299.1h5.6M229.6 312h5.6M204.3 306.5h5.6M204.3 317.9h5.6M203.6 306.2h5.6M203.6 327.9h5.6M221.3 294.2h5.6M221.3 303.1h5.6M227.5 303.8h5.6M227.5 318h5.6M203 295.5h5.6M203 311.2h5.6M219.8 314.9h5.6M219.8 328.7h5.6M235.4 318.9h5.6M235.4 334.1h5.6M220.1 282.8h5.6M220.1 301h5.6M202.4 313.3h5.6M202.4 330.7h5.6M206.2 279.7h5.6M206.2 294.1h5.6M235.4 306.1h5.6M235.4 314.7h5.6M201.6 317.2h5.6M201.6 331.4h5.6M209 284.8h5.6M209 293.2h5.6M219.2 291.5h5.6M219.2 297.8h5.6M212.7 310.3h5.6M212.7 327.1h5.6M200.3 287.9h5.6M200.3 301.1h5.6M202.5 296.6h5.6M202.5 311.3h5.6M230.7 312.6h5.6M230.7 332.2h5.6M227.7 316.5h5.6M227.7 327.2h5.6M228.6 290.3h5.6M228.6 303h5.6M203.9 311.3h5.6M203.9 322.8h5.6M234.3 317.1h5.6M234.3 331.5h5.6M215.6 313.3h5.6M215.6 323.2h5.6M201.2 307.9h5.6M201.2 316.1h5.6M220.3 321.2h5.6M220.3 333.9h5.6M204.6 313.4h5.6M204.6 328.9h5.6M216.3 317h5.6M216.3 330.9h5.6M233.3 309.5h5.6M233.3 319.7h5.6M197.8 307.6h5.6M197.8 321.1h5.6M220.6 317h5.6M220.6 331.9h5.6M214.3 317.5h5.6M214.3 332.7h5.6M222 282.1h5.6M222 294.6h5.6M220.4 304.5h5.6M220.4 322.3h5.6M233 306.3h5.6M233 315.4h5.6M222.1 304.4h5.6M222.1 313.2h5.6M221.5 312.8h5.6M221.5 325.3h5.6M224 299.8h5.6M224 313.3h5.6M213.1 301.5h5.6M213.1 309.5h5.6M194.8 299.2h5.6M194.8 313.2h5.6M233.2 300h5.6M233.2 309.6h5.6M225.3 304.7h5.6M225.3 315h5.6M199 294.8h5.6M199 304.2h5.6M207.4 314.6h5.6M207.4 327h5.6M214.7 300.5h5.6M214.7 307.2h5.6M223.7 314.8h5.6M223.7 324.8h5.6M236.3 313.2h5.6M236.3 324.8h5.6M227.3 313.5h5.6M227.3 322.3h5.6M230.7 309.9h5.6M230.7 324.3h5.6M202.6 294.2h5.6M202.6 303.2h5.6M200.2 309.4h5.6M200.2 318.6h5.6M197.7 306h5.6M197.7 320h5.6M213.1 300.6h5.6M213.1 309.7h5.6M202.6 310.1h5.6M202.6 333h5.6M208.8 293.4h5.6M208.8 300.3h5.6M196.1 299.8h5.6M196.1 308.9h5.6M212.2 289.8h5.6M212.2 299h5.6M200.4 290.2h5.6M200.4 304.4h5.6M234.5 309.2h5.6M234.5 318.1h5.6M203.6 303.8h5.6M203.6 316.9h5.6M198.8 293.3h5.6M198.8 304.4h5.6M221 308.2h5.6M221 317.5h5.6M212.9 309.6h5.6M212.9 317.8h5.6M209.7 314.1h5.6M209.7 336.4h5.6M227.6 301.4h5.6M227.6 315.4h5.6M234.6 322.1h5.6M234.6 334.5h5.6M211 321.3h5.6M211 345h5.6M194.9 296.5h5.6M194.9 303.9h5.6M221.3 305.6h5.6M221.3 312h5.6M235.1 317.3h5.6M235.1 334.6h5.6M196.1 293.9h5.6M196.1 301.7h5.6M209.5 315.5h5.6M209.5 333.4h5.6M214.1 295.6h5.6M214.1 307.1h5.6M232.1 293.4h5.6M232.1 302h5.6M224.3 307.2h5.6M224.3 316h5.6M215.5 304.9h5.6M215.5 320.1h5.6M215.3 281.2h5.6M215.3 292.5h5.6M200.7 304h5.6M200.7 314.7h5.6M231.3 332.8h5.6M231.3 345.6h5.6M209.5 329.2h5.6M209.5 340.1h5.6M227.2 332h5.6M227.2 344.5h5.6M235.4 330.2h5.6M235.4 342.6h5.6M227.5 333.8h5.6M227.5 345.5h5.6M208.8 328.6h5.6M208.8 337.5h5.6M224.7 332.6h5.6M224.7 346.5h5.6M210.6 329.6h5.6M210.6 345.5h5.6M209.3 328.7h5.6M209.3 339.3h5.6M218.3 332.1h5.6M218.3 346.9h5.6M198.6 324.1h5.6M198.6 334h5.6M219 335.3h5.6M219 347.1h5.6M200 326.9h5.6M200 337h5.6M216 280.8h5.6M216 290.8h5.6M211.5 275h5.6M211.5 289.1h5.6M211.8 279.3h5.6M211.8 289h5.6M209.7 279.7h5.6M209.7 288.6h5.6M198 284.8h5.6M198 295.1h5.6M218.5 271h5.6M218.5 285h5.6M223 273h5.6M223 289h5.6M235.2 333h5.6M235.2 357h5.6M226.2 333h5.6M226.2 350h5.6M253.1 295.1h5.6M253.1 308.5h5.6M253.6 309.8h5.6M253.6 322.2h5.6M251.3 321h5.6M251.3 336.1h5.6M255.9 314.7h5.6M255.9 329.1h5.6M255.7 300.7h5.6M255.7 309.7h5.6M253.8 310.9h5.6M253.8 322.9h5.6M256 304.5h5.6M256 320h5.6M249.7 300.7h5.6M249.7 317.9h5.6M253.3 306.6h5.6M253.3 327.2h5.6M255.8 302.1h5.6M255.8 312.5h5.6M253.4 293.9h5.6M253.4 306.3h5.6M254.3 308.7h5.6M254.3 326.3h5.6M255 309.4h5.6M255 324.4h5.6M250 312h5.6M250 323.5h5.6M252.5 294.8h5.6M252.5 309.9h5.6M255.4 312.9h5.6M255.4 323.2h5.6M251.1 300.8h5.6M251.1 313h5.6M250.2 309.5h5.6M250.2 318.1h5.6M254.2 306.7h5.6M254.2 314.2h5.6M256.3 319h5.6M256.3 338h5.6M249.5 298.6h5.6M249.5 307.8h5.6M254.7 309.2h5.6M254.7 315.5h5.6M249.5 303.5h5.6M249.5 313.1h5.6M256.3 311.3h5.6M256.3 323.2h5.6M255.5 312.9h5.6M255.5 327.9h5.6M253.9 314.5h5.6M253.9 326.7h5.6M253.5 316.2h5.6M253.5 331.7h5.6M254 309.5h5.6M254 316.7h5.6M251.1 316h5.6M251.1 330.3h5.6M254.7 317h5.6M254.7 327.9h5.6M255.7 316.5h5.6M255.7 329.9h5.6M253.7 294.4h5.6M253.7 303.7h5.6M250.4 311.1h5.6M250.4 320.1h5.6M250.4 308.5h5.6M250.4 323.7h5.6M254.3 297.4h5.6M254.3 305.8h5.6M254.8 314h5.6M254.8 329.6h5.6M253.5 305.6h5.6M253.5 312.8h5.6M250.6 307.2h5.6M250.6 314.4h5.6M250 294.3h5.6M250 305.6h5.6M255.4 312.4h5.6M255.4 324.9h5.6M250.7 297.9h5.6M250.7 307.4h5.6M256 285.7h5.6M256 299.8h5.6M254.7 297.7h5.6M254.7 305.4h5.6M249.5 304.4h5.6M249.5 313.1h5.6M250.4 308.1h5.6M250.4 318.3h5.6M253 311.9h5.6M253 319.4h5.6M254.7 295.8h5.6M254.7 304.9h5.6M251.9 302.4h5.6M251.9 310.8h5.6M253.6 308.9h5.6M253.6 316.6h5.6M254.8 297.4h5.6M254.8 312h5.6M254 291.3h5.6M254 300.5h5.6M251.5 297.5h5.6M251.5 305.8h5.6M255.5 305.5h5.6M255.5 314.8h5.6M250.4 305.5h5.6M250.4 315.8h5.6M253.1 312.2h5.6M253.1 322.3h5.6M251.3 302.7h5.6M251.3 310.3h5.6M251.6 295.8h5.6M251.6 305.4h5.6M250.4 312.9h5.6M250.4 327.7h5.6M254.7 302h5.6M254.7 312.9h5.6M251.5 310.1h5.6M251.5 317.7h5.6M253.6 308.3h5.6M253.6 322h5.6M255.2 312.4h5.6M255.2 330.7h5.6M249.7 311.5h5.6M249.7 322.3h5.6M251.9 329.7h5.6M251.9 341.5h5.6M252.8 326.6h5.6M252.8 340.5h5.6M254 288.9h5.6M254 298.3h5.6M395.9 285.5h5.6M395.9 297.2h5.6M395.2 318.3h5.6M395.2 333.2h5.6M385.6 320.4h5.6M385.6 337.7h5.6M392.3 317.9h5.6M392.3 331.5h5.6M393.3 308.5h5.6M393.3 320.4h5.6M390.8 314.6h5.6M390.8 329.5h5.6M392 285.7h5.6M392 299h5.6M386.2 288.8h5.6M386.2 296.7h5.6M393.3 293.4h5.6M393.3 308.5h5.6M385.5 305h5.6M385.5 315h5.6M388.4 313.3h5.6M388.4 326.4h5.6M392.4 318.5h5.6M392.4 331.2h5.6M389.5 330.1h5.6M389.5 348.9h5.6M385 318.5h5.6M385 337.1h5.6M393.1 293.6h5.6M393.1 301h5.6M385.5 283.8h5.6M385.5 295h5.6M391.7 312.5h5.6M391.7 322.1h5.6M384.3 318.3h5.6M384.3 336.8h5.6M394.2 312h5.6M394.2 322.6h5.6M393.9 294.3h5.6M393.9 306h5.6M386.4 309.7h5.6M386.4 319.3h5.6M395.3 300.5h5.6M395.3 313.2h5.6M389.6 286.7h5.6M389.6 293.7h5.6M392.3 301.3h5.6M392.3 308.8h5.6M385.3 320.1h5.6M385.3 338.4h5.6M390.6 300h5.6M390.6 308.5h5.6M386.2 304.2h5.6M386.2 320.4h5.6M385 299.6h5.6M385 309.3h5.6M386.2 321.1h5.6M386.2 335.9h5.6M389.8 330.4h5.6M389.8 344.7h5.6M386.8 307.3h5.6M386.8 318.7h5.6M389 300.9h5.6M389 318h5.6M390.6 313.7h5.6M390.6 325.1h5.6M391.7 305.2h5.6M391.7 320.7h5.6M394.1 319.5h5.6M394.1 337.4h5.6M389.7 320.2h5.6M389.7 336h5.6M393.1 320.7h5.6M393.1 338.5h5.6M385.8 284.2h5.6M385.8 298h5.6M390.3 324h5.6M390.3 339.2h5.6M392.3 323.8h5.6M392.3 343.2h5.6M394.9 307.5h5.6M394.9 316.2h5.6M390.3 322.7h5.6M390.3 338h5.6M395 317.4h5.6M395 338.8h5.6M394.7 304.6h5.6M394.7 319.7h5.6M386 313.3h5.6M386 323.7h5.6M388.5 320h5.6M388.5 336.1h5.6M384 293.6h5.6M384 303.4h5.6M385.8 294.2h5.6M385.8 312.6h5.6M386.3 311.3h5.6M386.3 319.6h5.6M390 315.8h5.6M390 331.3h5.6M383.5 318.6h5.6M383.5 336.3h5.6M394.7 294h5.6M394.7 308.6h5.6M383.8 325.6h5.6M383.8 343.9h5.6M391.5 302.7h5.6M391.5 312.1h5.6M392 297.8h5.6M392 304.2h5.6M392.2 291.9h5.6M392.2 299.5h5.6M395.7 315.4h5.6M395.7 331.8h5.6M394.3 316.6h5.6M394.3 329.4h5.6M388.2 282.4h5.6M388.2 289.6h5.6M385.3 308.4h5.6M385.3 319.4h5.6M394.2 290.9h5.6M394.2 299h5.6M384.6 327.4h5.6M384.6 344.1h5.6M395.3 277.1h5.6M395.3 294.8h5.6M390.2 307.8h5.6M390.2 323.2h5.6M388.6 294.6h5.6M388.6 307.3h5.6M394.6 292.5h5.6M394.6 304.6h5.6M389.1 333.3h5.6M389.1 348h5.6M390.9 300h5.6M390.9 307.5h5.6M388.7 310.3h5.6M388.7 320.5h5.6M394.1 317.9h5.6M394.1 333.8h5.6M389.7 325.4h5.6M389.7 339.9h5.6M392.6 300h5.6M392.6 311.1h5.6M389.6 277.2h5.6M389.6 289.8h5.6M395 315.4h5.6M395 331.7h5.6M393.4 303.5h5.6M393.4 315.9h5.6M394.1 318.3h5.6M394.1 331.1h5.6M384.6 280.5h5.6M384.6 289.8h5.6M391.6 294.8h5.6M391.6 301.4h5.6M384.4 298.4h5.6M384.4 306.2h5.6M384.1 317.5h5.6M384.1 332.5h5.6M383.5 308.9h5.6M383.5 321.1h5.6M391.2 303.7h5.6M391.2 317.7h5.6M394.5 314.1h5.6M394.5 327.8h5.6M384.8 293.7h5.6M384.8 302.3h5.6M391.7 281.1h5.6M391.7 293.3h5.6M387.6 298.3h5.6M387.6 309.9h5.6M390.4 285h5.6M390.4 301.9h5.6M383.8 299.2h5.6M383.8 309.5h5.6M391.9 313.6h5.6M391.9 330.5h5.6M388.8 315.2h5.6M388.8 333.4h5.6M394.1 323.8h5.6M394.1 338.4h5.6M394.4 314.9h5.6M394.4 335.2h5.6M392.7 291.6h5.6M392.7 303.8h5.6M392.6 290h5.6M392.6 296.9h5.6M383.8 307.5h5.6M383.8 316h5.6M390.7 286.3h5.6M390.7 303h5.6M384.6 302.5h5.6M384.6 319.7h5.6M383.8 312.5h5.6M383.8 328h5.6M384.3 289.7h5.6M384.3 298.5h5.6M384.5 324.4h5.6M384.5 346h5.6M388.3 317.7h5.6M388.3 332.9h5.6M394 308.9h5.6M394 319.7h5.6M394 333.5h5.6M394 348.7h5.6M390.8 337.3h5.6M390.8 351.9h5.6M384.9 333.8h5.6M384.9 348.5h5.6M386 336.8h5.6M386 347.5h5.6M384.4 274.9h5.6M384.4 289h5.6M391.8 351h5.6M391.8 370h5.6M394.2 272h5.6M394.2 287h5.6M391.2 342h5.6M391.2 352h5.6M392.2 346h5.6M392.2 357h5.6M389.7 338h5.6M389.7 349h5.6M439.3 299.4h5.6M439.3 310.8h5.6M427.7 303.6h5.6M427.7 310.5h5.6M421.2 318.5h5.6M421.2 332h5.6M436.7 288.3h5.6M436.7 300.2h5.6M435.7 291.3h5.6M435.7 301.8h5.6M419 297.5h5.6M419 306.1h5.6M428.1 313.5h5.6M428.1 323.6h5.6M440.4 324.4h5.6M440.4 340.5h5.6M441.4 327.7h5.6M441.4 341.7h5.6M436.7 293.2h5.6M436.7 306.5h5.6M430.9 288.4h5.6M430.9 299.2h5.6M419.5 294.4h5.6M419.5 312h5.6M426.5 288.9h5.6M426.5 306.4h5.6M441.6 296.8h5.6M441.6 314.2h5.6M422 307.3h5.6M422 319.4h5.6M421.3 296.2h5.6M421.3 303.1h5.6M422.8 315.7h5.6M422.8 324.3h5.6M431.1 309.3h5.6M431.1 320.4h5.6M427.7 319.8h5.6M427.7 335.4h5.6M445.8 320.4h5.6M445.8 336h5.6M422.5 305.7h5.6M422.5 314.2h5.6M441.4 323.4h5.6M441.4 336.1h5.6M424.8 291.5h5.6M424.8 303h5.6M420.1 310.9h5.6M420.1 321.4h5.6M422.1 299h5.6M422.1 307.4h5.6M419.6 291.9h5.6M419.6 301.3h5.6M422.1 307.8h5.6M422.1 320.8h5.6M433.2 314.4h5.6M433.2 331.1h5.6M420.5 307.7h5.6M420.5 326.6h5.6M423.1 299.8h5.6M423.1 313.2h5.6M436.7 308.9h5.6M436.7 316.7h5.6M438.6 321h5.6M438.6 338.3h5.6M421.1 321.9h5.6M421.1 334.6h5.6M426.9 290.6h5.6M426.9 307.6h5.6M431.2 322.3h5.6M431.2 343h5.6M435.6 325.7h5.6M435.6 340.5h5.6M440.6 319.8h5.6M440.6 335.6h5.6M430.9 303.8h5.6M430.9 315.3h5.6M422.8 319.5h5.6M422.8 331h5.6M431.2 303.2h5.6M431.2 312.9h5.6M428.5 314.1h5.6M428.5 323.6h5.6M436.7 287.8h5.6M436.7 300h5.6M441.6 318.6h5.6M441.6 331.7h5.6M432 295h5.6M432 307h5.6M425.2 319h5.6M425.2 338.3h5.6M424.5 318.1h5.6M424.5 332.1h5.6M431.8 330.7h5.6M431.8 349.9h5.6M423.5 299.2h5.6M423.5 309.1h5.6M424.2 298.8h5.6M424.2 314.6h5.6M429.2 315.7h5.6M429.2 336.4h5.6M442 310.4h5.6M442 322.6h5.6M440.3 312.2h5.6M440.3 321.7h5.6M424.3 306h5.6M424.3 318.6h5.6M426.8 304h5.6M426.8 318.5h5.6M438.2 304h5.6M438.2 314.5h5.6M427.8 323.2h5.6M427.8 336h5.6M420.4 319.1h5.6M420.4 333h5.6M425.4 310.2h5.6M425.4 319.4h5.6M430.1 311.7h5.6M430.1 325h5.6M430.6 311.3h5.6M430.6 322.7h5.6M442.3 318.5h5.6M442.3 335.2h5.6M419.1 294.5h5.6M419.1 303.4h5.6M436.2 300.2h5.6M436.2 317.2h5.6M427.6 314.5h5.6M427.6 326.6h5.6M438.4 322.9h5.6M438.4 340h5.6M426.7 296.1h5.6M426.7 306.4h5.6M421.7 317h5.6M421.7 327.3h5.6M421.2 294.9h5.6M421.2 313.3h5.6M439.9 328.4h5.6M439.9 343.4h5.6M425.8 292.4h5.6M425.8 301.6h5.6M442.9 288.1h5.6M442.9 295.7h5.6M445.3 297.2h5.6M445.3 304.2h5.6M438.6 321.5h5.6M438.6 335h5.6M435.1 315h5.6M435.1 324.5h5.6M425.2 309.1h5.6M425.2 328.4h5.6M424.8 310h5.6M424.8 329.5h5.6M443.2 295.1h5.6M443.2 307.7h5.6M434.4 293.5h5.6M434.4 309.5h5.6M429.3 316h5.6M429.3 327.3h5.6M428.2 310.2h5.6M428.2 318.5h5.6M425.5 312.7h5.6M425.5 320.4h5.6M421.3 312h5.6M421.3 325.3h5.6M433.3 298.5h5.6M433.3 308.4h5.6M444.1 321.5h5.6M444.1 338.4h5.6M440 320.9h5.6M440 335.2h5.6M425.5 322.5h5.6M425.5 336.7h5.6M438.5 308.2h5.6M438.5 319.3h5.6M434.9 314.4h5.6M434.9 325h5.6M421.6 287.8h5.6M421.6 296.9h5.6M436.3 306h5.6M436.3 315.8h5.6M438.9 312.4h5.6M438.9 322.7h5.6M443.3 320.3h5.6M443.3 337.3h5.6M419.7 308h5.6M419.7 319.4h5.6M440.4 298.9h5.6M440.4 315.8h5.6M430.7 319.2h5.6M430.7 337.4h5.6M425.8 311.7h5.6M425.8 325.6h5.6M425.2 304.1h5.6M425.2 320.7h5.6M443.5 292.7h5.6M443.5 301.2h5.6M421.3 324.6h5.6M421.3 341.3h5.6M435 310h5.6M435 318h5.6M442 319h5.6M442 337.9h5.6M439.1 319.4h5.6M439.1 332.7h5.6M445.4 294.8h5.6M445.4 302.4h5.6M440.6 291.4h5.6M440.6 300.6h5.6M420.4 308.1h5.6M420.4 324.1h5.6M429.8 304.1h5.6M429.8 314.3h5.6M442.5 324.1h5.6M442.5 337.5h5.6M419.4 313.3h5.6M419.4 324.3h5.6M425.7 319.4h5.6M425.7 332.6h5.6M422 297.7h5.6M422 311.6h5.6M419.4 301.2h5.6M419.4 314.4h5.6M422.2 284h5.6M422.2 298.9h5.6M434.2 313.7h5.6M434.2 325h5.6M423.4 324h5.6M423.4 338.4h5.6M420.7 317.6h5.6M420.7 337.2h5.6M430.8 301.8h5.6M430.8 310.1h5.6M433.1 295h5.6M433.1 304.1h5.6M424 319.5h5.6M424 332.5h5.6M420.3 315h5.6M420.3 328h5.6M440.2 296.7h5.6M440.2 308h5.6M435.8 302.8h5.6M435.8 316.3h5.6M444.3 319.4h5.6M444.3 335.9h5.6M431.6 329.4h5.6M431.6 350.7h5.6M426.7 298.5h5.6M426.7 308.5h5.6M440.2 321h5.6M440.2 332.6h5.6M444.5 324h5.6M444.5 342.3h5.6M444.6 322.7h5.6M444.6 336h5.6M431.9 308.7h5.6M431.9 316.8h5.6M425.7 300.7h5.6M425.7 310.4h5.6M419.5 292.6h5.6M419.5 302h5.6M441.7 305h5.6M441.7 313.4h5.6M440.9 312.5h5.6M440.9 319.5h5.6M421.5 292.6h5.6M421.5 299.7h5.6M439.3 309h5.6M439.3 317.6h5.6M439.9 305.3h5.6M439.9 317.1h5.6M425 328.7h5.6M425 346.3h5.6M426.5 320.3h5.6M426.5 336.3h5.6M420.1 304.1h5.6M420.1 313.3h5.6M433.9 294.4h5.6M433.9 302.8h5.6M430.3 315.9h5.6M430.3 333.4h5.6M430.6 296.7h5.6M430.6 305.8h5.6M420.2 294.6h5.6M420.2 303.7h5.6M427 301.5h5.6M427 318.2h5.6M419.5 305.2h5.6M419.5 320.2h5.6M428.8 303.9h5.6M428.8 314.5h5.6M421.1 322.4h5.6M421.1 335.9h5.6M436.3 303.3h5.6M436.3 321.6h5.6M438.6 294.8h5.6M438.6 305.7h5.6M419.3 303.7h5.6M419.3 317.4h5.6M422 287.3h5.6M422 295h5.6M435.4 288.7h5.6M435.4 297.3h5.6M423.7 285h5.6M423.7 296.1h5.6M434 312.4h5.6M434 321.3h5.6M429.2 288.9h5.6M429.2 300.9h5.6M423.8 298.5h5.6M423.8 313.5h5.6M423.2 296h5.6M423.2 306h5.6M441.5 321.2h5.6M441.5 334.3h5.6M441.3 320.6h5.6M441.3 333.1h5.6M441.7 311.1h5.6M441.7 320.4h5.6M439.9 321.5h5.6M439.9 334.3h5.6M426 309.1h5.6M426 323.3h5.6M445.5 324h5.6M445.5 336.3h5.6M435.5 301.2h5.6M435.5 309.2h5.6M432 297.6h5.6M432 304.9h5.6M421.4 294h5.6M421.4 304.9h5.6M438 289.4h5.6M438 296h5.6M440.5 295.7h5.6M440.5 304.4h5.6M445.5 315.4h5.6M445.5 335.7h5.6M419.7 293h5.6M419.7 301.7h5.6M429.8 303.7h5.6M429.8 320.2h5.6M437.3 310.5h5.6M437.3 327.5h5.6M428.2 327.7h5.6M428.2 345.8h5.6M439 304.9h5.6M439 324.3h5.6M433.7 304.9h5.6M433.7 319.6h5.6M434.7 314.4h5.6M434.7 322.9h5.6M431 297.4h5.6M431 305.4h5.6M440.1 281.8h5.6M440.1 299h5.6M444.2 298.5h5.6M444.2 311h5.6M440.1 320.5h5.6M440.1 335.4h5.6M428.7 305.3h5.6M428.7 315h5.6M428.3 288.8h5.6M428.3 295.3h5.6M442.7 335.7h5.6M442.7 351.4h5.6M437.1 339.5h5.6M437.1 354.1h5.6M437.7 338.4h5.6M437.7 349.8h5.6M428.9 335.7h5.6M428.9 346.6h5.6M441.4 336.1h5.6M441.4 351.5h5.6M422.4 333.9h5.6M422.4 347.9h5.6M442.6 334.3h5.6M442.6 343.9h5.6M427.3 336.4h5.6M427.3 348.1h5.6M428.8 282.7h5.6M428.8 292.1h5.6M425.2 280.8h5.6M425.2 291.5h5.6M445 282.2h5.6M445 294.1h5.6M413.2 293.5h5.6M413.2 306.5h5.6M410.8 308h5.6M410.8 322h5.6M412.7 318h5.6M412.7 328h5.6M414.7 305h5.6M414.7 315h5.6M411.7 300h5.6M411.7 309h5.6M413.2 321h5.6M413.2 335h5.6M415.7 313h5.6M415.7 323h5.6M415.2 292h5.6M415.2 300h5.6M425 268.8h5.6M425 284.5h5.6M424.7 279h5.6M424.7 289h5.6M446.2 280.6h5.6M446.2 300.2h5.6M450.2 311.5h5.6M450.2 339.5h5.6M448.2 300h5.6M448.2 310h5.6M447.7 309h5.6M447.7 321h5.6M449.2 330h5.6M449.2 340h5.6M437.2 338h5.6M437.2 349h5.6M480 306.3h5.6M480 313.1h5.6M475.3 293.5h5.6M475.3 301h5.6M478.8 294.6h5.6M478.8 301.6h5.6M489 311.4h5.6M489 320.2h5.6M471.8 300.2h5.6M471.8 315.3h5.6M481 281h5.6M481 289.1h5.6M497.5 295.6h5.6M497.5 304.5h5.6M479.8 314.2h5.6M479.8 335h5.6M483.6 310h5.6M483.6 318.3h5.6M480.9 313.7h5.6M480.9 326h5.6M502.7 309.9h5.6M502.7 329.3h5.6M498.2 316h5.6M498.2 330.2h5.6M501 296.3h5.6M501 310.9h5.6M484.8 295.8h5.6M484.8 303.1h5.6M489.3 302.4h5.6M489.3 312.6h5.6M472.3 294.6h5.6M472.3 303h5.6M485.2 316.2h5.6M485.2 333.7h5.6M480.7 315.2h5.6M480.7 326.5h5.6M482.7 302.5h5.6M482.7 310.5h5.6M496.7 303.1h5.6M496.7 319.7h5.6M478.1 311.8h5.6M478.1 326h5.6M473.9 304.1h5.6M473.9 314.2h5.6M487.2 304.2h5.6M487.2 311.5h5.6M495.9 303.1h5.6M495.9 310.3h5.6M494.4 318.1h5.6M494.4 332.7h5.6M497.7 319.8h5.6M497.7 338.1h5.6M494.1 297.3h5.6M494.1 305.2h5.6M474.1 305.8h5.6M474.1 324.6h5.6M491.8 313.9h5.6M491.8 326.9h5.6M475.8 288h5.6M475.8 301h5.6M493.6 287.3h5.6M493.6 297h5.6M480.5 301.5h5.6M480.5 317.4h5.6M502.3 305.7h5.6M502.3 314.6h5.6M497.7 289h5.6M497.7 304.2h5.6M484.7 305.7h5.6M484.7 318.3h5.6M502.3 310.9h5.6M502.3 329.5h5.6M492.8 314.3h5.6M492.8 330.2h5.6M472.3 291.1h5.6M472.3 306h5.6M485.5 308.9h5.6M485.5 326.1h5.6M495.9 309.9h5.6M495.9 318.1h5.6M480.4 316h5.6M480.4 329h5.6M474.7 306.8h5.6M474.7 331.4h5.6M482.5 289.3h5.6M482.5 306.9h5.6M473.1 299.3h5.6M473.1 306.8h5.6M500.7 296.3h5.6M500.7 308h5.6M496.1 309.3h5.6M496.1 320.9h5.6M487.9 310.3h5.6M487.9 327.2h5.6M502.4 311.5h5.6M502.4 323.8h5.6M484.3 285.8h5.6M484.3 300.3h5.6M482.2 322.3h5.6M482.2 337.4h5.6M488.4 318.4h5.6M488.4 333.7h5.6M477.1 306.5h5.6M477.1 320.4h5.6M485.1 316.2h5.6M485.1 327.5h5.6M501.6 294.2h5.6M501.6 304.6h5.6M473.5 299.6h5.6M473.5 317.4h5.6M503.3 304.9h5.6M503.3 315.9h5.6M482.2 288.7h5.6M482.2 297.9h5.6M497.7 312.2h5.6M497.7 325.2h5.6M478.1 309.3h5.6M478.1 323h5.6M497 308.5h5.6M497 321.5h5.6M497 303.9h5.6M497 315.1h5.6M481.5 291.9h5.6M481.5 300.3h5.6M477.1 298.4h5.6M477.1 311.3h5.6M488.9 324h5.6M488.9 340.4h5.6M489.9 314.9h5.6M489.9 338.4h5.6M484.3 314.9h5.6M484.3 324.1h5.6M483.7 293h5.6M483.7 303h5.6M483.4 304.9h5.6M483.4 321.4h5.6M479.9 315.5h5.6M479.9 334.9h5.6M477.1 295.4h5.6M477.1 310.7h5.6M472 283.4h5.6M472 296.2h5.6M498.2 314.6h5.6M498.2 333.2h5.6M479.4 306.4h5.6M479.4 321.7h5.6M496.8 297.7h5.6M496.8 307.8h5.6M503.3 311.4h5.6M503.3 324.8h5.6M472.6 290.3h5.6M472.6 303.5h5.6M495.6 306.6h5.6M495.6 314.2h5.6M476.9 292.2h5.6M476.9 300h5.6M473.9 302h5.6M473.9 323.4h5.6M484.8 310.8h5.6M484.8 320.7h5.6M494.8 283.5h5.6M494.8 290.1h5.6M472.2 291.6h5.6M472.2 298.5h5.6M481 309.9h5.6M481 321.8h5.6M493 288.3h5.6M493 295.8h5.6M493.2 294.3h5.6M493.2 303.8h5.6M474.3 294.6h5.6M474.3 304.3h5.6M490 320.4h5.6M490 334.2h5.6M492.7 293.9h5.6M492.7 304.6h5.6M497.6 303.6h5.6M497.6 318.5h5.6M473 288.9h5.6M473 305.8h5.6M483.7 318.8h5.6M483.7 331.9h5.6M484.6 304.9h5.6M484.6 315.6h5.6M502.3 307.4h5.6M502.3 318.7h5.6M476 292.2h5.6M476 301.3h5.6M491.4 313.3h5.6M491.4 322.7h5.6M492.1 310.8h5.6M492.1 319h5.6M483 289.1h5.6M483 303.4h5.6M496.7 306.6h5.6M496.7 317.4h5.6M499.1 300.2h5.6M499.1 309.9h5.6M490.9 317.2h5.6M490.9 330.9h5.6M487.9 293.2h5.6M487.9 301.2h5.6M495.8 310.5h5.6M495.8 321.9h5.6M500.8 293.9h5.6M500.8 306.2h5.6M476.7 297.3h5.6M476.7 308.3h5.6M471.5 288.1h5.6M471.5 296.3h5.6M487.8 293h5.6M487.8 299.5h5.6M491.9 310h5.6M491.9 321.5h5.6M495.5 311.2h5.6M495.5 321.2h5.6M494 311h5.6M494 323.1h5.6M501.2 288h5.6M501.2 297.6h5.6M483 323.8h5.6M483 337.2h5.6M481.5 317.3h5.6M481.5 331h5.6M487.8 296.4h5.6M487.8 310.3h5.6M488.2 300.5h5.6M488.2 310.6h5.6M495.9 304h5.6M495.9 313.1h5.6M496.7 306.7h5.6M496.7 315.5h5.6M496.7 287.8h5.6M496.7 305.7h5.6M502.1 306h5.6M502.1 324.6h5.6M481.2 294h5.6M481.2 300.7h5.6M490.3 307.1h5.6M490.3 316.8h5.6M475.1 311.4h5.6M475.1 325.6h5.6M477.8 292.8h5.6M477.8 302.2h5.6M484.4 309.6h5.6M484.4 318.8h5.6M493.2 322.8h5.6M493.2 337.7h5.6M475.8 299.1h5.6M475.8 309h5.6M491.9 308.8h5.6M491.9 325.3h5.6M475.7 291.5h5.6M475.7 302h5.6M477.4 286.1h5.6M477.4 294.6h5.6M471.8 303.3h5.6M471.8 323.3h5.6M498.7 319.7h5.6M498.7 337.9h5.6M493.2 318.1h5.6M493.2 334.1h5.6M489.9 329.2h5.6M489.9 344.1h5.6M497.6 316.9h5.6M497.6 328.3h5.6M478.4 299.2h5.6M478.4 315.9h5.6M485.2 308.7h5.6M485.2 317.6h5.6M485.7 308.3h5.6M485.7 317.1h5.6M484.5 301.3h5.6M484.5 314.9h5.6M501 307.1h5.6M501 316.7h5.6M487 305.2h5.6M487 319.6h5.6M485.3 285.7h5.6M485.3 292.8h5.6M495.2 301.3h5.6M495.2 308.2h5.6M484.8 304.4h5.6M484.8 315.8h5.6M474.4 298.9h5.6M474.4 312.4h5.6M489.3 315.7h5.6M489.3 327.1h5.6M495.4 313.3h5.6M495.4 327.3h5.6M479.3 310.8h5.6M479.3 332.7h5.6M480.3 299.6h5.6M480.3 308.2h5.6M476.3 295.8h5.6M476.3 309.4h5.6M472.4 298.1h5.6M472.4 311.4h5.6M479.7 294.1h5.6M479.7 309.8h5.6M482.4 315.3h5.6M482.4 330h5.6M492.2 285.6h5.6M492.2 296.5h5.6M501 290.5h5.6M501 300.8h5.6M488.5 308.2h5.6M488.5 315h5.6M495.1 322.5h5.6M495.1 333.8h5.6M478.8 300.8h5.6M478.8 315.7h5.6M472 297.4h5.6M472 307.2h5.6M492.4 301.7h5.6M492.4 316.7h5.6M495.9 294.1h5.6M495.9 303.1h5.6M477.2 299.7h5.6M477.2 312h5.6M488.9 289h5.6M488.9 305h5.6M496.5 310.3h5.6M496.5 326.2h5.6M479.8 316.7h5.6M479.8 331.2h5.6M497.2 308.8h5.6M497.2 320.2h5.6M497.2 297.2h5.6M497.2 307.3h5.6M488.7 306.9h5.6M488.7 313.7h5.6M501.3 307h5.6M501.3 317.3h5.6M485.5 285.5h5.6M485.5 297.2h5.6M503.8 294.3h5.6M503.8 304.1h5.6M486.9 316.2h5.6M486.9 333.1h5.6M478.1 300.6h5.6M478.1 315.5h5.6M486.1 304.3h5.6M486.1 312.9h5.6M490 305.5h5.6M490 315.4h5.6M480.9 301.4h5.6M480.9 312.3h5.6M472.3 290.9h5.6M472.3 301.4h5.6M498.3 311.3h5.6M498.3 323.5h5.6M476.9 284.9h5.6M476.9 293.2h5.6M499.2 292.5h5.6M499.2 304.5h5.6M501.2 306.2h5.6M501.2 322.1h5.6M498 296.3h5.6M498 308.6h5.6M503 301.5h5.6M503 313.9h5.6M502.6 304h5.6M502.6 321.4h5.6M472 297.2h5.6M472 312.1h5.6M500.2 288.5h5.6M500.2 295.8h5.6M479.4 317.3h5.6M479.4 330.4h5.6M485 309.6h5.6M485 322.8h5.6M472.9 286.3h5.6M472.9 298.5h5.6M479.4 302.8h5.6M479.4 309.3h5.6M503.2 295.9h5.6M503.2 304.2h5.6M495.5 302.2h5.6M495.5 318.3h5.6M503.4 310.8h5.6M503.4 325.4h5.6M474.6 299.2h5.6M474.6 309.1h5.6M471.8 298.4h5.6M471.8 310.8h5.6M485.5 299.2h5.6M485.5 308.1h5.6M494.9 309.5h5.6M494.9 317.8h5.6M479.3 290.3h5.6M479.3 305.5h5.6M474.6 285.7h5.6M474.6 303.6h5.6M477 309.4h5.6M477 320.5h5.6M481 311.4h5.6M481 326.7h5.6M479.7 319.6h5.6M479.7 336.2h5.6M496.9 299.7h5.6M496.9 310.9h5.6M486.4 303.8h5.6M486.4 312.1h5.6M483.1 318.2h5.6M483.1 332h5.6M503.8 301h5.6M503.8 311.8h5.6M498.1 290.7h5.6M498.1 299.5h5.6M483.4 296.3h5.6M483.4 307h5.6M490 285.7h5.6M490 301.9h5.6M492.3 313.2h5.6M492.3 324.7h5.6M502.5 304.8h5.6M502.5 311.6h5.6M503.2 310.3h5.6M503.2 323.8h5.6M481.5 292.8h5.6M481.5 302.3h5.6M493.1 298.2h5.6M493.1 311.8h5.6M496 305.8h5.6M496 315.5h5.6M481.6 317.1h5.6M481.6 336.7h5.6M487.8 297.9h5.6M487.8 315.1h5.6M500.9 288.5h5.6M500.9 298.9h5.6M486.5 318h5.6M486.5 331.1h5.6M487.5 289h5.6M487.5 306.4h5.6M489.1 292.4h5.6M489.1 302.1h5.6M486.3 318.9h5.6M486.3 331.8h5.6M498.7 287.2h5.6M498.7 300.8h5.6M487.9 301.6h5.6M487.9 309.2h5.6M487.2 292.3h5.6M487.2 298.9h5.6M503.1 293.2h5.6M503.1 307.8h5.6M473.7 303.6h5.6M473.7 325.5h5.6M499.1 287.8h5.6M499.1 299.4h5.6M500 326.2h5.6M500 334.8h5.6M490.4 334.1h5.6M490.4 346.1h5.6M489.8 334.5h5.6M489.8 346.5h5.6M487.5 336.2h5.6M487.5 349.1h5.6M486 333.5h5.6M486 346.4h5.6M480.4 328.2h5.6M480.4 341.8h5.6M487.7 330.9h5.6M487.7 341.9h5.6M484 329.9h5.6M484 343.4h5.6M475.6 323.5h5.6M475.6 333.7h5.6M482.7 332.7h5.6M482.7 345.4h5.6M473.2 283.2h5.6M473.2 292.5h5.6M493.5 278.8h5.6M493.5 288.4h5.6M501.8 285.1h5.6M501.8 296.3h5.6M495.5 279.5h5.6M495.5 290.7h5.6M466.2 301.6h5.6M466.2 325.4h5.6M467.7 313h5.6M467.7 329h5.6M471.7 281.5h5.6M471.7 294.5h5.6M505.2 293.5h5.6M505.2 303.5h5.6M504.2 307h5.6M504.2 317h5.6M503.7 319h5.6M503.7 330h5.6M489.2 337h5.6M489.2 351h5.6M494.2 336h5.6M494.2 350h5.6M546.1 301.5h5.6M546.1 318.5h5.6M543.3 299.9h5.6M543.3 307h5.6M530.6 290.7h5.6M530.6 301.1h5.6M547.7 319.8h5.6M547.7 333h5.6M542.3 301.8h5.6M542.3 308.5h5.6M535.9 304.8h5.6M535.9 314.8h5.6M532.5 299h5.6M532.5 308.3h5.6M538.3 321h5.6M538.3 334.1h5.6M524.2 291.7h5.6M524.2 300.4h5.6M557.4 309.6h5.6M557.4 325.3h5.6M526.4 285.3h5.6M526.4 296.7h5.6M550 323.5h5.6M550 345.1h5.6M532.3 290h5.6M532.3 302.3h5.6M548.1 307.8h5.6M548.1 314.9h5.6M553.7 317.7h5.6M553.7 332.7h5.6M546.8 279.4h5.6M546.8 291.5h5.6M534 299.3h5.6M534 311.7h5.6M549.3 312.4h5.6M549.3 325.2h5.6M556.7 294.9h5.6M556.7 309.1h5.6M544 316.5h5.6M544 330.1h5.6M531.5 283.9h5.6M531.5 302.7h5.6M521.8 311.9h5.6M521.8 328.8h5.6M536.7 309.8h5.6M536.7 319.7h5.6M546.1 290.7h5.6M546.1 298.7h5.6M550.7 302.8h5.6M550.7 314h5.6M542.5 285.7h5.6M542.5 293.2h5.6M534.1 314.7h5.6M534.1 332.2h5.6M523.9 311.4h5.6M523.9 325.1h5.6M535 317.2h5.6M535 333.2h5.6M530.9 306.1h5.6M530.9 316.1h5.6M552.5 300.1h5.6M552.5 308.2h5.6M544.5 321.1h5.6M544.5 335.2h5.6M530.3 283.5h5.6M530.3 293.9h5.6M548.6 301h5.6M548.6 312.5h5.6M542.2 296.6h5.6M542.2 306.9h5.6M545.4 299.8h5.6M545.4 312.8h5.6M537 311.4h5.6M537 324.2h5.6M551.9 296.4h5.6M551.9 307.5h5.6M522.8 311.2h5.6M522.8 325.8h5.6M539.5 305.1h5.6M539.5 313.3h5.6M547 290.3h5.6M547 297.6h5.6M554.1 304.6h5.6M554.1 322.7h5.6M547.8 303.8h5.6M547.8 312.2h5.6M548.6 286.6h5.6M548.6 295.9h5.6M524.2 305.4h5.6M524.2 316.8h5.6M553.3 302.8h5.6M553.3 316.9h5.6M524.7 295.3h5.6M524.7 308.4h5.6M529.5 301.1h5.6M529.5 312.6h5.6M528.1 287.5h5.6M528.1 301.4h5.6M549.1 305.5h5.6M549.1 313.9h5.6M528.7 308.3h5.6M528.7 319.6h5.6M541.1 306.8h5.6M541.1 321.4h5.6M530.5 306.2h5.6M530.5 320.4h5.6M550.2 310.6h5.6M550.2 319.7h5.6M551.1 298.8h5.6M551.1 310h5.6M534.6 325h5.6M534.6 342.9h5.6M554.8 299.2h5.6M554.8 306h5.6M548.6 323.9h5.6M548.6 340.4h5.6M539.1 297.7h5.6M539.1 310.1h5.6M554.1 306.8h5.6M554.1 318h5.6M544.6 288.5h5.6M544.6 297.3h5.6M539.4 307.5h5.6M539.4 320.7h5.6M552.3 312h5.6M552.3 321.2h5.6M546.2 324.4h5.6M546.2 347.2h5.6M529.7 313.5h5.6M529.7 325.9h5.6M547.8 311h5.6M547.8 324.9h5.6M548.5 297.3h5.6M548.5 312.7h5.6M534.5 293.4h5.6M534.5 306.3h5.6M525.4 307.3h5.6M525.4 321.4h5.6M522.2 296.2h5.6M522.2 305.4h5.6M553.8 316.1h5.6M553.8 331.7h5.6M524.1 302.4h5.6M524.1 312.9h5.6M553.9 290h5.6M553.9 302.1h5.6M556.4 310.4h5.6M556.4 324.7h5.6M546.5 300.4h5.6M546.5 315.2h5.6M550.7 319.8h5.6M550.7 340.2h5.6M552.8 303.5h5.6M552.8 321.3h5.6M548.4 308.5h5.6M548.4 328.2h5.6M523.5 304h5.6M523.5 313h5.6M537 301.8h5.6M537 309.3h5.6M546.3 286.1h5.6M546.3 301.2h5.6M542.7 313.4h5.6M542.7 336h5.6M540.5 322.5h5.6M540.5 334.9h5.6M545.4 322.4h5.6M545.4 337.2h5.6M533.8 291.3h5.6M533.8 302.9h5.6M548.6 315.1h5.6M548.6 337.1h5.6M549.7 293.9h5.6M549.7 301.5h5.6M533.8 293.3h5.6M533.8 302.7h5.6M549.1 282.3h5.6M549.1 294.3h5.6M523.7 290.1h5.6M523.7 301.3h5.6M542.4 305.4h5.6M542.4 315.7h5.6M519.7 308.6h5.6M519.7 322.3h5.6M551.2 321.7h5.6M551.2 335.5h5.6M524.1 303.2h5.6M524.1 316.1h5.6M551.3 305.6h5.6M551.3 317.9h5.6M539.7 311.2h5.6M539.7 320.6h5.6M534.8 291.9h5.6M534.8 299.2h5.6M531.8 292h5.6M531.8 302.6h5.6M532.1 297.9h5.6M532.1 313.1h5.6M546.1 320.7h5.6M546.1 333.4h5.6M544.2 307.8h5.6M544.2 324.7h5.6M545.2 300.7h5.6M545.2 311.9h5.6M531.2 292.3h5.6M531.2 300.1h5.6M531.6 300.1h5.6M531.6 309.1h5.6M539.5 296.3h5.6M539.5 305.1h5.6M530.8 316.6h5.6M530.8 331.2h5.6M543.8 318.9h5.6M543.8 335.4h5.6M546.8 292.5h5.6M546.8 303.4h5.6M543.3 320h5.6M543.3 334.4h5.6M525.9 297.2h5.6M525.9 314.2h5.6M544.5 287.7h5.6M544.5 293.9h5.6M521.6 301.9h5.6M521.6 311.7h5.6M547.3 298.9h5.6M547.3 309.3h5.6M530.5 313h5.6M530.5 327.6h5.6M549.8 288h5.6M549.8 299.4h5.6M534.5 313.6h5.6M534.5 329.9h5.6M525.5 308.2h5.6M525.5 326.2h5.6M556.7 303.8h5.6M556.7 310.8h5.6M539.4 292.5h5.6M539.4 304h5.6M529.5 317.6h5.6M529.5 332h5.6M525.6 307.3h5.6M525.6 326.6h5.6M557.4 292.7h5.6M557.4 305.4h5.6M534.4 288.4h5.6M534.4 301.1h5.6M556.2 293.2h5.6M556.2 302.5h5.6M543.2 314.9h5.6M543.2 326.6h5.6M537.6 318.3h5.6M537.6 332.7h5.6M552.7 293.3h5.6M552.7 302.1h5.6M527.8 291h5.6M527.8 301.7h5.6M550.9 309.5h5.6M550.9 322.1h5.6M530.3 286.6h5.6M530.3 303.3h5.6M527.5 304.3h5.6M527.5 323.3h5.6M527.2 291.6h5.6M527.2 304.8h5.6M542.6 287.9h5.6M542.6 298.5h5.6M524.9 291.1h5.6M524.9 302.2h5.6M537.9 281h5.6M537.9 290.7h5.6M537.8 307.3h5.6M537.8 317.4h5.6M527 298.2h5.6M527 305.9h5.6M543.2 290.8h5.6M543.2 300.1h5.6M533.2 323.1h5.6M533.2 340.5h5.6M522.9 292.5h5.6M522.9 300.5h5.6M523.1 309.7h5.6M523.1 321.2h5.6M541.7 304.1h5.6M541.7 320.6h5.6M537.4 307.2h5.6M537.4 315h5.6M549.9 297.1h5.6M549.9 304.8h5.6M532.8 303.8h5.6M532.8 311.5h5.6M532.6 290.4h5.6M532.6 298h5.6M520.4 298.4h5.6M520.4 307.9h5.6M524.9 288.7h5.6M524.9 300.1h5.6M535.5 314.2h5.6M535.5 327.6h5.6M551 299.3h5.6M551 315.5h5.6M530.3 304.2h5.6M530.3 315.5h5.6M552 295.8h5.6M552 308.6h5.6M542.5 318.5h5.6M542.5 335h5.6M556.3 299.5h5.6M556.3 308.8h5.6M534.8 290.4h5.6M534.8 300.5h5.6M528.7 299.8h5.6M528.7 309.1h5.6M535 300h5.6M535 309.1h5.6M553.3 301.6h5.6M553.3 310.3h5.6M522.9 303h5.6M522.9 311.7h5.6M532.4 308.3h5.6M532.4 318.2h5.6M534.7 287.8h5.6M534.7 299.6h5.6M525.8 294.5h5.6M525.8 302.9h5.6M544.9 313.9h5.6M544.9 325.5h5.6M530.2 316.8h5.6M530.2 332.5h5.6M546.2 295h5.6M546.2 307h5.6M519.7 303.5h5.6M519.7 313.4h5.6M521.2 295.6h5.6M521.2 304.7h5.6M521.6 311.2h5.6M521.6 331.6h5.6M540 312.2h5.6M540 326.5h5.6M547.6 297.5h5.6M547.6 310.2h5.6M540.2 318.3h5.6M540.2 331.9h5.6M536 305.9h5.6M536 314.9h5.6M527.6 298.3h5.6M527.6 307.7h5.6M552.2 319.2h5.6M552.2 333.5h5.6M552.8 315.8h5.6M552.8 328.2h5.6M547.6 316.3h5.6M547.6 330h5.6M551.1 289.6h5.6M551.1 304.1h5.6M550.8 312.8h5.6M550.8 323.7h5.6M539.2 290.7h5.6M539.2 301.1h5.6M533.4 296.6h5.6M533.4 310.2h5.6M538.5 296h5.6M538.5 314.2h5.6M528.5 297.5h5.6M528.5 306.1h5.6M532.2 284.7h5.6M532.2 294.5h5.6M523.6 307.5h5.6M523.6 324.8h5.6M549.4 315.1h5.6M549.4 334.6h5.6M539.3 291.5h5.6M539.3 301.9h5.6M549 299.1h5.6M549 305.4h5.6M543.4 311.5h5.6M543.4 323.4h5.6M550.9 315.7h5.6M550.9 329.7h5.6M552.6 283.7h5.6M552.6 300.8h5.6M531.1 287.5h5.6M531.1 297.2h5.6M541.9 313.9h5.6M541.9 337.4h5.6M555.5 313.8h5.6M555.5 330.7h5.6M552.9 310.6h5.6M552.9 332.8h5.6M538.1 310.7h5.6M538.1 331.9h5.6M525.9 286.6h5.6M525.9 301h5.6M536.2 305.4h5.6M536.2 313.6h5.6M551.6 290.3h5.6M551.6 299.8h5.6M532.5 300.5h5.6M532.5 313.4h5.6M548 292.3h5.6M548 301.7h5.6M533.3 319.6h5.6M533.3 338.3h5.6M554.7 308h5.6M554.7 319.9h5.6M541 306.3h5.6M541 319.8h5.6M530.6 300.3h5.6M530.6 308.7h5.6M529.4 300.1h5.6M529.4 316.4h5.6M533.5 306.1h5.6M533.5 318.2h5.6M540.4 298.1h5.6M540.4 308.3h5.6M536.9 288.2h5.6M536.9 306.1h5.6M545.7 291.1h5.6M545.7 305.9h5.6M526 296.3h5.6M526 303.1h5.6M522.1 296.7h5.6M522.1 304.3h5.6M522.8 309.5h5.6M522.8 320.3h5.6M522.6 310.4h5.6M522.6 322.8h5.6M554.1 308.4h5.6M554.1 319.7h5.6M538.5 287.5h5.6M538.5 298.4h5.6M532.9 313.8h5.6M532.9 325.8h5.6M533.6 294.8h5.6M533.6 312h5.6M538.4 303.7h5.6M538.4 310.9h5.6M519.4 301.8h5.6M519.4 318.4h5.6M524.2 299.3h5.6M524.2 307.8h5.6M556.1 313.5h5.6M556.1 325.4h5.6M524.7 310.6h5.6M524.7 326.8h5.6M548.3 322h5.6M548.3 336.2h5.6M528.4 291.4h5.6M528.4 298.7h5.6M536 309.8h5.6M536 317.6h5.6M529.9 312.6h5.6M529.9 324.3h5.6M528.4 286.7h5.6M528.4 298.3h5.6M527.1 311h5.6M527.1 322.4h5.6M544.2 287.9h5.6M544.2 304.3h5.6M545.2 304.1h5.6M545.2 316.4h5.6M537.9 300.6h5.6M537.9 310.2h5.6M549.1 318.3h5.6M549.1 329.4h5.6M549 292h5.6M549 302.5h5.6M539.1 318.1h5.6M539.1 333.7h5.6M557 307.7h5.6M557 314.5h5.6M522.6 288.1h5.6M522.6 304.7h5.6M548.7 306.5h5.6M548.7 314.4h5.6M549.9 319h5.6M549.9 331.8h5.6M549.4 282.9h5.6M549.4 301.9h5.6M552.4 296.2h5.6M552.4 312.2h5.6M553.3 315.5h5.6M553.3 331.3h5.6M530.6 319.6h5.6M530.6 332.7h5.6M548.2 321.3h5.6M548.2 333.2h5.6M539.5 320.6h5.6M539.5 334.9h5.6M531.6 305.1h5.6M531.6 318.2h5.6M529.8 306h5.6M529.8 313.7h5.6M556.4 313.5h5.6M556.4 324.8h5.6M539.2 325.6h5.6M539.2 342.2h5.6M548.7 332.4h5.6M548.7 344h5.6M523.2 320.2h5.6M523.2 333.1h5.6M544.8 333.6h5.6M544.8 343.8h5.6M524 320.2h5.6M524 329.5h5.6M543.6 336.5h5.6M543.6 348.4h5.6M530.1 323.6h5.6M530.1 341h5.6M537 335.8h5.6M537 352h5.6M542.6 336.7h5.6M542.6 350.3h5.6M543.1 338h5.6M543.1 351.4h5.6M546.3 337.8h5.6M546.3 351.7h5.6M533.7 332.7h5.6M533.7 346.5h5.6M527.1 325.1h5.6M527.1 340.2h5.6M546.6 276.1h5.6M546.6 289.6h5.6M544.1 282.1h5.6M544.1 291.7h5.6M530.7 278.2h5.6M530.7 290h5.6M532.6 278h5.6M532.6 290.1h5.6M525.2 281h5.6M525.2 293h5.6M529.2 278h5.6M529.2 291h5.6M537.2 272h5.6M537.2 288h5.6M541.2 338h5.6M541.2 354h5.6M536.2 337h5.6M536.2 350h5.6M546.2 337h5.6M546.2 351h5.6M582 130.1H587.5M581.5 162.5H587.5M581.5 165.2H587.5M576.7 281h5.6M576.7 290h5.6M575.7 286h5.6M575.7 294h5.6M577.7 285.5h5.6M577.7 293.5h5.6M576.7 289h5.6M576.7 297h5.6M575.2 292.5h5.6M575.2 301.5h5.6M576.2 295h5.6M576.2 303.2h5.6M574.7 287.5h5.6M574.7 295.5h5.6M578.2 254.3h5.6M578.2 263h5.6M577.7 259.5h5.6M577.7 267.5h5.6M578.7 263h5.6M578.7 271h5.6M577.4 266.8h5.6M577.4 275.5h5.6M579.9 238.4h5.6M579.9 239.6h5.6M579.9 231.9h5.6M579.9 233.1h5.6M580.8 215.9h5.6M580.8 217.1h5.6M580.8 209.9h5.6M580.8 211.1h5.6M580.7 192.4h5.6M580.7 200.9h5.6M581.4 162.3h5.6M581.4 175.2h5.6" stroke="#000" stroke-width="1.3" fill="none"/><path d="M114.9 308.4h0M129.8 299.9h0M110.4 284.3h0M124 308.1h0M122.8 306.3h0M105.7 313.6h0M116.4 304.8h0M99 311.7h0M90.2 302.2h0M106.8 307.3h0M110.5 304.1h0M121.8 305.3h0M103.2 307.3h0M127.1 299.7h0M122.3 303.8h0M91.3 319.2h0M108.9 293.5h0M91.7 305h0M90.1 313h0M122.1 322.6h0M93.8 307.8h0M118.9 297.6h0M99.6 295.4h0M101.5 315.4h0M118.4 320.8h0M111.2 316h0M118.8 319.4h0M115.6 303.5h0M106.5 300.6h0M104.9 313.3h0M95.3 301.5h0M126.8 323.9h0M102.1 297.4h0M126.9 323.5h0M109.9 318.5h0M111.2 305.1h0M129.5 298.1h0M125.4 306.8h0M120.3 302.1h0M110.3 314.4h0M118.1 307.4h0M119.1 303.9h0M119.2 294.3h0M107.9 306h0M123.2 306.7h0M130.3 302.3h0M125.5 323.2h0M109.5 294.5h0M120.8 318h0M91.5 302.5h0M115.1 317h0M92 303.5h0M120.8 299.4h0M96.3 304.6h0M105.9 308h0M120.9 316.1h0M123.4 310.3h0M128.3 321.9h0M117.7 309.3h0M127.3 306.9h0M121.5 291.5h0M118.1 305.4h0M124.6 306.5h0M108.3 307.7h0M92.3 314.2h0M120.1 298.8h0M96 325.4h0M93.6 319.5h0M109.2 303h0M120.1 289.3h0M103.9 317h0M99.7 304.3h0M107.2 311.9h0M126.4 320h0M126.9 319.3h0M119.5 297.2h0M125.9 320.7h0M94.9 312h0M120.5 293.6h0M118.2 312.5h0M101 289.8h0M102.9 318h0M115.2 317.2h0M111.7 321.2h0M94.5 313.7h0M93.2 304.5h0M107.1 302.1h0M112.9 296.3h0M116.2 315.4h0M118.8 320.6h0M114.8 286.1h0M122.4 309.8h0M126.4 322.2h0M93.1 306.5h0M95.8 297.2h0M93.7 300.7h0M106.8 320.8h0M130 299.4h0M115.5 293.7h0M117.8 299.4h0M92.2 293.6h0M101.7 297.1h0M104.5 318.3h0M113.5 325.8h0M113.1 307.7h0M97.2 309.8h0M106 289h0M109.1 321.1h0M124 318.1h0M94.3 297.6h0M127.3 295.9h0M126.2 305.7h0M120.6 298.1h0M130.1 303.3h0M126.7 295.8h0M91.1 317.1h0M111.7 311.3h0M129.2 309.3h0M101.3 297.4h0M128.6 311.1h0M102.6 317.5h0M91.7 310.6h0M107.6 293.3h0M104.8 319.5h0M93.5 320.1h0M100.5 298.7h0M107 309.2h0M130 308h0M104.4 293.6h0M117.8 302.5h0M97 311h0M122.1 310h0M119.1 328.7h0M95.6 289.6h0M117.2 319.6h0M128.3 297.7h0M107.3 316.9h0M129.8 303.4h0M103.5 310.1h0M97 294.6h0M109.5 293h0M101.3 310.1h0M115.7 289h0M90.6 306.5h0M107.8 310.2h0M98.3 322.1h0M101.5 309.7h0M103 307.6h0M128.5 303.3h0M112.2 314.2h0M104.8 321.8h0M114.6 294.1h0M118.5 305.7h0M116.2 290.8h0M90.7 301.8h0M117.4 315.1h0M100.1 319.6h0M97.5 309.1h0M106.4 324.3h0M110.4 318.3h0M100.2 304.6h0M118.1 308.1h0M109.6 291.1h0M100.1 289.8h0M102 295.3h0M106.3 288.8h0M113.4 308.8h0M93.4 309h0M104.4 311.8h0M103.7 300.3h0M91 300.6h0M89.5 306.8h0M101.2 300.4h0M100.7 313.5h0M122.4 288.3h0M110.6 286.2h0M89.9 301.2h0M123.5 316.5h0M93.8 315.5h0M122.9 311.7h0M121.5 294.3h0M100.9 315.3h0M117.4 301h0M92.9 306h0M112.7 297.2h0M120.8 296.8h0M101.2 295.8h0M109.6 309.7h0M126.7 319.4h0M109.6 321.4h0M117.8 302.5h0M129.5 298.3h0M101.5 294h0M98.7 317.5h0M93 314.2h0M108.9 308h0M110.2 295.1h0M104 294.7h0M92.1 316.8h0M106.7 320.4h0M109.8 309.5h0M93.6 309h0M101.1 317.9h0M109.9 291.1h0M124.2 322.8h0M90.2 321.4h0M107.5 323.7h0M109.1 319.4h0M108.9 298.1h0M123.4 309.5h0M120.5 302h0M104.1 326.7h0M104.2 316.8h0M124.6 313.5h0M99.2 292.1h0M126.5 297.6h0M96.2 299.2h0M103.7 292.2h0M89.5 318.1h0M116.7 295.7h0M128 307.5h0M93.7 303.9h0M92.6 317.9h0M90.2 305h0M121 289.1h0M120 294.6h0M112.2 302.1h0M127.9 314.8h0M106.2 307h0M127.3 296.8h0M118.6 317.3h0M124 305.7h0M99.6 302.3h0M99.8 315.3h0M121.7 298.3h0M90 312.6h0M103.8 303.7h0M108.3 294.6h0M97.5 302.7h0M99.1 298.6h0M95.8 295.6h0M124.2 310.1h0M96.3 308.5h0M126.9 327.4h0M125.4 297.5h0M116.5 287.9h0M96.6 307.9h0M116.8 298.4h0M129.9 310.3h0M125.3 291.7h0M128.5 324.3h0M124.4 311.2h0M112.4 300.7h0M127.6 309.4h0M128.2 316.1h0M95.5 324.5h0M128.7 312.9h0M92.7 306h0M100.2 307.3h0M110.8 293.7h0M113.3 292.8h0M101.6 312.8h0M118.4 321.6h0M97.9 317.9h0M129.5 307.2h0M121.6 303.7h0M95.8 300.3h0M97.3 323.9h0M125.1 309.3h0M116.6 310.9h0M114.3 294h0M107.4 303.1h0M118.5 303.1h0M115.1 322.1h0M128.4 331.6h0M110.5 328.7h0M118 329.7h0M116.7 331.7h0M124 327.5h0M101.6 328.7h0M105.8 326.4h0M124 328.7h0M112.1 326.6h0M97.9 325.9h0M100.6 328.2h0M100.8 326.9h0M103.7 326.8h0M92.3 289.8h0M126.2 289.4h0M108 283.9h0M111.6 285.2h0M129.3 292.8h0M99 333h0M110.9 336h0M129.4 332h0M121.5 282.5h0M117 284h0M175.1 312h0M146.8 301.4h0M167.4 284.6h0M150 318.3h0M173.9 328.9h0M172.9 294.8h0M173.3 324.5h0M169.3 318.5h0M159.4 305.2h0M179.7 324.1h0M161.3 294h0M178 291.7h0M171.2 285.9h0M182.6 325.2h0M183.6 307.9h0M156.3 295.8h0M183.8 287.6h0M177.7 322h0M144 311.1h0M159.1 294.7h0M154.3 304.1h0M145.6 298.1h0M150.3 315.7h0M179.7 324.3h0M171.2 303.7h0M184.7 314.4h0M152.5 317h0M182.1 301.7h0M155.8 317.7h0M152.7 308.4h0M145 312.5h0M153.1 304.4h0M170.5 305.3h0M174.6 297.2h0M162.9 304.3h0M175.4 322h0M163.1 313.2h0M151.5 305h0M177.4 317h0M160.4 313.9h0M177.6 290h0M152.3 297.5h0M174 296.4h0M150.5 316.3h0M169.2 319.3h0M167.1 295.1h0M171.4 304h0M172.9 298h0M180.8 301h0M144.8 313h0M172.6 307.3h0M151.6 322.2h0M170 308.7h0M181 320.3h0M144 307.9h0M157.7 310.7h0M166.4 291.6h0M148.9 303.3h0M165.7 322.3h0M160 301.3h0M181.3 311h0M170.6 284.9h0M152 292.8h0M143.8 315.1h0M178.1 289.8h0M145.9 312.4h0M168.3 302.3h0M162.4 316.3h0M154.9 310.2h0M184 303.2h0M172.2 295.9h0M164.5 300.3h0M159.7 291.9h0M155.1 314.7h0M182.8 297h0M146.9 298.7h0M144.9 289.8h0M174.6 296.9h0M151.1 313.3h0M153.1 318h0M181 310.4h0M146.6 315.5h0M162.9 290.9h0M149.7 291.8h0M152.4 295.6h0M149.2 297.8h0M170.6 280.1h0M165.8 299.7h0M149.4 298.4h0M167.9 319.1h0M146.2 296.6h0M143.8 296.9h0M157.1 297.8h0M147.6 303.5h0M151.7 306.6h0M167.9 316.7h0M181.4 321.5h0M165.3 298.9h0M155 296.3h0M172 318.7h0M153.2 298.5h0M154.2 303.3h0M167.6 319.9h0M161.8 303.7h0M173.8 316.7h0M164 292.2h0M148.9 296.1h0M176.4 317.2h0M173.2 307.7h0M171.9 328.6h0M146.1 304.7h0M165.8 310.4h0M158.3 320.7h0M151.8 309.7h0M177.6 306.2h0M163.9 293.6h0M143.4 299h0M152 294.7h0M145.8 298.8h0M173.8 307.4h0M158.7 311.2h0M150.3 304.5h0M178.9 288.6h0M180 287.7h0M176.3 301h0M148.3 295h0M179.4 295.9h0M175.7 305.5h0M145.7 309.1h0M161.1 289h0M170.1 295.9h0M153.8 295.7h0M165.3 293.1h0M160.2 302.8h0M146.5 306.3h0M166.5 290.4h0M151.4 301.8h0M166.9 316.7h0M178.9 297.2h0M166.7 306.6h0M146 314.9h0M169.3 309.6h0M156.3 296.2h0M146.5 297.4h0M179.7 319.3h0M171.3 320.7h0M158.9 295.2h0M161.8 295h0M180 295.8h0M160 291.1h0M181.2 309h0M179.5 309h0M158.4 284h0M179.8 293.6h0M181.6 320.8h0M172.7 284h0M144.3 295.6h0M171 313.6h0M167.4 302.4h0M178.5 288.3h0M160.1 311.9h0M182.5 301.3h0M161.3 289.7h0M157 301.1h0M168.4 315.3h0M153.2 305.9h0M151.8 304.6h0M151.5 298h0M156.1 297.6h0M168.8 308h0M182.3 311.3h0M173.5 321.1h0M183.7 312.1h0M169.7 292.5h0M181 297.1h0M177.5 303.4h0M175.7 285.2h0M182.1 314.2h0M143.6 298.9h0M157.4 289.7h0M171.2 305.2h0M152.3 307.7h0M170.7 324.2h0M157.5 300.9h0M175.4 282.8h0M145.7 316h0M183.9 287.6h0M169.8 300.8h0M165.8 310h0M175.1 292.1h0M147.3 304h0M152.6 315.1h0M161.3 299.9h0M173.9 303.9h0M181.6 290.1h0M166.1 302.7h0M170.3 300.9h0M148.5 307.1h0M179 309.5h0M163.4 299.8h0M168 304.4h0M164.6 319.2h0M169.2 294.6h0M155.7 312h0M169.9 308.9h0M164.5 290.7h0M162 308.9h0M145 296.6h0M150.1 296.2h0M176.1 306.2h0M173.9 296.2h0M153.1 318.4h0M157.2 317.2h0M152.4 291.5h0M144.2 315.5h0M143.9 310.2h0M174.6 307.9h0M151.5 322.4h0M156.5 311.7h0M158.1 305.3h0M170.7 323.4h0M174.7 316h0M147.4 303.3h0M148.1 314.9h0M160.6 314.5h0M158.2 308.2h0M172.1 303h0M159.9 304.6h0M174.4 303.5h0M176.6 303.1h0M158.5 307.9h0M165 288.9h0M143.5 308.6h0M146.1 308.1h0M148.8 304.1h0M172.4 304.6h0M176.7 316.5h0M176.2 319.7h0M175.9 282.3h0M184.1 313.1h0M144.3 305.5h0M156.3 295.3h0M167 323.9h0M179.7 319.5h0M173.4 307.5h0M144.3 317.7h0M150.9 299h0M166 316.2h0M149.1 292.2h0M167.8 307.9h0M160.3 289.9h0M158.5 311.5h0M157.7 318h0M146.7 303.9h0M177.3 320.2h0M143.6 318.5h0M155.2 305.9h0M144 319.1h0M184.6 296.5h0M178.6 299.2h0M175.5 312.3h0M171 291.4h0M152.4 314.5h0M183.7 305h0M171.8 301.6h0M154.9 304.6h0M170.4 327.5h0M148.5 322h0M178.4 329.2h0M180.7 332.7h0M169.2 329.9h0M165.5 326.9h0M152.1 328h0M155.7 326.7h0M174.1 331.9h0M165 328h0M172.9 327.1h0M178.1 330.3h0M156.3 331h0M164.1 282.9h0M150.8 289.1h0M172.5 281.8h0M147 291.5h0M151.4 290.1h0M172.7 337h0M183 332h0M204.5 310.2h0M229.4 288.1h0M221.2 331.7h0M210.5 323.6h0M216.5 326.3h0M230.3 304.3h0M201 318.6h0M223.7 313.7h0M232.9 326.1h0M227 328.9h0M227.4 333.6h0M217.5 320.2h0M227.5 330.4h0M208.7 305.5h0M224.7 331.6h0M229.6 322.5h0M214.6 301.7h0M232.6 307.6h0M237.1 322.5h0M204.1 297.4h0M215.8 333.8h0M228.6 320h0M229.1 305.7h0M232.4 315.3h0M217.6 322.4h0M197.9 310.4h0M229.6 299.5h0M211.9 289h0M209.9 307.3h0M220.8 301h0M209.2 311h0M227.3 309.9h0M228 296.1h0M214.1 319.6h0M224 323h0M235.7 333h0M201.2 318.8h0M201.1 307h0M202.2 292.1h0M197.6 304.7h0M233.2 301.7h0M217.6 296.7h0M224.2 322.3h0M237.2 293.5h0M210 316.5h0M206.1 308.5h0M215.6 310h0M207.5 307.5h0M232.4 303.8h0M228.9 297.1h0M231.5 294.8h0M202.9 307.4h0M218.9 300.8h0M221.1 317.2h0M207.2 291.1h0M235.6 302.7h0M227.6 326.1h0M221.1 294.3h0M224.5 332h0M222.3 294.2h0M206.4 316h0M207 298.6h0M227.7 287.9h0M238.6 327.9h0M235.5 296.8h0M228.1 332.6h0M238.7 325.5h0M226.2 317.3h0M238.2 322.6h0M215.8 323.4h0M208.4 303.7h0M206.4 298.7h0M220.6 306h0M227.9 306.9h0M232.2 315h0M213 304.3h0M220.6 293.6h0M220.6 297.8h0M224 309h0M209.2 318.6h0M209.6 316h0M231.3 312.4h0M227.2 320.8h0M206 303.8h0M232.5 308.8h0M214.3 309.1h0M235.8 314.8h0M219.3 312.7h0M235.2 315.8h0M202.7 294.4h0M200 304.8h0M227.2 297.5h0M214.9 309.3h0M223.8 296.3h0M216.6 310.7h0M225.7 287.5h0M236.4 305h0M221.3 311.4h0M228.6 298h0M204.2 321.6h0M238 292.2h0M226.3 328.1h0M228.9 311.9h0M228.8 337.7h0M224.6 285.7h0M224 312.3h0M218.7 321.6h0M220.8 323.2h0M210.6 320.5h0M214.5 296.6h0M211.8 296.2h0M218.4 323.1h0M230.1 305.9h0M218.3 305.9h0M200.7 309h0M217 296.6h0M210.3 315.1h0M222.2 304.4h0M221 325.7h0M211.3 306.8h0M219.5 306.4h0M228.6 318.8h0M198.1 307h0M219.5 334.4h0M216.9 302.1h0M220 299.2h0M215.2 294.4h0M210.7 312.8h0M208.3 322.9h0M223.4 321h0M228.8 324.7h0M210.4 301.4h0M231.1 311.7h0M205.1 298.2h0M226.4 307.4h0M200.2 312.9h0M223.6 291.7h0M238.2 330.8h0M236 301.1h0M232.4 323.5h0M229.6 301.5h0M224.9 291.7h0M224.8 324.5h0M224.2 307.6h0M210.2 307.5h0M226.8 324h0M231.2 318.3h0M229.6 320.4h0M236 325.3h0M206.2 308.4h0M209.2 325.3h0M199.5 300h0M216.6 321.8h0M207.1 299.7h0M215.3 302.9h0M220.3 302.8h0M226.9 315.3h0M197.4 312.4h0M238.8 301.8h0M231.8 295.7h0M217.8 315.2h0M235.1 283.6h0M215.6 323h0M228.5 311.5h0M219.7 312.7h0M226.6 295.2h0M227 297.6h0M223.6 325.6h0M226.5 300.4h0M230.6 327.7h0M224.1 293.8h0M224.7 308.7h0M219.4 322.5h0M227.1 306.1h0M226.8 309.6h0M219.6 324.8h0M199.7 317.9h0M202.1 312.9h0M225.1 323.3h0M218.7 317h0M233 307.2h0M222.2 319.8h0M208.2 305.6h0M197.9 310.3h0M234.9 304.8h0M224.5 299.8h0M204.1 310.5h0M197.8 314.2h0M209 322.3h0M202.8 304.7h0M213 293.1h0M216.9 324.2h0M217.6 317.8h0M204.7 306.1h0M221.6 311.5h0M215 306.9h0M202 305.7h0M213.1 320.8h0M204.9 320.4h0M228.4 303.9h0M202.3 319.8h0M205.8 314.5h0M234.4 332.2h0M233.2 317.7h0M213.2 308.5h0M232.4 305.6h0M207.1 312.7h0M206.4 317.1h0M224.1 298.6h0M230.3 309.9h0M205.8 303.5h0M222.6 322.1h0M238.2 325.9h0M222.9 292.1h0M205.2 321.3h0M209 287.4h0M238.2 310h0M204.4 324.3h0M211.8 288.5h0M222 294.7h0M215.5 317.5h0M203.1 294.5h0M205.3 303.3h0M233.5 323.6h0M230.5 321.4h0M231.4 296.6h0M206.7 317.4h0M237.1 324.7h0M218.4 317.9h0M204 312.3h0M223.1 326.9h0M207.4 320.8h0M219.1 324.8h0M236.1 314.3h0M200.6 314.4h0M223.4 324.2h0M217.1 324.9h0M224.8 287.9h0M223.2 314.4h0M235.8 310.9h0M224.9 309.1h0M224.3 319.9h0M226.8 306.9h0M215.9 305.3h0M197.6 306.4h0M236 304.7h0M228.1 310.3h0M201.8 299.5h0M210.2 320.9h0M217.5 304.1h0M226.5 320.2h0M239.1 318.6h0M230.1 317.9h0M233.5 317.8h0M205.4 298.4h0M203 314.1h0M200.5 312.6h0M215.9 305.2h0M205.4 321.3h0M211.6 296.8h0M198.9 304h0M215 294.8h0M203.2 297.4h0M237.3 313.1h0M206.4 310.9h0M201.6 299.5h0M223.8 313h0M215.7 313.9h0M212.5 325.3h0M230.4 308.1h0M237.4 328.2h0M213.8 333.5h0M197.7 300.4h0M224.1 308.8h0M237.9 325.3h0M198.9 298.1h0M212.3 325.3h0M216.9 302h0M234.9 297.6h0M227.1 312.2h0M218.3 311.5h0M218.1 286.8h0M203.5 309.1h0M234.1 338.6h0M212.3 333.2h0M230 336.2h0M238.2 335.3h0M230.3 336.8h0M211.6 332.4h0M227.5 337.5h0M213.4 334h0M212.1 332h0M221.1 337.3h0M201.4 328.2h0M221.8 338.4h0M202.8 331.5h0M218.8 285.8h0M214.3 283.6h0M214.6 283.7h0M212.5 283.9h0M200.8 291.7h0M221.3 279h0M225.8 283h0M238 339h0M229 338h0M255.9 301.6h0M256.4 316.1h0M254.1 327.7h0M258.7 321.8h0M258.5 305h0M256.6 316.2h0M258.8 311.6h0M252.5 308.8h0M256.1 317h0M258.6 307.7h0M256.2 299.7h0M257.1 317.5h0M257.8 316.6h0M252.8 317.4h0M255.3 302.5h0M258.2 318.1h0M253.9 307.4h0M253 313.8h0M257 310.4h0M259.1 328.4h0M252.3 303.1h0M257.5 312.6h0M252.3 308.4h0M259.1 317h0M258.3 319.9h0M256.7 320.6h0M256.3 322.9h0M256.8 313.2h0M253.9 323.5h0M257.5 321.7h0M258.5 323.3h0M256.5 298.5h0M253.2 315.7h0M253.2 316.1h0M257.1 301.6h0M257.6 322.3h0M256.3 309.1h0M253.4 310.6h0M252.8 300.3h0M258.2 318.8h0M253.5 302.2h0M258.8 292.7h0M257.5 301.6h0M252.3 308.7h0M253.2 313h0M255.8 315.4h0M257.5 300.3h0M254.7 306.4h0M256.4 312.8h0M257.6 305h0M256.8 295.9h0M254.3 301.5h0M258.3 310.6h0M253.2 310.9h0M255.9 316.9h0M254.1 306.9h0M254.4 300.5h0M253.2 319.9h0M257.5 307.5h0M254.3 313.9h0M256.4 314.9h0M258 321.6h0M252.5 317.1h0M254.7 333.7h0M255.6 331.4h0M256.8 293.1h0M398.7 291.1h0M398 325.4h0M388.4 328.2h0M395.1 325.4h0M396.1 314.8h0M393.6 321.6h0M394.8 291.9h0M389 292.2h0M396.1 301.2h0M388.3 310.1h0M391.2 319.8h0M395.2 324.1h0M392.3 340.3h0M387.8 327.6h0M395.9 297.8h0M388.3 289.8h0M394.5 316.7h0M387.1 327.8h0M397 316.8h0M396.7 300.4h0M389.2 314h0M398.1 307.4h0M392.4 289.9h0M395.1 305.3h0M388.1 328.4h0M393.4 304.4h0M389 312.4h0M387.8 304.7h0M389 328.6h0M392.6 337.4h0M389.6 312.5h0M391.8 308.4h0M393.4 319.4h0M394.5 313h0M396.9 328.4h0M392.5 327.1h0M395.9 329.8h0M388.6 291.3h0M393.1 331.8h0M395.1 332.7h0M397.7 311.8h0M393.1 329.9h0M397.8 327.9h0M397.5 313.1h0M388.8 318.4h0M391.3 327.3h0M386.8 298.5h0M388.6 303.6h0M389.1 315.7h0M392.8 323.6h0M386.3 327.3h0M397.5 301.1h0M386.6 334.4h0M394.3 307.3h0M394.8 301.1h0M395 295.9h0M398.5 323.7h0M397.1 323.1h0M391 286.3h0M388.1 314.1h0M397 295h0M387.4 335.2h0M398.1 286.7h0M393 316.1h0M391.4 300.7h0M397.4 297.8h0M391.9 340.4h0M393.7 303.5h0M391.5 315h0M396.9 324.9h0M392.5 332.3h0M395.4 305.5h0M392.4 283.7h0M397.8 323.6h0M396.2 309.7h0M396.9 324.8h0M387.4 285h0M394.4 297.8h0M387.2 302.8h0M386.9 324.7h0M386.3 315.6h0M394 311h0M397.3 320.9h0M387.6 298.2h0M394.5 287h0M390.4 304h0M393.2 294.3h0M386.6 304.7h0M394.7 322.6h0M391.6 324.7h0M396.9 330.8h0M397.2 324.9h0M395.5 298h0M395.4 293.1h0M386.6 311.5h0M393.5 293.7h0M387.4 310h0M386.6 320.5h0M387.1 294.3h0M387.3 334.8h0M391.1 324.7h0M396.8 314.1h0M396.8 339.3h0M393.6 341.5h0M387.7 338.3h0M388.8 341.5h0M387.2 283h0M394.6 357h0M397 282h0M394 347h0M395 351h0M392.5 343h0M442.1 305.4h0M430.5 306.9h0M424 325.5h0M439.5 293.9h0M438.5 297.3h0M421.8 302h0M430.9 318.4h0M443.2 332.4h0M444.2 335.1h0M439.5 300.6h0M433.7 294.1h0M422.3 303.5h0M429.3 298.2h0M444.4 304.8h0M424.8 313.1h0M424.1 300.1h0M425.6 320.2h0M433.9 315h0M430.5 327.1h0M448.6 327.5h0M425.3 309.6h0M444.2 329.7h0M427.6 297.2h0M422.9 315.8h0M424.9 303.3h0M422.4 296h0M424.9 313.8h0M436 322.7h0M423.3 318.4h0M425.9 306.7h0M439.5 312.7h0M441.4 329.7h0M423.9 328.2h0M429.7 300.1h0M434 331.4h0M438.4 333.4h0M443.4 327h0M433.7 309.5h0M425.6 325.4h0M434 307.8h0M431.3 319h0M439.5 293.9h0M444.4 324.3h0M434.8 301h0M428 329.8h0M427.3 325.8h0M434.6 340.5h0M426.3 303.5h0M427 306.1h0M432 326.6h0M444.8 316.8h0M443.1 316.8h0M427.1 312.6h0M429.6 311.5h0M441 309.2h0M430.6 329.1h0M423.2 326.9h0M428.2 314.6h0M432.9 318.5h0M433.4 316.5h0M445.1 327h0M421.9 298.9h0M439 309.1h0M430.4 320.8h0M441.2 331.5h0M429.5 300.9h0M424.5 321.7h0M424 304.1h0M442.7 335.8h0M428.6 296.9h0M445.7 291.8h0M448.1 300.7h0M441.4 328.2h0M437.9 320h0M428 318.1h0M427.6 319.9h0M446 301h0M437.2 301.6h0M432.1 322h0M431 313.9h0M428.3 316.1h0M424.1 318.6h0M436.1 304h0M446.9 329.6h0M442.8 328.1h0M428.3 330.5h0M441.3 313.6h0M437.7 319.7h0M424.4 292.8h0M439.1 310.8h0M441.7 318h0M446.1 329.1h0M422.5 313.4h0M443.2 308.4h0M433.5 327.8h0M428.6 319.1h0M428 311.9h0M446.3 296.9h0M424.1 332.8h0M437.8 313.8h0M444.8 328.6h0M441.9 325.6h0M448.2 298.4h0M443.4 296.6h0M423.2 315.7h0M432.6 308.7h0M445.3 331h0M422.2 319.2h0M428.5 326.7h0M424.8 304.3h0M422.2 308.4h0M425 291h0M437 319.8h0M426.2 330.5h0M423.5 326.4h0M433.6 306.1h0M435.9 299.4h0M426.8 326.4h0M423.1 322.2h0M443 302.5h0M438.6 309.6h0M447.1 328.3h0M434.4 340.8h0M429.5 303.9h0M443 326.1h0M447.3 333.9h0M447.4 329.7h0M434.7 312.3h0M428.5 305.5h0M422.3 297.1h0M444.5 309.4h0M443.7 315.9h0M424.3 295.9h0M442.1 313.5h0M442.7 311.3h0M427.8 337.8h0M429.3 328.3h0M422.9 308.7h0M436.7 298.4h0M433.1 324.9h0M433.4 301h0M423 299.3h0M429.8 310.2h0M422.3 312.4h0M431.6 309.5h0M423.9 328.6h0M439.1 311.9h0M441.4 299.6h0M422.1 310.9h0M424.8 291.3h0M438.2 293.3h0M426.5 290.8h0M436.8 317.1h0M432 294.9h0M426.6 306.7h0M426 300.5h0M444.3 328.2h0M444.1 327.2h0M444.5 315.7h0M442.7 327.2h0M428.8 315.9h0M448.3 330.3h0M438.3 305.4h0M434.8 300.9h0M424.2 299.5h0M440.8 293.1h0M443.3 299.6h0M448.3 325.2h0M422.5 297.4h0M432.6 312.1h0M440.1 319.2h0M431 336h0M441.8 314.7h0M436.5 312.2h0M437.5 318.9h0M433.8 300.9h0M442.9 290h0M447 304.5h0M442.9 327.7h0M431.5 309.6h0M431.1 291.8h0M445.5 339.6h0M439.9 343.7h0M440.5 342.8h0M431.7 338.9h0M444.2 340.8h0M425.2 338h0M445.4 338.9h0M430.1 340.2h0M431.6 287.9h0M428 288.4h0M447.8 290.2h0M416 300.5h0M413.6 316h0M415.5 323h0M417.5 310h0M414.5 305h0M416 327h0M418.5 318h0M418 296h0M427.8 279.5h0M427.5 284h0M449 294.2h0M453 325.5h0M451 305h0M450.5 315h0M452 335h0M440 343h0M482.8 309.6h0M478.1 297h0M481.6 297.9h0M491.8 315.6h0M474.6 308.1h0M483.8 285.1h0M500.3 299.9h0M482.6 324.9h0M486.4 314.5h0M483.7 320h0M505.5 320.6h0M501 323.4h0M503.8 303.6h0M487.6 299.3h0M492.1 307.3h0M475.1 298.8h0M488 324.9h0M483.5 321.2h0M485.5 306.6h0M499.5 311.3h0M480.9 318.7h0M476.7 309h0M490 308h0M498.7 306.5h0M497.2 325.8h0M500.5 328.7h0M496.9 301.7h0M476.9 315.5h0M494.6 320.8h0M478.6 294.1h0M496.4 292.6h0M483.3 309.3h0M505.1 310h0M500.5 295.8h0M487.5 312.2h0M505.1 320.1h0M495.6 323h0M475.1 298h0M488.3 316.9h0M498.7 313.5h0M483.2 322.3h0M477.5 318.9h0M485.3 298.3h0M475.9 303h0M503.5 302.5h0M498.9 315h0M490.7 318.4h0M505.2 317.8h0M487.1 293h0M485 329.3h0M491.2 326.4h0M479.9 314h0M487.9 321.7h0M504.4 299.2h0M476.3 308.3h0M506.1 310.8h0M485 293.3h0M500.5 318.1h0M480.9 315.5h0M499.8 315.3h0M499.8 309.4h0M484.3 295.8h0M479.9 305h0M491.7 331.8h0M492.7 326.7h0M487.1 319.5h0M486.5 297.8h0M486.2 313.8h0M482.7 324.4h0M479.9 302.7h0M474.8 289.6h0M501 324.1h0M482.2 314.9h0M499.6 302.6h0M506.1 318.3h0M475.4 297.2h0M498.4 310.5h0M479.7 295.9h0M476.7 312.7h0M487.6 316.1h0M497.6 287.2h0M475 295.2h0M483.8 315.9h0M495.8 292.1h0M496 298.5h0M477.1 299.6h0M492.8 327h0M495.5 299.2h0M500.4 310.8h0M475.8 296.8h0M486.5 325.2h0M487.4 310.1h0M505.1 313.3h0M478.8 296.4h0M494.2 318h0M494.9 314.6h0M485.8 295.7h0M499.5 312.3h0M501.9 304.9h0M493.7 323.9h0M490.7 296.9h0M498.6 316.6h0M503.6 300.2h0M479.5 303.4h0M474.3 292.3h0M490.6 296.5h0M494.7 316.2h0M498.3 315.6h0M496.8 317.2h0M504 293h0M485.8 330.3h0M484.3 323.7h0M490.6 303.8h0M491 305.4h0M498.7 308.7h0M499.5 310.9h0M499.5 297.1h0M504.9 314.4h0M484 297.4h0M493.1 312.1h0M477.9 318.3h0M480.6 297.9h0M487.2 313.8h0M496 330.6h0M478.6 304.1h0M494.7 317.8h0M478.5 296h0M480.2 290.6h0M474.6 312.5h0M501.5 329.1h0M496 326.2h0M492.7 335.9h0M500.4 322.6h0M481.2 307.6h0M488 313.6h0M488.5 312.8h0M487.3 308.2h0M503.8 312.2h0M489.8 312.4h0M488.1 289.3h0M498 304.5h0M487.6 310.1h0M477.2 305.4h0M492.1 321.1h0M498.2 321.1h0M482.1 321.5h0M483.1 303.8h0M479.1 303.4h0M475.2 305.5h0M482.5 302.6h0M485.2 322h0M495 290.9h0M503.8 296.1h0M491.3 311.6h0M497.9 328h0M481.6 308.7h0M474.8 302h0M495.2 309.4h0M498.7 298.3h0M480 305.6h0M491.7 297.7h0M499.3 319.1h0M482.6 323.7h0M500 314.4h0M500 302h0M491.5 310.4h0M504.1 312.5h0M488.3 291.5h0M506.6 299.2h0M489.7 325.1h0M480.9 308.2h0M488.9 308.5h0M492.8 309.9h0M483.7 306.8h0M475.1 296.7h0M501.1 317.5h0M479.7 288.6h0M502 298.4h0M504 313.7h0M500.8 302.6h0M505.8 307.9h0M505.4 312.3h0M474.8 304.7h0M503 292.4h0M482.2 323.8h0M487.8 315.5h0M475.7 292.6h0M482.2 306.1h0M506 300.3h0M498.3 310.6h0M506.2 318.1h0M477.4 304.2h0M474.6 305.3h0M488.3 303.7h0M497.7 314h0M482.1 297.5h0M477.4 293.9h0M479.8 314.9h0M483.8 318.1h0M482.5 327.7h0M499.7 305.3h0M489.2 308h0M485.9 325.3h0M506.6 307h0M500.9 295.5h0M486.2 302h0M492.8 293.8h0M495.1 319.4h0M505.3 308h0M506 317.5h0M484.3 298.1h0M495.9 304.1h0M498.8 310.5h0M484.4 327.8h0M490.6 307.3h0M503.7 294.1h0M489.3 325.1h0M490.3 296.6h0M491.9 297.3h0M489.1 325.3h0M501.5 294.3h0M490.7 304.9h0M490 295.6h0M505.9 300.2h0M476.5 314.5h0M501.9 293.4h0M502.8 329.8h0M493.2 337.9h0M492.6 340.2h0M490.3 340.2h0M488.8 338.6h0M483.2 334h0M490.5 336.6h0M486.8 334.2h0M478.4 327.3h0M485.5 338.3h0M476 289.5h0M496.3 284.9h0M504.6 290.3h0M498.3 285.2h0M469 313h0M470.5 318h0M474.5 289.5h0M508 298.5h0M507 312h0M506.5 324h0M492 342h0M497 341h0M548.9 310.9h0M546.1 303.6h0M533.4 295.9h0M550.5 327.2h0M545.1 305.3h0M538.7 310.4h0M535.3 303.3h0M541.1 327.5h0M527 295.8h0M560.2 317.9h0M529.2 291.4h0M552.8 334.8h0M535.1 296.3h0M550.9 311.3h0M556.5 325.3h0M549.6 285.3h0M536.8 305.5h0M552.1 319.1h0M559.5 301.9h0M546.8 323.6h0M534.3 293.4h0M524.6 320h0M539.5 314.7h0M548.9 295h0M553.5 307.9h0M545.3 289.4h0M536.9 323h0M526.7 318.6h0M537.8 324.9h0M533.7 311.1h0M555.3 304h0M547.3 328.1h0M533.1 289.1h0M551.4 306.6h0M545 301.8h0M548.2 305.7h0M539.8 317.2h0M554.7 301.6h0M525.6 319.4h0M542.3 309.1h0M549.8 293.8h0M556.9 313.1h0M550.6 308.5h0M551.4 291.7h0M527 310.5h0M556.1 310.4h0M527.5 301.8h0M532.3 307.2h0M530.9 293.8h0M551.9 309.7h0M531.5 313.3h0M543.9 314.5h0M533.3 312.8h0M553 315.5h0M553.9 304h0M537.4 333.8h0M557.6 302.9h0M551.4 332.4h0M541.9 304.2h0M556.9 311.7h0M547.4 292.8h0M542.2 314.3h0M555.1 316.4h0M549 334.3h0M532.5 319.4h0M550.6 317.6h0M551.3 305.1h0M537.3 299.3h0M528.2 314.7h0M525 301h0M556.6 323.4h0M526.9 307.5h0M556.7 296.4h0M559.2 317.1h0M549.3 308.6h0M553.5 329.3h0M555.6 311.7h0M551.2 319.2h0M526.3 308.2h0M539.8 305.5h0M549.1 293.5h0M545.5 324.7h0M543.3 328.3h0M548.2 329.8h0M536.6 297.1h0M551.4 325.8h0M552.5 297.9h0M536.6 298h0M551.9 288.1h0M526.5 295.9h0M545.2 310.1h0M522.5 315.5h0M554 328.9h0M526.9 309.9h0M554.1 311.6h0M542.5 315.6h0M537.6 295.7h0M534.6 297.2h0M534.9 305.4h0M548.9 326.2h0M547 315.5h0M548 306.6h0M534 296.4h0M534.4 305.1h0M542.3 300.6h0M533.6 323.7h0M546.6 326.8h0M549.6 298.4h0M546.1 326.7h0M528.7 305.8h0M547.3 290.9h0M524.4 307h0M550.1 304.6h0M533.3 321.3h0M552.6 294h0M537.3 321.2h0M528.3 316.8h0M559.5 307h0M542.2 298.3h0M532.3 324.7h0M528.4 317.3h0M560.2 299.4h0M537.2 295h0M559 297.9h0M546 321h0M540.4 325.4h0M555.5 297.5h0M530.6 296.5h0M553.7 316.7h0M533.1 294.1h0M530.3 313.6h0M530 298.2h0M545.4 293.5h0M527.7 296.1h0M540.7 286.1h0M540.6 313h0M529.8 301.5h0M546 295.9h0M536 331.4h0M525.7 296.3h0M525.9 315.5h0M544.5 312.7h0M540.2 311h0M552.7 301.2h0M535.6 307.7h0M535.4 294.1h0M523.2 302.9h0M527.7 294.5h0M538.3 321h0M553.8 307.5h0M533.1 310.4h0M554.8 301.6h0M545.3 327.1h0M559.1 304.6h0M537.6 295.3h0M531.5 305.1h0M537.8 304h0M556.1 305.9h0M525.7 307.3h0M535.2 313.2h0M537.5 293.4h0M528.6 298.8h0M547.7 320h0M533 324.3h0M549 301.8h0M522.5 308.4h0M524 300.4h0M524.4 320.6h0M542.8 319.4h0M550.4 303.4h0M543 324.5h0M538.8 310.7h0M530.4 303.3h0M555 326.3h0M555.6 322.1h0M550.4 322.6h0M553.9 296.7h0M553.6 318.3h0M542 296.2h0M536.2 303.8h0M541.3 305.5h0M531.3 301.8h0M535 289h0M526.4 316.6h0M552.2 325.6h0M542.1 296.3h0M551.8 302.5h0M546.2 317.5h0M553.7 322.9h0M555.4 292h0M533.9 291.9h0M544.7 325.3h0M558.3 322.7h0M555.7 323h0M540.9 322h0M528.7 293.8h0M539 309.5h0M554.4 295.1h0M535.3 307.5h0M550.8 296.9h0M536.1 328.5h0M557.5 314.3h0M543.8 313.2h0M533.4 304.4h0M532.2 307.4h0M536.3 311.8h0M543.2 303.5h0M539.7 297.1h0M548.5 298.2h0M528.8 299.8h0M524.9 300.6h0M525.6 314.9h0M525.4 317h0M556.9 314.1h0M541.3 292.9h0M535.7 319.7h0M536.4 304.3h0M541.2 307.4h0M522.2 311h0M527 303.6h0M558.9 319.1h0M527.5 318.6h0M551.1 329.2h0M531.2 295.5h0M538.8 313.5h0M532.7 318.5h0M531.2 292.7h0M529.9 316.5h0M547 297h0M548 310.6h0M540.7 305.4h0M551.9 323.6h0M551.8 297.5h0M541.9 326.5h0M559.8 311.1h0M525.4 296.7h0M551.5 310.4h0M552.7 324.8h0M552.2 292.6h0M555.2 303.9h0M556.1 323.4h0M533.4 326.7h0M551 327.2h0M542.3 328.3h0M534.4 311.6h0M532.6 310.2h0M559.2 319.7h0M542 333.3h0M551.5 336.1h0M526 325.8h0M547.6 337.7h0M526.8 324.3h0M546.4 340.3h0M532.9 329.5h0M539.8 340.3h0M545.4 341.4h0M545.9 341.4h0M549.1 341.8h0M536.5 335.8h0M529.9 328.6h0M549.4 283.9h0M546.9 286.5h0M533.5 284.4h0M535.4 286.2h0M528 288h0M532 286h0M540 283h0M544 343h0M539 342h0M549 342h0M583.4 134.9h0M583.3 138.4h0M583 141.3h0M583.9 144.3h0M583.2 146.7h0M583.8 150.9h0M583.8 154.5h0M583.6 157.6h0M579.5 286h0M578.5 290h0M580.5 289.5h0M579.5 293h0M578 296.5h0M579 299h0M577.5 291.5h0M581 259h0M580.5 263.5h0M581.5 267h0M580.2 270.8h0M582.7 239h0M582.7 232.5h0M583.6 216.5h0M583.6 210.5h0M583.5 196.5h0M584.2 170h0" stroke="#000" stroke-width="5.1" stroke-linecap="round" fill="none"/></g><path d="M87.5 437.0V62.5H587.5V437.0M91.96 62.5v10M91.96 437.0v-10M121.50 62.5v19M121.50 437.0v-19M151.04 62.5v10M151.04 437.0v-10M180.58 62.5v10M180.58 437.0v-10M210.12 62.5v10M210.12 437.0v-10M239.66 62.5v10M239.66 437.0v-10M269.20 62.5v19M269.20 437.0v-19M298.74 62.5v10M298.74 437.0v-10M328.28 62.5v10M328.28 437.0v-10M357.82 62.5v10M357.82 437.0v-10M387.36 62.5v10M387.36 437.0v-10M416.90 62.5v19M416.90 437.0v-19M446.44 62.5v10M446.44 437.0v-10M475.98 62.5v10M475.98 437.0v-10M505.52 62.5v10M505.52 437.0v-10M535.06 62.5v10M535.06 437.0v-10M564.60 62.5v19M564.60 437.0v-19M87.5 78.61h10M587.5 78.61h-10M87.5 96.90h19M587.5 96.90h-19M87.5 115.19h10M587.5 115.19h-10M87.5 133.48h10M587.5 133.48h-10M87.5 151.77h10M587.5 151.77h-10M87.5 170.06h10M587.5 170.06h-10M87.5 188.35h19M587.5 188.35h-19M87.5 206.64h10M587.5 206.64h-10M87.5 224.93h10M587.5 224.93h-10M87.5 243.22h10M587.5 243.22h-10M87.5 261.51h10M587.5 261.51h-10M87.5 279.80h19M587.5 279.80h-19M87.5 298.09h10M587.5 298.09h-10M87.5 316.38h10M587.5 316.38h-10M87.5 334.67h10M587.5 334.67h-10M87.5 352.96h10M587.5 352.96h-10M87.5 371.25h19M587.5 371.25h-19M87.5 389.54h10M587.5 389.54h-10M87.5 407.83h10M587.5 407.83h-10M87.5 426.12h10M587.5 426.12h-10" stroke="#000" stroke-width="1.1" fill="none"/><path d="M87 437H588" stroke="#000" stroke-opacity="0.8" stroke-width="1.6"/><path clip-path="url(#c)" d="M87.5 308.4H562.6C567 308.4 571 307 574 304.2C577 301 579 294 580.6 285.6C581.2 280 581.6 265 581.8 258L582.4 240L583.6 200L584.4 160L584.9 130L585.3 62" stroke="#ff00ff" stroke-opacity="0.55" stroke-width="1.2" fill="none"/><g font-family="Liberation Serif, serif" fill="#000" stroke="#000" stroke-width="0.7" font-size="20.5"><text x="337.3" y="40.8" text-anchor="middle" textLength="197.5" lengthAdjust="spacingAndGlyphs">OGLE-2026-BLG-0149</text><text x="336.2" y="491.7" text-anchor="middle" textLength="129.5" lengthAdjust="spacingAndGlyphs">HJD - 2450000</text><text transform="translate(26.6 249.4) rotate(-90)" text-anchor="middle" stroke-width="0.45" textLength="106" lengthAdjust="spacingAndGlyphs">I magnitude</text><text x="121.50" y="462.6" text-anchor="middle" font-size="20.8" stroke-width="0.35">8000</text><text x="269.20" y="462.6" text-anchor="middle" font-size="20.8" stroke-width="0.35">9000</text><text x="416.90" y="462.6" text-anchor="middle" font-size="20.8" stroke-width="0.35">10000</text><text x="564.60" y="462.6" text-anchor="middle" font-size="20.8" stroke-width="0.35">11000</text><text x="78.1" y="104.10" text-anchor="end" font-size="20.8" stroke-width="0.55">17</text><text x="78.1" y="195.55" text-anchor="end" font-size="20.8" stroke-width="0.55">17.5</text><text x="78.1" y="287.00" text-anchor="end" font-size="20.8" stroke-width="0.55">18</text><text x="78.1" y="378.45" text-anchor="end" font-size="20.8" stroke-width="0.55">18.5</text></g></svg></body></html>
